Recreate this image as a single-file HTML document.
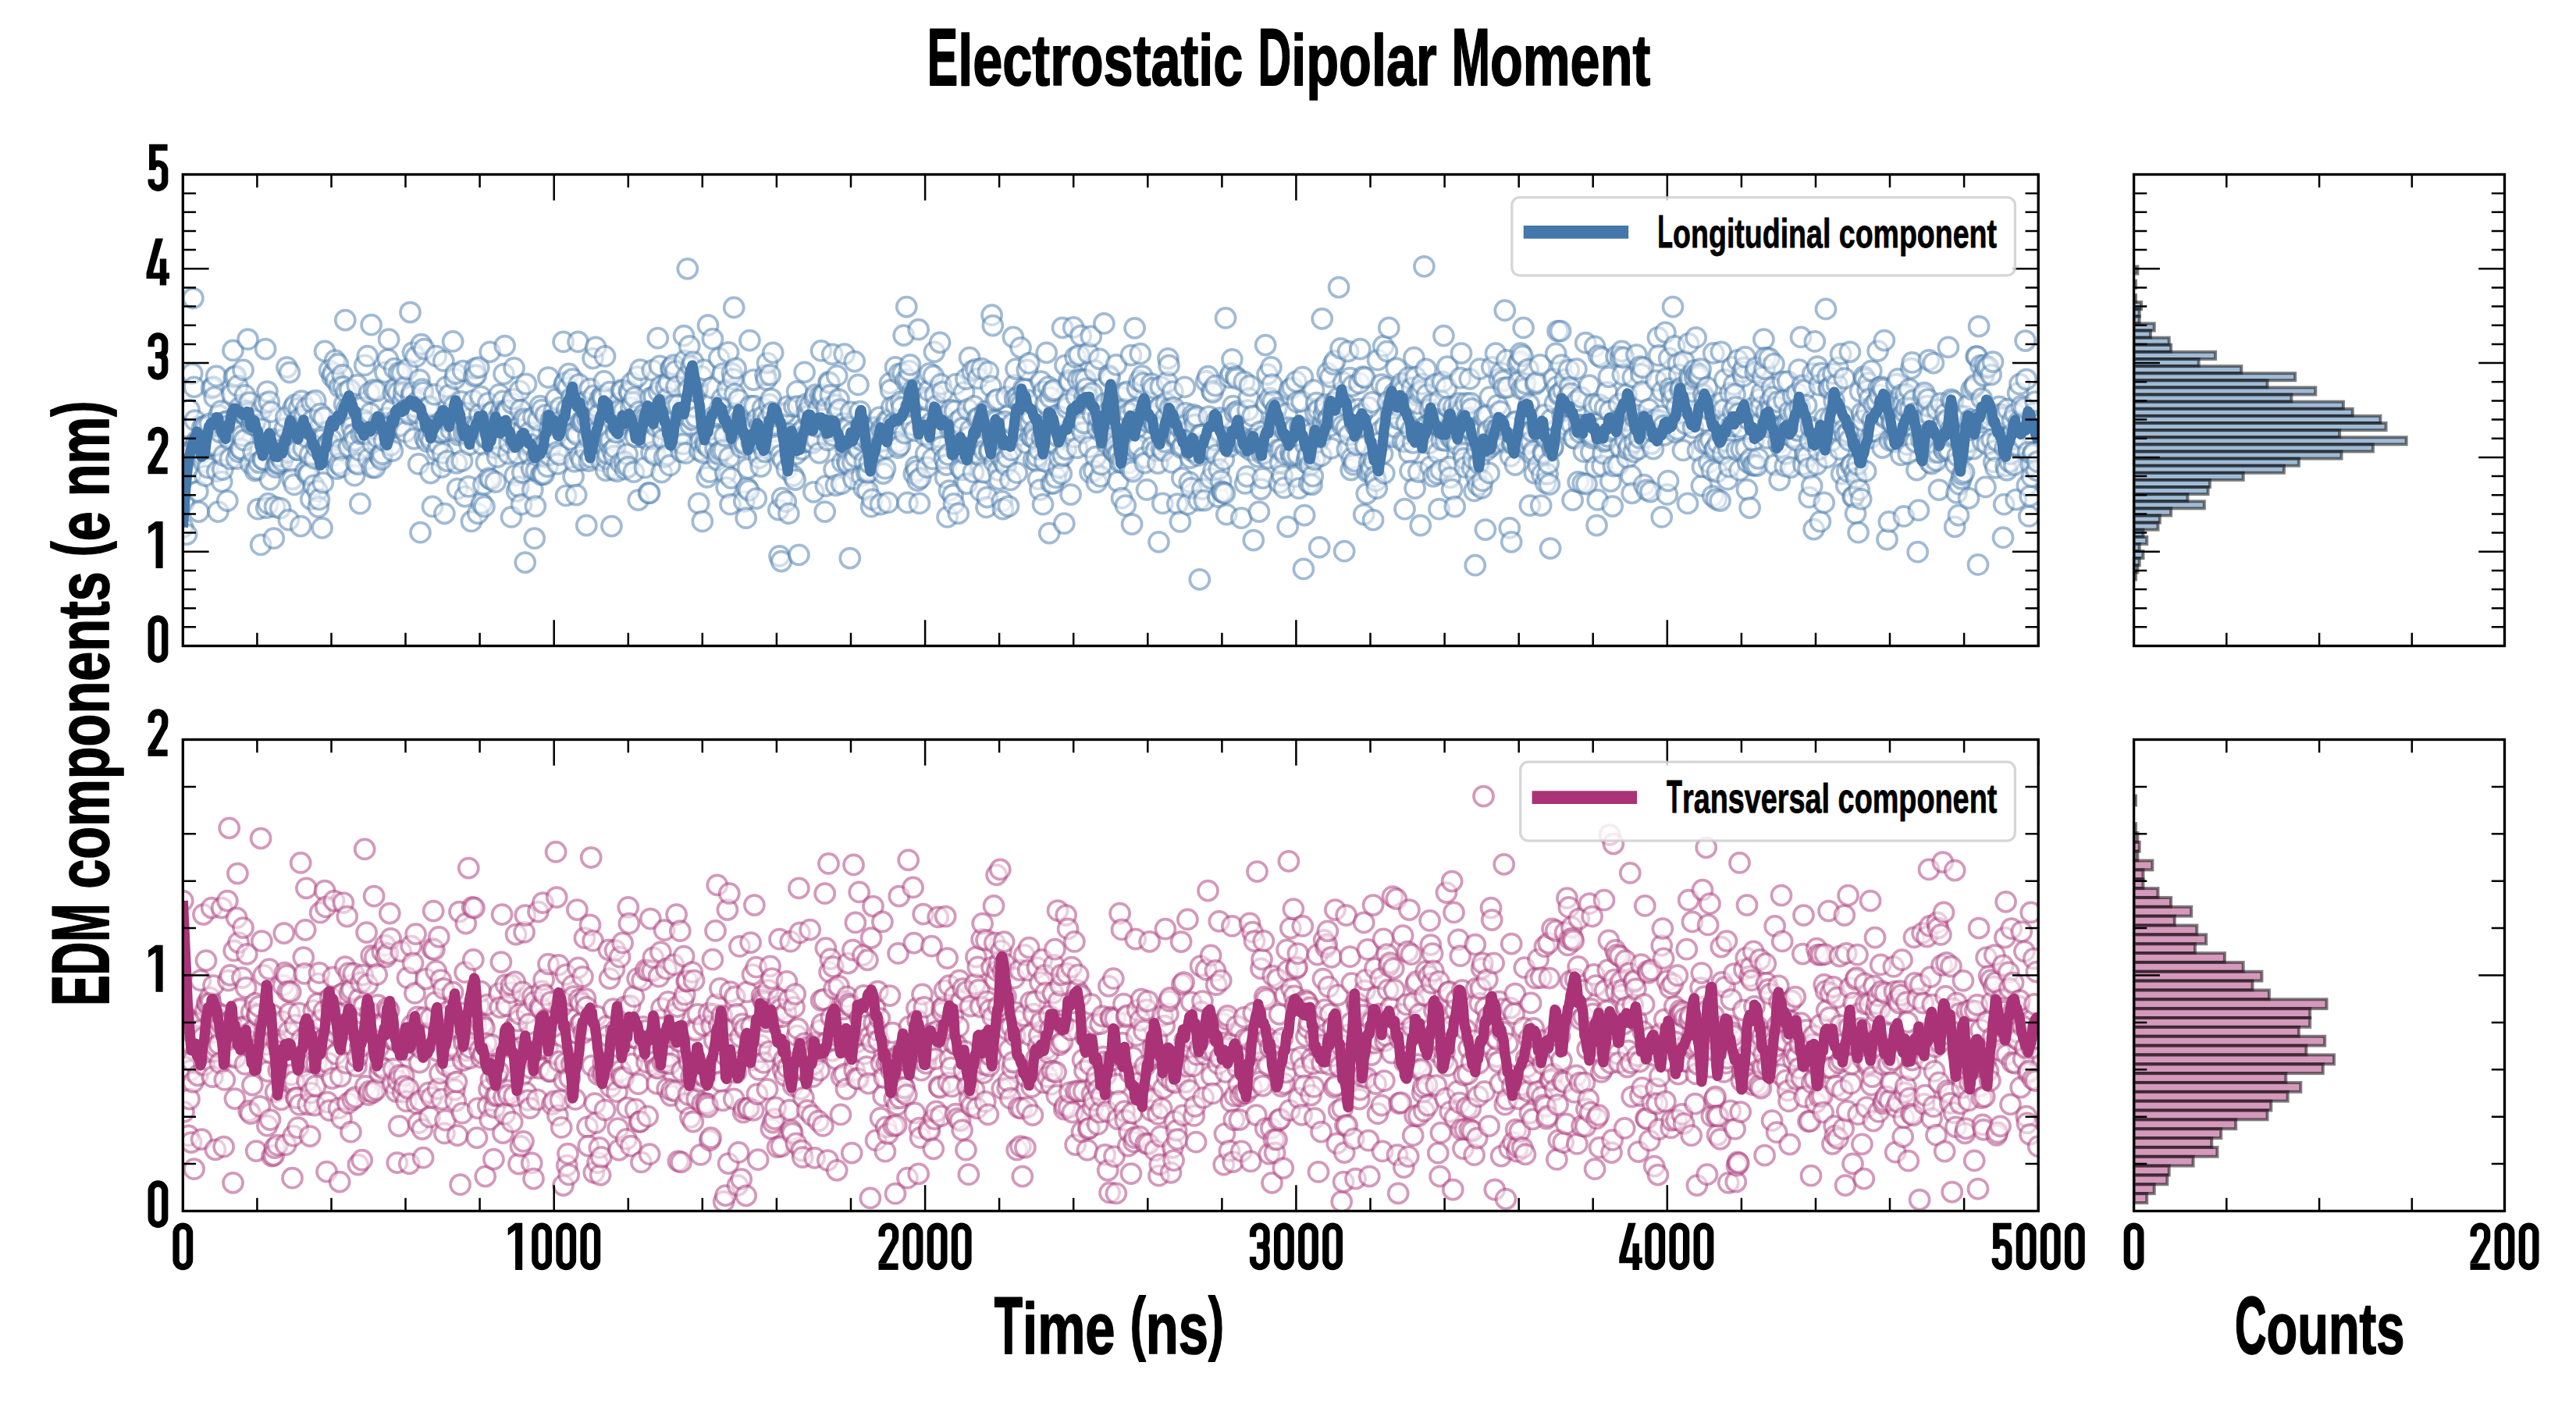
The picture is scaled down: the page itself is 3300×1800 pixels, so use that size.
<!DOCTYPE html><html><head><meta charset="utf-8"><title>Electrostatic Dipolar Moment</title><style>html,body{margin:0;padding:0;background:#fff;overflow:hidden}svg{display:block}text{white-space:pre;font-family:"Liberation Sans",sans-serif;font-weight:bold;fill:#000;stroke:#000;stroke-width:1.5px;vector-effect:non-scaling-stroke;stroke-linejoin:round}</style></head><body><svg width="3300" height="1800" viewBox="0 0 3300 1800"><rect width="3300" height="1800" fill="#fff"/><defs><clipPath id="c1"><rect x="234.3" y="223.5" width="2376.8999999999996" height="604.0"/></clipPath><clipPath id="c2"><rect x="234.3" y="947.5" width="2376.8999999999996" height="604.0"/></clipPath><clipPath id="c3"><rect x="2733.6" y="223.5" width="474.9000000000001" height="604.0"/></clipPath><clipPath id="c4"><rect x="2733.6" y="947.5" width="474.9000000000001" height="604.0"/></clipPath></defs><g clip-path="url(#c3)" fill="#4477AA" fill-opacity="0.5" stroke="#000" stroke-opacity="0.5" stroke-width="4"><rect x="2733.6" y="341.50" width="4.75" height="9.11"/><rect x="2733.6" y="350.61" width="0.00" height="9.11"/><rect x="2733.6" y="359.73" width="2.37" height="9.11"/><rect x="2733.6" y="368.84" width="0.00" height="9.11"/><rect x="2733.6" y="377.95" width="2.37" height="9.11"/><rect x="2733.6" y="387.07" width="9.50" height="9.11"/><rect x="2733.6" y="396.18" width="7.12" height="9.11"/><rect x="2733.6" y="405.30" width="7.12" height="9.11"/><rect x="2733.6" y="414.41" width="26.12" height="9.11"/><rect x="2733.6" y="423.52" width="21.37" height="9.11"/><rect x="2733.6" y="432.64" width="45.12" height="9.11"/><rect x="2733.6" y="441.75" width="47.49" height="9.11"/><rect x="2733.6" y="450.86" width="104.48" height="9.11"/><rect x="2733.6" y="459.98" width="83.11" height="9.11"/><rect x="2733.6" y="469.09" width="137.72" height="9.11"/><rect x="2733.6" y="478.20" width="206.58" height="9.11"/><rect x="2733.6" y="487.32" width="170.96" height="9.11"/><rect x="2733.6" y="496.43" width="232.70" height="9.11"/><rect x="2733.6" y="505.55" width="201.83" height="9.11"/><rect x="2733.6" y="514.66" width="268.32" height="9.11"/><rect x="2733.6" y="523.77" width="280.19" height="9.11"/><rect x="2733.6" y="532.89" width="315.81" height="9.11"/><rect x="2733.6" y="542.00" width="322.93" height="9.11"/><rect x="2733.6" y="551.11" width="263.57" height="9.11"/><rect x="2733.6" y="560.23" width="349.05" height="9.11"/><rect x="2733.6" y="569.34" width="306.31" height="9.11"/><rect x="2733.6" y="578.45" width="265.94" height="9.11"/><rect x="2733.6" y="587.57" width="211.33" height="9.11"/><rect x="2733.6" y="596.68" width="192.33" height="9.11"/><rect x="2733.6" y="605.80" width="140.10" height="9.11"/><rect x="2733.6" y="614.91" width="97.35" height="9.11"/><rect x="2733.6" y="624.02" width="94.98" height="9.11"/><rect x="2733.6" y="633.14" width="68.86" height="9.11"/><rect x="2733.6" y="642.25" width="90.23" height="9.11"/><rect x="2733.6" y="651.36" width="47.49" height="9.11"/><rect x="2733.6" y="660.48" width="33.24" height="9.11"/><rect x="2733.6" y="669.59" width="30.87" height="9.11"/><rect x="2733.6" y="678.70" width="11.87" height="9.11"/><rect x="2733.6" y="687.82" width="16.62" height="9.11"/><rect x="2733.6" y="696.93" width="7.12" height="9.11"/><rect x="2733.6" y="706.05" width="11.87" height="9.11"/><rect x="2733.6" y="715.16" width="7.12" height="9.11"/><rect x="2733.6" y="724.27" width="4.75" height="9.11"/><rect x="2733.6" y="733.39" width="2.37" height="9.11"/></g><g clip-path="url(#c4)" fill="#AA3377" fill-opacity="0.5" stroke="#000" stroke-opacity="0.5" stroke-width="4"><rect x="2733.6" y="1019.60" width="2.37" height="11.85"/><rect x="2733.6" y="1031.45" width="0.00" height="11.85"/><rect x="2733.6" y="1043.30" width="0.00" height="11.85"/><rect x="2733.6" y="1055.15" width="2.37" height="11.85"/><rect x="2733.6" y="1067.00" width="4.75" height="11.85"/><rect x="2733.6" y="1078.85" width="7.12" height="11.85"/><rect x="2733.6" y="1090.70" width="4.75" height="11.85"/><rect x="2733.6" y="1102.55" width="23.74" height="11.85"/><rect x="2733.6" y="1114.40" width="11.87" height="11.85"/><rect x="2733.6" y="1126.25" width="11.87" height="11.85"/><rect x="2733.6" y="1138.10" width="30.87" height="11.85"/><rect x="2733.6" y="1149.95" width="47.49" height="11.85"/><rect x="2733.6" y="1161.80" width="73.61" height="11.85"/><rect x="2733.6" y="1173.65" width="52.24" height="11.85"/><rect x="2733.6" y="1185.50" width="80.73" height="11.85"/><rect x="2733.6" y="1197.35" width="92.61" height="11.85"/><rect x="2733.6" y="1209.20" width="78.36" height="11.85"/><rect x="2733.6" y="1221.05" width="116.35" height="11.85"/><rect x="2733.6" y="1232.90" width="140.10" height="11.85"/><rect x="2733.6" y="1244.75" width="163.84" height="11.85"/><rect x="2733.6" y="1256.60" width="151.97" height="11.85"/><rect x="2733.6" y="1268.45" width="173.34" height="11.85"/><rect x="2733.6" y="1280.30" width="246.95" height="11.85"/><rect x="2733.6" y="1292.15" width="225.58" height="11.85"/><rect x="2733.6" y="1304.00" width="225.58" height="11.85"/><rect x="2733.6" y="1315.85" width="211.33" height="11.85"/><rect x="2733.6" y="1327.70" width="244.57" height="11.85"/><rect x="2733.6" y="1339.55" width="220.83" height="11.85"/><rect x="2733.6" y="1351.40" width="256.45" height="11.85"/><rect x="2733.6" y="1363.25" width="242.20" height="11.85"/><rect x="2733.6" y="1375.10" width="194.71" height="11.85"/><rect x="2733.6" y="1386.95" width="213.70" height="11.85"/><rect x="2733.6" y="1398.80" width="197.08" height="11.85"/><rect x="2733.6" y="1410.65" width="175.71" height="11.85"/><rect x="2733.6" y="1422.50" width="170.96" height="11.85"/><rect x="2733.6" y="1434.35" width="130.60" height="11.85"/><rect x="2733.6" y="1446.20" width="111.60" height="11.85"/><rect x="2733.6" y="1458.05" width="99.73" height="11.85"/><rect x="2733.6" y="1469.90" width="106.85" height="11.85"/><rect x="2733.6" y="1481.75" width="75.98" height="11.85"/><rect x="2733.6" y="1493.60" width="45.12" height="11.85"/><rect x="2733.6" y="1505.45" width="42.74" height="11.85"/><rect x="2733.6" y="1517.30" width="26.12" height="11.85"/><rect x="2733.6" y="1529.15" width="16.62" height="11.85"/></g><g clip-path="url(#c1)"><g fill="#fff" fill-opacity="0.5" stroke="#4477AA" stroke-opacity="0.5" stroke-width="3.75"><circle cx="234.3" cy="675.5" r="12.5"/><circle cx="235.5" cy="643.9" r="12.5"/><circle cx="236.7" cy="572" r="12.5"/><circle cx="237.9" cy="579.8" r="12.5"/><circle cx="239.1" cy="684.6" r="12.5"/><circle cx="240.2" cy="588.1" r="12.5"/><circle cx="241.4" cy="597.8" r="12.5"/><circle cx="242.6" cy="525.1" r="12.5"/><circle cx="243.8" cy="580.6" r="12.5"/><circle cx="245" cy="606.2" r="12.5"/><circle cx="246.2" cy="478.5" r="12.5"/><circle cx="247.4" cy="382" r="12.5"/><circle cx="248.6" cy="495.8" r="12.5"/><circle cx="249.7" cy="538.5" r="12.5"/><circle cx="250.9" cy="568.8" r="12.5"/><circle cx="252.1" cy="565" r="12.5"/><circle cx="253.3" cy="629.5" r="12.5"/><circle cx="254.5" cy="655.5" r="12.5"/><circle cx="255.7" cy="578.7" r="12.5"/><circle cx="256.9" cy="568" r="12.5"/><circle cx="258.1" cy="580.6" r="12.5"/><circle cx="259.3" cy="547.4" r="12.5"/><circle cx="260.4" cy="591.5" r="12.5"/><circle cx="261.6" cy="545.8" r="12.5"/><circle cx="262.8" cy="609.7" r="12.5"/><circle cx="264" cy="547" r="12.5"/><circle cx="265.2" cy="571.7" r="12.5"/><circle cx="266.4" cy="599.1" r="12.5"/><circle cx="267.6" cy="562" r="12.5"/><circle cx="268.8" cy="542.9" r="12.5"/><circle cx="270" cy="567.7" r="12.5"/><circle cx="271.1" cy="497.3" r="12.5"/><circle cx="272.3" cy="570.7" r="12.5"/><circle cx="273.5" cy="495.7" r="12.5"/><circle cx="274.7" cy="508.9" r="12.5"/><circle cx="275.9" cy="570.8" r="12.5"/><circle cx="277.1" cy="481.9" r="12.5"/><circle cx="278.3" cy="603.8" r="12.5"/><circle cx="279.5" cy="655.5" r="12.5"/><circle cx="280.6" cy="532" r="12.5"/><circle cx="281.8" cy="553.6" r="12.5"/><circle cx="283" cy="526.6" r="12.5"/><circle cx="284.2" cy="617.1" r="12.5"/><circle cx="285.4" cy="601.6" r="12.5"/><circle cx="286.6" cy="583.6" r="12.5"/><circle cx="287.8" cy="546.4" r="12.5"/><circle cx="289" cy="540.4" r="12.5"/><circle cx="290.2" cy="540" r="12.5"/><circle cx="291.3" cy="641.6" r="12.5"/><circle cx="292.5" cy="545.7" r="12.5"/><circle cx="293.7" cy="562.5" r="12.5"/><circle cx="294.9" cy="587.9" r="12.5"/><circle cx="296.1" cy="548.6" r="12.5"/><circle cx="297.3" cy="504.9" r="12.5"/><circle cx="298.5" cy="448.9" r="12.5"/><circle cx="299.7" cy="483" r="12.5"/><circle cx="300.9" cy="552.8" r="12.5"/><circle cx="302" cy="481.6" r="12.5"/><circle cx="303.2" cy="587.7" r="12.5"/><circle cx="304.4" cy="494.4" r="12.5"/><circle cx="305.6" cy="578.9" r="12.5"/><circle cx="306.8" cy="522.4" r="12.5"/><circle cx="308" cy="574.5" r="12.5"/><circle cx="309.2" cy="575.6" r="12.5"/><circle cx="310.4" cy="558.2" r="12.5"/><circle cx="311.5" cy="473.9" r="12.5"/><circle cx="312.7" cy="563.9" r="12.5"/><circle cx="313.9" cy="506.4" r="12.5"/><circle cx="315.1" cy="531.7" r="12.5"/><circle cx="316.3" cy="526.4" r="12.5"/><circle cx="317.5" cy="434.7" r="12.5"/><circle cx="318.7" cy="529.4" r="12.5"/><circle cx="319.9" cy="515.5" r="12.5"/><circle cx="321.1" cy="594" r="12.5"/><circle cx="322.2" cy="543.9" r="12.5"/><circle cx="323.4" cy="536.7" r="12.5"/><circle cx="324.6" cy="579.4" r="12.5"/><circle cx="325.8" cy="544" r="12.5"/><circle cx="327" cy="603" r="12.5"/><circle cx="328.2" cy="538.3" r="12.5"/><circle cx="329.4" cy="601" r="12.5"/><circle cx="330.6" cy="652.2" r="12.5"/><circle cx="331.8" cy="592.5" r="12.5"/><circle cx="332.9" cy="544.4" r="12.5"/><circle cx="334.1" cy="697.9" r="12.5"/><circle cx="335.3" cy="524.5" r="12.5"/><circle cx="336.5" cy="588.7" r="12.5"/><circle cx="337.7" cy="588.7" r="12.5"/><circle cx="338.9" cy="516.5" r="12.5"/><circle cx="340.1" cy="447.1" r="12.5"/><circle cx="341.3" cy="650.7" r="12.5"/><circle cx="342.4" cy="501.5" r="12.5"/><circle cx="343.6" cy="645.2" r="12.5"/><circle cx="344.8" cy="514.7" r="12.5"/><circle cx="346" cy="614.3" r="12.5"/><circle cx="347.2" cy="527.7" r="12.5"/><circle cx="348.4" cy="566.6" r="12.5"/><circle cx="349.6" cy="562.7" r="12.5"/><circle cx="350.8" cy="689.7" r="12.5"/><circle cx="352" cy="649.3" r="12.5"/><circle cx="353.1" cy="598.6" r="12.5"/><circle cx="354.3" cy="585.7" r="12.5"/><circle cx="355.5" cy="594.6" r="12.5"/><circle cx="356.7" cy="593.2" r="12.5"/><circle cx="357.9" cy="584.5" r="12.5"/><circle cx="359.1" cy="651.1" r="12.5"/><circle cx="360.3" cy="575.1" r="12.5"/><circle cx="361.5" cy="590.3" r="12.5"/><circle cx="362.7" cy="562.6" r="12.5"/><circle cx="363.8" cy="575.4" r="12.5"/><circle cx="365" cy="549" r="12.5"/><circle cx="366.2" cy="534.7" r="12.5"/><circle cx="367.4" cy="470.6" r="12.5"/><circle cx="368.6" cy="579.3" r="12.5"/><circle cx="369.8" cy="666.1" r="12.5"/><circle cx="371" cy="477.1" r="12.5"/><circle cx="372.2" cy="563.1" r="12.5"/><circle cx="373.3" cy="591.3" r="12.5"/><circle cx="374.5" cy="614" r="12.5"/><circle cx="375.7" cy="522.5" r="12.5"/><circle cx="376.9" cy="620.9" r="12.5"/><circle cx="378.1" cy="518.6" r="12.5"/><circle cx="379.3" cy="540.4" r="12.5"/><circle cx="380.5" cy="575.8" r="12.5"/><circle cx="381.7" cy="576.6" r="12.5"/><circle cx="382.9" cy="523.2" r="12.5"/><circle cx="384" cy="535.8" r="12.5"/><circle cx="385.2" cy="674" r="12.5"/><circle cx="386.4" cy="513.6" r="12.5"/><circle cx="387.6" cy="548" r="12.5"/><circle cx="388.8" cy="574" r="12.5"/><circle cx="390" cy="531.9" r="12.5"/><circle cx="391.2" cy="604.1" r="12.5"/><circle cx="392.4" cy="523.2" r="12.5"/><circle cx="393.6" cy="560.5" r="12.5"/><circle cx="394.7" cy="608.7" r="12.5"/><circle cx="395.9" cy="606.4" r="12.5"/><circle cx="397.1" cy="582.7" r="12.5"/><circle cx="398.3" cy="639.5" r="12.5"/><circle cx="399.5" cy="515.6" r="12.5"/><circle cx="400.7" cy="537.9" r="12.5"/><circle cx="401.9" cy="621.9" r="12.5"/><circle cx="403.1" cy="587.3" r="12.5"/><circle cx="404.2" cy="513.2" r="12.5"/><circle cx="405.4" cy="572.4" r="12.5"/><circle cx="406.6" cy="628.8" r="12.5"/><circle cx="407.8" cy="649.5" r="12.5"/><circle cx="409" cy="639.9" r="12.5"/><circle cx="410.2" cy="530.1" r="12.5"/><circle cx="411.4" cy="563.4" r="12.5"/><circle cx="412.6" cy="676.3" r="12.5"/><circle cx="413.8" cy="618.4" r="12.5"/><circle cx="414.9" cy="535.2" r="12.5"/><circle cx="416.1" cy="449.9" r="12.5"/><circle cx="417.3" cy="571.8" r="12.5"/><circle cx="418.5" cy="580" r="12.5"/><circle cx="419.7" cy="569.8" r="12.5"/><circle cx="420.9" cy="567.3" r="12.5"/><circle cx="422.1" cy="474.4" r="12.5"/><circle cx="423.3" cy="584.5" r="12.5"/><circle cx="424.5" cy="563.1" r="12.5"/><circle cx="425.6" cy="482.5" r="12.5"/><circle cx="426.8" cy="478" r="12.5"/><circle cx="428" cy="583.4" r="12.5"/><circle cx="429.2" cy="461.7" r="12.5"/><circle cx="430.4" cy="487.8" r="12.5"/><circle cx="431.6" cy="600.5" r="12.5"/><circle cx="432.8" cy="466.3" r="12.5"/><circle cx="434" cy="594.4" r="12.5"/><circle cx="435.1" cy="495.7" r="12.5"/><circle cx="436.3" cy="576.1" r="12.5"/><circle cx="437.5" cy="598" r="12.5"/><circle cx="438.7" cy="480.3" r="12.5"/><circle cx="439.9" cy="495.3" r="12.5"/><circle cx="441.1" cy="517.8" r="12.5"/><circle cx="442.3" cy="410.1" r="12.5"/><circle cx="443.5" cy="502.2" r="12.5"/><circle cx="444.7" cy="522.9" r="12.5"/><circle cx="445.8" cy="534.8" r="12.5"/><circle cx="447" cy="572.3" r="12.5"/><circle cx="448.2" cy="499.4" r="12.5"/><circle cx="449.4" cy="533.1" r="12.5"/><circle cx="450.6" cy="547.4" r="12.5"/><circle cx="451.8" cy="565.8" r="12.5"/><circle cx="453" cy="556.4" r="12.5"/><circle cx="454.2" cy="609.2" r="12.5"/><circle cx="455.4" cy="563.8" r="12.5"/><circle cx="456.5" cy="593" r="12.5"/><circle cx="457.7" cy="493.2" r="12.5"/><circle cx="458.9" cy="594.9" r="12.5"/><circle cx="460.1" cy="576.8" r="12.5"/><circle cx="461.3" cy="645.2" r="12.5"/><circle cx="462.5" cy="555.9" r="12.5"/><circle cx="463.7" cy="521.8" r="12.5"/><circle cx="464.9" cy="537.4" r="12.5"/><circle cx="466" cy="554.7" r="12.5"/><circle cx="467.2" cy="467.9" r="12.5"/><circle cx="468.4" cy="555.7" r="12.5"/><circle cx="469.6" cy="541.2" r="12.5"/><circle cx="470.8" cy="456.2" r="12.5"/><circle cx="472" cy="587.8" r="12.5"/><circle cx="473.2" cy="503.4" r="12.5"/><circle cx="474.4" cy="529.6" r="12.5"/><circle cx="475.6" cy="416.2" r="12.5"/><circle cx="476.7" cy="598.8" r="12.5"/><circle cx="477.9" cy="568.4" r="12.5"/><circle cx="479.1" cy="499.3" r="12.5"/><circle cx="480.3" cy="599" r="12.5"/><circle cx="481.5" cy="549.9" r="12.5"/><circle cx="482.7" cy="500.9" r="12.5"/><circle cx="483.9" cy="560.4" r="12.5"/><circle cx="485.1" cy="542.1" r="12.5"/><circle cx="486.3" cy="584.4" r="12.5"/><circle cx="487.4" cy="585.6" r="12.5"/><circle cx="488.6" cy="588.7" r="12.5"/><circle cx="489.8" cy="581.5" r="12.5"/><circle cx="491" cy="544.2" r="12.5"/><circle cx="492.2" cy="564.3" r="12.5"/><circle cx="493.4" cy="476.9" r="12.5"/><circle cx="494.6" cy="535.7" r="12.5"/><circle cx="495.8" cy="542" r="12.5"/><circle cx="496.9" cy="460.3" r="12.5"/><circle cx="498.1" cy="434.7" r="12.5"/><circle cx="499.3" cy="545.4" r="12.5"/><circle cx="500.5" cy="570.6" r="12.5"/><circle cx="501.7" cy="524.7" r="12.5"/><circle cx="502.9" cy="577.6" r="12.5"/><circle cx="504.1" cy="503.7" r="12.5"/><circle cx="505.3" cy="472.2" r="12.5"/><circle cx="506.5" cy="497.7" r="12.5"/><circle cx="507.6" cy="547.1" r="12.5"/><circle cx="508.8" cy="536.6" r="12.5"/><circle cx="510" cy="503.4" r="12.5"/><circle cx="511.2" cy="477.4" r="12.5"/><circle cx="512.4" cy="545.5" r="12.5"/><circle cx="513.6" cy="545.1" r="12.5"/><circle cx="514.8" cy="478" r="12.5"/><circle cx="516" cy="513.3" r="12.5"/><circle cx="517.2" cy="503.3" r="12.5"/><circle cx="518.3" cy="496.2" r="12.5"/><circle cx="519.5" cy="553.2" r="12.5"/><circle cx="520.7" cy="524.9" r="12.5"/><circle cx="521.9" cy="473.2" r="12.5"/><circle cx="523.1" cy="527.4" r="12.5"/><circle cx="524.3" cy="530.8" r="12.5"/><circle cx="525.5" cy="400" r="12.5"/><circle cx="526.7" cy="507.7" r="12.5"/><circle cx="527.8" cy="502.7" r="12.5"/><circle cx="529" cy="451.5" r="12.5"/><circle cx="530.2" cy="562" r="12.5"/><circle cx="531.4" cy="520.9" r="12.5"/><circle cx="532.6" cy="457.2" r="12.5"/><circle cx="533.8" cy="528.8" r="12.5"/><circle cx="535" cy="514.5" r="12.5"/><circle cx="536.2" cy="594.4" r="12.5"/><circle cx="537.4" cy="486.6" r="12.5"/><circle cx="538.5" cy="682.2" r="12.5"/><circle cx="539.7" cy="441.1" r="12.5"/><circle cx="540.9" cy="498.6" r="12.5"/><circle cx="542.1" cy="502.6" r="12.5"/><circle cx="543.3" cy="447.1" r="12.5"/><circle cx="544.5" cy="561" r="12.5"/><circle cx="545.7" cy="541.4" r="12.5"/><circle cx="546.9" cy="565.7" r="12.5"/><circle cx="548.1" cy="522.5" r="12.5"/><circle cx="549.2" cy="558.4" r="12.5"/><circle cx="550.4" cy="520.7" r="12.5"/><circle cx="551.6" cy="606.1" r="12.5"/><circle cx="552.8" cy="564.5" r="12.5"/><circle cx="554" cy="648.9" r="12.5"/><circle cx="555.2" cy="551.5" r="12.5"/><circle cx="556.4" cy="505.4" r="12.5"/><circle cx="557.6" cy="551.2" r="12.5"/><circle cx="558.7" cy="456.2" r="12.5"/><circle cx="559.9" cy="577.5" r="12.5"/><circle cx="561.1" cy="547.1" r="12.5"/><circle cx="562.3" cy="569.6" r="12.5"/><circle cx="563.5" cy="553.8" r="12.5"/><circle cx="564.7" cy="554.2" r="12.5"/><circle cx="565.9" cy="598.5" r="12.5"/><circle cx="567.1" cy="580.5" r="12.5"/><circle cx="568.3" cy="462.4" r="12.5"/><circle cx="569.4" cy="657.8" r="12.5"/><circle cx="570.6" cy="552.6" r="12.5"/><circle cx="571.8" cy="495.6" r="12.5"/><circle cx="573" cy="590.6" r="12.5"/><circle cx="574.2" cy="540.1" r="12.5"/><circle cx="575.4" cy="506.2" r="12.5"/><circle cx="576.6" cy="538.8" r="12.5"/><circle cx="577.8" cy="550.8" r="12.5"/><circle cx="579" cy="535.7" r="12.5"/><circle cx="580.1" cy="437.4" r="12.5"/><circle cx="581.3" cy="520.5" r="12.5"/><circle cx="582.5" cy="485.4" r="12.5"/><circle cx="583.7" cy="478.5" r="12.5"/><circle cx="584.9" cy="593.3" r="12.5"/><circle cx="586.1" cy="626.1" r="12.5"/><circle cx="587.3" cy="557.4" r="12.5"/><circle cx="588.5" cy="553.8" r="12.5"/><circle cx="589.6" cy="529.6" r="12.5"/><circle cx="590.8" cy="514.3" r="12.5"/><circle cx="592" cy="590.4" r="12.5"/><circle cx="593.2" cy="475.1" r="12.5"/><circle cx="594.4" cy="555" r="12.5"/><circle cx="595.6" cy="636.1" r="12.5"/><circle cx="596.8" cy="528.8" r="12.5"/><circle cx="598" cy="554" r="12.5"/><circle cx="599.2" cy="551.2" r="12.5"/><circle cx="600.3" cy="623.4" r="12.5"/><circle cx="601.5" cy="569.6" r="12.5"/><circle cx="602.7" cy="546.8" r="12.5"/><circle cx="603.9" cy="667.9" r="12.5"/><circle cx="605.1" cy="553.8" r="12.5"/><circle cx="606.3" cy="513.2" r="12.5"/><circle cx="607.5" cy="482.2" r="12.5"/><circle cx="608.7" cy="472.2" r="12.5"/><circle cx="609.9" cy="480.7" r="12.5"/><circle cx="611" cy="546" r="12.5"/><circle cx="612.2" cy="657.8" r="12.5"/><circle cx="613.4" cy="470.6" r="12.5"/><circle cx="614.6" cy="530.6" r="12.5"/><circle cx="615.8" cy="507.8" r="12.5"/><circle cx="617" cy="644.9" r="12.5"/><circle cx="618.2" cy="569.7" r="12.5"/><circle cx="619.4" cy="620.8" r="12.5"/><circle cx="620.5" cy="648.9" r="12.5"/><circle cx="621.7" cy="560.8" r="12.5"/><circle cx="622.9" cy="592.2" r="12.5"/><circle cx="624.1" cy="560.8" r="12.5"/><circle cx="625.3" cy="516.4" r="12.5"/><circle cx="626.5" cy="612.6" r="12.5"/><circle cx="627.7" cy="450.8" r="12.5"/><circle cx="628.9" cy="614.3" r="12.5"/><circle cx="630.1" cy="528.8" r="12.5"/><circle cx="631.2" cy="527.5" r="12.5"/><circle cx="632.4" cy="559.2" r="12.5"/><circle cx="633.6" cy="573.9" r="12.5"/><circle cx="634.8" cy="617.6" r="12.5"/><circle cx="636" cy="562.6" r="12.5"/><circle cx="637.2" cy="585.5" r="12.5"/><circle cx="638.4" cy="535.3" r="12.5"/><circle cx="639.6" cy="505.3" r="12.5"/><circle cx="640.7" cy="571.2" r="12.5"/><circle cx="641.9" cy="526.8" r="12.5"/><circle cx="643.1" cy="535.2" r="12.5"/><circle cx="644.3" cy="513.8" r="12.5"/><circle cx="645.5" cy="479" r="12.5"/><circle cx="646.7" cy="443" r="12.5"/><circle cx="647.9" cy="525.7" r="12.5"/><circle cx="649.1" cy="526.9" r="12.5"/><circle cx="650.3" cy="526.3" r="12.5"/><circle cx="651.4" cy="581" r="12.5"/><circle cx="652.6" cy="567.1" r="12.5"/><circle cx="653.8" cy="554.3" r="12.5"/><circle cx="655" cy="662.4" r="12.5"/><circle cx="656.2" cy="516.8" r="12.5"/><circle cx="657.4" cy="511.3" r="12.5"/><circle cx="658.6" cy="471.3" r="12.5"/><circle cx="659.8" cy="608.9" r="12.5"/><circle cx="661" cy="566" r="12.5"/><circle cx="662.1" cy="629.3" r="12.5"/><circle cx="663.3" cy="581.5" r="12.5"/><circle cx="664.5" cy="623.6" r="12.5"/><circle cx="665.7" cy="500.8" r="12.5"/><circle cx="666.9" cy="525.4" r="12.5"/><circle cx="668.1" cy="646.2" r="12.5"/><circle cx="669.3" cy="605.4" r="12.5"/><circle cx="670.5" cy="550.5" r="12.5"/><circle cx="671.6" cy="536.5" r="12.5"/><circle cx="672.8" cy="720.6" r="12.5"/><circle cx="674" cy="491.9" r="12.5"/><circle cx="675.2" cy="538.8" r="12.5"/><circle cx="676.4" cy="570.7" r="12.5"/><circle cx="677.6" cy="581.1" r="12.5"/><circle cx="678.8" cy="553.5" r="12.5"/><circle cx="680" cy="569.3" r="12.5"/><circle cx="681.2" cy="600.7" r="12.5"/><circle cx="682.3" cy="627.4" r="12.5"/><circle cx="683.5" cy="534.6" r="12.5"/><circle cx="684.7" cy="689.7" r="12.5"/><circle cx="685.9" cy="648.5" r="12.5"/><circle cx="687.1" cy="602.7" r="12.5"/><circle cx="688.3" cy="583.6" r="12.5"/><circle cx="689.5" cy="538.4" r="12.5"/><circle cx="690.7" cy="573.9" r="12.5"/><circle cx="691.9" cy="520.1" r="12.5"/><circle cx="693" cy="608.2" r="12.5"/><circle cx="694.2" cy="525.1" r="12.5"/><circle cx="695.4" cy="606.3" r="12.5"/><circle cx="696.6" cy="607.8" r="12.5"/><circle cx="697.8" cy="585.2" r="12.5"/><circle cx="699" cy="531.7" r="12.5"/><circle cx="700.2" cy="567.3" r="12.5"/><circle cx="701.4" cy="597.7" r="12.5"/><circle cx="702.5" cy="483.5" r="12.5"/><circle cx="703.7" cy="582.8" r="12.5"/><circle cx="704.9" cy="548.9" r="12.5"/><circle cx="706.1" cy="537.4" r="12.5"/><circle cx="707.3" cy="569.4" r="12.5"/><circle cx="708.5" cy="536.7" r="12.5"/><circle cx="709.7" cy="527.1" r="12.5"/><circle cx="710.9" cy="561" r="12.5"/><circle cx="712.1" cy="511.2" r="12.5"/><circle cx="713.2" cy="579.4" r="12.5"/><circle cx="714.4" cy="594.3" r="12.5"/><circle cx="715.6" cy="538.1" r="12.5"/><circle cx="716.8" cy="582.5" r="12.5"/><circle cx="718" cy="521.8" r="12.5"/><circle cx="719.2" cy="539.4" r="12.5"/><circle cx="720.4" cy="550.9" r="12.5"/><circle cx="721.6" cy="437.9" r="12.5"/><circle cx="722.8" cy="492.4" r="12.5"/><circle cx="723.9" cy="490.2" r="12.5"/><circle cx="725.1" cy="634.9" r="12.5"/><circle cx="726.3" cy="524.4" r="12.5"/><circle cx="727.5" cy="496.3" r="12.5"/><circle cx="728.7" cy="478.9" r="12.5"/><circle cx="729.9" cy="531.7" r="12.5"/><circle cx="731.1" cy="562.9" r="12.5"/><circle cx="732.3" cy="509.3" r="12.5"/><circle cx="733.4" cy="485.7" r="12.5"/><circle cx="734.6" cy="610.6" r="12.5"/><circle cx="735.8" cy="591.3" r="12.5"/><circle cx="737" cy="553.8" r="12.5"/><circle cx="738.2" cy="634" r="12.5"/><circle cx="739.4" cy="557.1" r="12.5"/><circle cx="740.6" cy="437.9" r="12.5"/><circle cx="741.8" cy="492.3" r="12.5"/><circle cx="743" cy="584.3" r="12.5"/><circle cx="744.1" cy="540.4" r="12.5"/><circle cx="745.3" cy="589.7" r="12.5"/><circle cx="746.5" cy="541.3" r="12.5"/><circle cx="747.7" cy="538.5" r="12.5"/><circle cx="748.9" cy="515.2" r="12.5"/><circle cx="750.1" cy="575.9" r="12.5"/><circle cx="751.3" cy="673" r="12.5"/><circle cx="752.5" cy="536.5" r="12.5"/><circle cx="753.7" cy="559.5" r="12.5"/><circle cx="754.8" cy="590.5" r="12.5"/><circle cx="756" cy="498" r="12.5"/><circle cx="757.2" cy="586.3" r="12.5"/><circle cx="758.4" cy="549.2" r="12.5"/><circle cx="759.6" cy="459.1" r="12.5"/><circle cx="760.8" cy="506.9" r="12.5"/><circle cx="762" cy="578.5" r="12.5"/><circle cx="763.2" cy="444.8" r="12.5"/><circle cx="764.3" cy="520.9" r="12.5"/><circle cx="765.5" cy="552.7" r="12.5"/><circle cx="766.7" cy="531.4" r="12.5"/><circle cx="767.9" cy="583" r="12.5"/><circle cx="769.1" cy="510.2" r="12.5"/><circle cx="770.3" cy="590.1" r="12.5"/><circle cx="771.5" cy="507" r="12.5"/><circle cx="772.7" cy="510.1" r="12.5"/><circle cx="773.9" cy="488.4" r="12.5"/><circle cx="775" cy="456.4" r="12.5"/><circle cx="776.2" cy="602.8" r="12.5"/><circle cx="777.4" cy="587.6" r="12.5"/><circle cx="778.6" cy="581.6" r="12.5"/><circle cx="779.8" cy="567" r="12.5"/><circle cx="781" cy="502.2" r="12.5"/><circle cx="782.2" cy="563.1" r="12.5"/><circle cx="783.4" cy="674" r="12.5"/><circle cx="784.6" cy="577.7" r="12.5"/><circle cx="785.7" cy="601.6" r="12.5"/><circle cx="786.9" cy="584.2" r="12.5"/><circle cx="788.1" cy="573.9" r="12.5"/><circle cx="789.3" cy="553.9" r="12.5"/><circle cx="790.5" cy="603.8" r="12.5"/><circle cx="791.7" cy="545.4" r="12.5"/><circle cx="792.9" cy="516.1" r="12.5"/><circle cx="794.1" cy="525.8" r="12.5"/><circle cx="795.2" cy="593.1" r="12.5"/><circle cx="796.4" cy="499.7" r="12.5"/><circle cx="797.6" cy="500.5" r="12.5"/><circle cx="798.8" cy="527.1" r="12.5"/><circle cx="800" cy="591.5" r="12.5"/><circle cx="801.2" cy="601.2" r="12.5"/><circle cx="802.4" cy="537.9" r="12.5"/><circle cx="803.6" cy="581.9" r="12.5"/><circle cx="804.8" cy="598" r="12.5"/><circle cx="805.9" cy="501" r="12.5"/><circle cx="807.1" cy="503.1" r="12.5"/><circle cx="808.3" cy="522.1" r="12.5"/><circle cx="809.5" cy="490.7" r="12.5"/><circle cx="810.7" cy="515.6" r="12.5"/><circle cx="811.9" cy="604.7" r="12.5"/><circle cx="813.1" cy="509.1" r="12.5"/><circle cx="814.3" cy="559.6" r="12.5"/><circle cx="815.5" cy="540.7" r="12.5"/><circle cx="816.6" cy="482.6" r="12.5"/><circle cx="817.8" cy="640.6" r="12.5"/><circle cx="819" cy="527.5" r="12.5"/><circle cx="820.2" cy="473.6" r="12.5"/><circle cx="821.4" cy="536.5" r="12.5"/><circle cx="822.6" cy="549" r="12.5"/><circle cx="823.8" cy="560.3" r="12.5"/><circle cx="825" cy="531.4" r="12.5"/><circle cx="826.1" cy="599.2" r="12.5"/><circle cx="827.3" cy="536" r="12.5"/><circle cx="828.5" cy="541.1" r="12.5"/><circle cx="829.7" cy="563.2" r="12.5"/><circle cx="830.9" cy="631.6" r="12.5"/><circle cx="832.1" cy="631.7" r="12.5"/><circle cx="833.3" cy="509.8" r="12.5"/><circle cx="834.5" cy="579.7" r="12.5"/><circle cx="835.7" cy="474.3" r="12.5"/><circle cx="836.8" cy="562.4" r="12.5"/><circle cx="838" cy="508" r="12.5"/><circle cx="839.2" cy="583" r="12.5"/><circle cx="840.4" cy="546.2" r="12.5"/><circle cx="841.6" cy="532.6" r="12.5"/><circle cx="842.8" cy="433.2" r="12.5"/><circle cx="844" cy="501.9" r="12.5"/><circle cx="845.2" cy="468.8" r="12.5"/><circle cx="846.4" cy="494.8" r="12.5"/><circle cx="847.5" cy="605.1" r="12.5"/><circle cx="848.7" cy="549.5" r="12.5"/><circle cx="849.9" cy="563.1" r="12.5"/><circle cx="851.1" cy="585.5" r="12.5"/><circle cx="852.3" cy="539.2" r="12.5"/><circle cx="853.5" cy="496.1" r="12.5"/><circle cx="854.7" cy="582.8" r="12.5"/><circle cx="855.9" cy="509.5" r="12.5"/><circle cx="857" cy="489.9" r="12.5"/><circle cx="858.2" cy="596.2" r="12.5"/><circle cx="859.4" cy="472" r="12.5"/><circle cx="860.6" cy="471.6" r="12.5"/><circle cx="861.8" cy="526" r="12.5"/><circle cx="863" cy="467.5" r="12.5"/><circle cx="864.2" cy="518.3" r="12.5"/><circle cx="865.4" cy="475.5" r="12.5"/><circle cx="866.6" cy="495.3" r="12.5"/><circle cx="867.7" cy="567.3" r="12.5"/><circle cx="868.9" cy="518.9" r="12.5"/><circle cx="870.1" cy="540.6" r="12.5"/><circle cx="871.3" cy="556.2" r="12.5"/><circle cx="872.5" cy="578.5" r="12.5"/><circle cx="873.7" cy="556" r="12.5"/><circle cx="874.9" cy="568.9" r="12.5"/><circle cx="876.1" cy="430.1" r="12.5"/><circle cx="877.3" cy="462" r="12.5"/><circle cx="878.4" cy="580.7" r="12.5"/><circle cx="879.6" cy="482.3" r="12.5"/><circle cx="880.8" cy="344.3" r="12.5"/><circle cx="882" cy="499.2" r="12.5"/><circle cx="883.2" cy="443.4" r="12.5"/><circle cx="884.4" cy="543.9" r="12.5"/><circle cx="885.6" cy="469.7" r="12.5"/><circle cx="886.8" cy="537.5" r="12.5"/><circle cx="887.9" cy="463.5" r="12.5"/><circle cx="889.1" cy="521.5" r="12.5"/><circle cx="890.3" cy="500.4" r="12.5"/><circle cx="891.5" cy="534.3" r="12.5"/><circle cx="892.7" cy="502.1" r="12.5"/><circle cx="893.9" cy="497.1" r="12.5"/><circle cx="895.1" cy="644.9" r="12.5"/><circle cx="896.3" cy="577.3" r="12.5"/><circle cx="897.5" cy="566.6" r="12.5"/><circle cx="898.6" cy="482.1" r="12.5"/><circle cx="899.8" cy="667.9" r="12.5"/><circle cx="901" cy="580.1" r="12.5"/><circle cx="902.2" cy="473.8" r="12.5"/><circle cx="903.4" cy="566.6" r="12.5"/><circle cx="904.6" cy="570" r="12.5"/><circle cx="905.8" cy="611.3" r="12.5"/><circle cx="907" cy="416.7" r="12.5"/><circle cx="908.2" cy="573.9" r="12.5"/><circle cx="909.3" cy="604.7" r="12.5"/><circle cx="910.5" cy="557.6" r="12.5"/><circle cx="911.7" cy="496.9" r="12.5"/><circle cx="912.9" cy="434.2" r="12.5"/><circle cx="914.1" cy="534.2" r="12.5"/><circle cx="915.3" cy="555.9" r="12.5"/><circle cx="916.5" cy="574.1" r="12.5"/><circle cx="917.7" cy="559.1" r="12.5"/><circle cx="918.8" cy="588.9" r="12.5"/><circle cx="920" cy="581.1" r="12.5"/><circle cx="921.2" cy="458.9" r="12.5"/><circle cx="922.4" cy="523.4" r="12.5"/><circle cx="923.6" cy="577.5" r="12.5"/><circle cx="924.8" cy="511.1" r="12.5"/><circle cx="926" cy="478.5" r="12.5"/><circle cx="927.2" cy="576.9" r="12.5"/><circle cx="928.4" cy="558.4" r="12.5"/><circle cx="929.5" cy="606.5" r="12.5"/><circle cx="930.7" cy="624.6" r="12.5"/><circle cx="931.9" cy="498.9" r="12.5"/><circle cx="933.1" cy="451.3" r="12.5"/><circle cx="934.3" cy="585.9" r="12.5"/><circle cx="935.5" cy="646.2" r="12.5"/><circle cx="936.7" cy="612.6" r="12.5"/><circle cx="937.9" cy="478.6" r="12.5"/><circle cx="939.1" cy="485.7" r="12.5"/><circle cx="940.2" cy="393.9" r="12.5"/><circle cx="941.4" cy="504.8" r="12.5"/><circle cx="942.6" cy="471.9" r="12.5"/><circle cx="943.8" cy="553.5" r="12.5"/><circle cx="945" cy="532.1" r="12.5"/><circle cx="946.2" cy="512.1" r="12.5"/><circle cx="947.4" cy="566.6" r="12.5"/><circle cx="948.6" cy="537.6" r="12.5"/><circle cx="949.7" cy="573.1" r="12.5"/><circle cx="950.9" cy="547.2" r="12.5"/><circle cx="952.1" cy="565.4" r="12.5"/><circle cx="953.3" cy="642.3" r="12.5"/><circle cx="954.5" cy="569.2" r="12.5"/><circle cx="955.7" cy="663.7" r="12.5"/><circle cx="956.9" cy="625.2" r="12.5"/><circle cx="958.1" cy="600.1" r="12.5"/><circle cx="959.3" cy="628.4" r="12.5"/><circle cx="960.4" cy="436.1" r="12.5"/><circle cx="961.6" cy="520.1" r="12.5"/><circle cx="962.8" cy="567.5" r="12.5"/><circle cx="964" cy="566.9" r="12.5"/><circle cx="965.2" cy="486.5" r="12.5"/><circle cx="966.4" cy="520" r="12.5"/><circle cx="967.6" cy="565.6" r="12.5"/><circle cx="968.8" cy="638.6" r="12.5"/><circle cx="970" cy="536.5" r="12.5"/><circle cx="971.1" cy="579.5" r="12.5"/><circle cx="972.3" cy="586.8" r="12.5"/><circle cx="973.5" cy="545.3" r="12.5"/><circle cx="974.7" cy="597.6" r="12.5"/><circle cx="975.9" cy="570.2" r="12.5"/><circle cx="977.1" cy="523" r="12.5"/><circle cx="978.3" cy="532.9" r="12.5"/><circle cx="979.5" cy="578.8" r="12.5"/><circle cx="980.6" cy="480.5" r="12.5"/><circle cx="981.8" cy="486.3" r="12.5"/><circle cx="983" cy="465" r="12.5"/><circle cx="984.2" cy="536.4" r="12.5"/><circle cx="985.4" cy="517.9" r="12.5"/><circle cx="986.6" cy="480.3" r="12.5"/><circle cx="987.8" cy="511" r="12.5"/><circle cx="989" cy="528.3" r="12.5"/><circle cx="990.2" cy="451.8" r="12.5"/><circle cx="991.3" cy="542.3" r="12.5"/><circle cx="992.5" cy="552.5" r="12.5"/><circle cx="993.7" cy="569" r="12.5"/><circle cx="994.9" cy="571" r="12.5"/><circle cx="996.1" cy="533.3" r="12.5"/><circle cx="997.3" cy="653.1" r="12.5"/><circle cx="998.5" cy="712.3" r="12.5"/><circle cx="999.7" cy="583.4" r="12.5"/><circle cx="1000.9" cy="719.1" r="12.5"/><circle cx="1002" cy="638.1" r="12.5"/><circle cx="1003.2" cy="589.2" r="12.5"/><circle cx="1004.4" cy="529.2" r="12.5"/><circle cx="1005.6" cy="530.4" r="12.5"/><circle cx="1006.8" cy="642.6" r="12.5"/><circle cx="1008" cy="601.1" r="12.5"/><circle cx="1009.2" cy="520.5" r="12.5"/><circle cx="1010.4" cy="657.8" r="12.5"/><circle cx="1011.5" cy="555.9" r="12.5"/><circle cx="1012.7" cy="559.8" r="12.5"/><circle cx="1013.9" cy="569.7" r="12.5"/><circle cx="1015.1" cy="564.9" r="12.5"/><circle cx="1016.3" cy="609.6" r="12.5"/><circle cx="1017.5" cy="520.9" r="12.5"/><circle cx="1018.7" cy="614.6" r="12.5"/><circle cx="1019.9" cy="581.7" r="12.5"/><circle cx="1021.1" cy="501.4" r="12.5"/><circle cx="1022.2" cy="520.6" r="12.5"/><circle cx="1023.4" cy="710.8" r="12.5"/><circle cx="1024.6" cy="559.2" r="12.5"/><circle cx="1025.8" cy="553.8" r="12.5"/><circle cx="1027" cy="575.5" r="12.5"/><circle cx="1028.2" cy="566.5" r="12.5"/><circle cx="1029.4" cy="549.4" r="12.5"/><circle cx="1030.6" cy="476.8" r="12.5"/><circle cx="1031.7" cy="558.4" r="12.5"/><circle cx="1032.9" cy="517.5" r="12.5"/><circle cx="1034.1" cy="528" r="12.5"/><circle cx="1035.3" cy="532.9" r="12.5"/><circle cx="1036.5" cy="566.2" r="12.5"/><circle cx="1037.7" cy="519.2" r="12.5"/><circle cx="1038.9" cy="543.2" r="12.5"/><circle cx="1040.1" cy="544.4" r="12.5"/><circle cx="1041.3" cy="567.6" r="12.5"/><circle cx="1042.4" cy="630.3" r="12.5"/><circle cx="1043.6" cy="509.9" r="12.5"/><circle cx="1044.8" cy="505.7" r="12.5"/><circle cx="1046" cy="562.9" r="12.5"/><circle cx="1047.2" cy="546.7" r="12.5"/><circle cx="1048.4" cy="524.6" r="12.5"/><circle cx="1049.6" cy="580.3" r="12.5"/><circle cx="1050.8" cy="507.4" r="12.5"/><circle cx="1052" cy="449.4" r="12.5"/><circle cx="1053.1" cy="512.2" r="12.5"/><circle cx="1054.3" cy="506.8" r="12.5"/><circle cx="1055.5" cy="505.3" r="12.5"/><circle cx="1056.7" cy="655.5" r="12.5"/><circle cx="1057.9" cy="622.5" r="12.5"/><circle cx="1059.1" cy="522.3" r="12.5"/><circle cx="1060.3" cy="563.8" r="12.5"/><circle cx="1061.5" cy="489.3" r="12.5"/><circle cx="1062.6" cy="490.5" r="12.5"/><circle cx="1063.8" cy="506.3" r="12.5"/><circle cx="1065" cy="552.1" r="12.5"/><circle cx="1066.2" cy="453.8" r="12.5"/><circle cx="1067.4" cy="558" r="12.5"/><circle cx="1068.6" cy="601.5" r="12.5"/><circle cx="1069.8" cy="518.7" r="12.5"/><circle cx="1071" cy="621.8" r="12.5"/><circle cx="1072.2" cy="481.4" r="12.5"/><circle cx="1073.3" cy="528.4" r="12.5"/><circle cx="1074.5" cy="511.6" r="12.5"/><circle cx="1075.7" cy="524.7" r="12.5"/><circle cx="1076.9" cy="552" r="12.5"/><circle cx="1078.1" cy="619.7" r="12.5"/><circle cx="1079.3" cy="592.1" r="12.5"/><circle cx="1080.5" cy="542.6" r="12.5"/><circle cx="1081.7" cy="453.6" r="12.5"/><circle cx="1082.9" cy="573.9" r="12.5"/><circle cx="1084" cy="547.4" r="12.5"/><circle cx="1085.2" cy="591" r="12.5"/><circle cx="1086.4" cy="594.2" r="12.5"/><circle cx="1087.6" cy="547.5" r="12.5"/><circle cx="1088.8" cy="715" r="12.5"/><circle cx="1090" cy="527.8" r="12.5"/><circle cx="1091.2" cy="554.6" r="12.5"/><circle cx="1092.4" cy="591.9" r="12.5"/><circle cx="1093.5" cy="613.7" r="12.5"/><circle cx="1094.7" cy="463" r="12.5"/><circle cx="1095.9" cy="585.3" r="12.5"/><circle cx="1097.1" cy="571.3" r="12.5"/><circle cx="1098.3" cy="562" r="12.5"/><circle cx="1099.5" cy="492.9" r="12.5"/><circle cx="1100.7" cy="576.1" r="12.5"/><circle cx="1101.9" cy="527.1" r="12.5"/><circle cx="1103.1" cy="545.4" r="12.5"/><circle cx="1104.2" cy="609.6" r="12.5"/><circle cx="1105.4" cy="565.1" r="12.5"/><circle cx="1106.6" cy="625.5" r="12.5"/><circle cx="1107.8" cy="591.2" r="12.5"/><circle cx="1109" cy="561.5" r="12.5"/><circle cx="1110.2" cy="606" r="12.5"/><circle cx="1111.4" cy="628.4" r="12.5"/><circle cx="1112.6" cy="605.2" r="12.5"/><circle cx="1113.8" cy="593" r="12.5"/><circle cx="1114.9" cy="568.1" r="12.5"/><circle cx="1116.1" cy="649.2" r="12.5"/><circle cx="1117.3" cy="639.8" r="12.5"/><circle cx="1118.5" cy="547.7" r="12.5"/><circle cx="1119.7" cy="570.9" r="12.5"/><circle cx="1120.9" cy="562.2" r="12.5"/><circle cx="1122.1" cy="547.5" r="12.5"/><circle cx="1123.3" cy="566.2" r="12.5"/><circle cx="1124.4" cy="579.3" r="12.5"/><circle cx="1125.6" cy="556.1" r="12.5"/><circle cx="1126.8" cy="534.6" r="12.5"/><circle cx="1128" cy="646.2" r="12.5"/><circle cx="1129.2" cy="548.8" r="12.5"/><circle cx="1130.4" cy="565" r="12.5"/><circle cx="1131.6" cy="606.6" r="12.5"/><circle cx="1132.8" cy="548.3" r="12.5"/><circle cx="1134" cy="600.2" r="12.5"/><circle cx="1135.1" cy="574.2" r="12.5"/><circle cx="1136.3" cy="538.7" r="12.5"/><circle cx="1137.5" cy="643.9" r="12.5"/><circle cx="1138.7" cy="539.1" r="12.5"/><circle cx="1139.9" cy="491.1" r="12.5"/><circle cx="1141.1" cy="499.5" r="12.5"/><circle cx="1142.3" cy="521.4" r="12.5"/><circle cx="1143.5" cy="555.4" r="12.5"/><circle cx="1144.7" cy="542.6" r="12.5"/><circle cx="1145.8" cy="551.9" r="12.5"/><circle cx="1147" cy="470.4" r="12.5"/><circle cx="1148.2" cy="519.5" r="12.5"/><circle cx="1149.4" cy="566.5" r="12.5"/><circle cx="1150.6" cy="573.6" r="12.5"/><circle cx="1151.8" cy="478.9" r="12.5"/><circle cx="1153" cy="570.4" r="12.5"/><circle cx="1154.2" cy="514.8" r="12.5"/><circle cx="1155.3" cy="522.1" r="12.5"/><circle cx="1156.5" cy="478.4" r="12.5"/><circle cx="1157.7" cy="429.6" r="12.5"/><circle cx="1158.9" cy="555.1" r="12.5"/><circle cx="1160.1" cy="487.3" r="12.5"/><circle cx="1161.3" cy="393.1" r="12.5"/><circle cx="1162.5" cy="643.9" r="12.5"/><circle cx="1163.7" cy="486.2" r="12.5"/><circle cx="1164.9" cy="475" r="12.5"/><circle cx="1166" cy="467.4" r="12.5"/><circle cx="1167.2" cy="521.7" r="12.5"/><circle cx="1168.4" cy="544.3" r="12.5"/><circle cx="1169.6" cy="500.3" r="12.5"/><circle cx="1170.8" cy="607.1" r="12.5"/><circle cx="1172" cy="551.9" r="12.5"/><circle cx="1173.2" cy="597.8" r="12.5"/><circle cx="1174.4" cy="602.8" r="12.5"/><circle cx="1175.6" cy="615.7" r="12.5"/><circle cx="1176.7" cy="422.2" r="12.5"/><circle cx="1177.9" cy="644.9" r="12.5"/><circle cx="1179.1" cy="612.3" r="12.5"/><circle cx="1180.3" cy="511.2" r="12.5"/><circle cx="1181.5" cy="511.7" r="12.5"/><circle cx="1182.7" cy="548.2" r="12.5"/><circle cx="1183.9" cy="509.4" r="12.5"/><circle cx="1185.1" cy="557.9" r="12.5"/><circle cx="1186.2" cy="581.3" r="12.5"/><circle cx="1187.4" cy="598.6" r="12.5"/><circle cx="1188.6" cy="513.1" r="12.5"/><circle cx="1189.8" cy="500.7" r="12.5"/><circle cx="1191" cy="478.3" r="12.5"/><circle cx="1192.2" cy="562.1" r="12.5"/><circle cx="1193.4" cy="541.5" r="12.5"/><circle cx="1194.6" cy="587.9" r="12.5"/><circle cx="1195.8" cy="481.4" r="12.5"/><circle cx="1196.9" cy="450.8" r="12.5"/><circle cx="1198.1" cy="505.9" r="12.5"/><circle cx="1199.3" cy="520.1" r="12.5"/><circle cx="1200.5" cy="543.5" r="12.5"/><circle cx="1201.7" cy="548.5" r="12.5"/><circle cx="1202.9" cy="559.9" r="12.5"/><circle cx="1204.1" cy="438.8" r="12.5"/><circle cx="1205.3" cy="492.3" r="12.5"/><circle cx="1206.5" cy="572.1" r="12.5"/><circle cx="1207.6" cy="502.1" r="12.5"/><circle cx="1208.8" cy="533.6" r="12.5"/><circle cx="1210" cy="587.3" r="12.5"/><circle cx="1211.2" cy="611.9" r="12.5"/><circle cx="1212.4" cy="595.6" r="12.5"/><circle cx="1213.6" cy="662.4" r="12.5"/><circle cx="1214.8" cy="582.4" r="12.5"/><circle cx="1216" cy="628.5" r="12.5"/><circle cx="1217.1" cy="549.5" r="12.5"/><circle cx="1218.3" cy="525.4" r="12.5"/><circle cx="1219.5" cy="547.5" r="12.5"/><circle cx="1220.7" cy="634.2" r="12.5"/><circle cx="1221.9" cy="645.4" r="12.5"/><circle cx="1223.1" cy="526.7" r="12.5"/><circle cx="1224.3" cy="492.2" r="12.5"/><circle cx="1225.5" cy="575.9" r="12.5"/><circle cx="1226.7" cy="540.3" r="12.5"/><circle cx="1227.8" cy="657.8" r="12.5"/><circle cx="1229" cy="580.7" r="12.5"/><circle cx="1230.2" cy="599.4" r="12.5"/><circle cx="1231.4" cy="536.3" r="12.5"/><circle cx="1232.6" cy="602.2" r="12.5"/><circle cx="1233.8" cy="548" r="12.5"/><circle cx="1235" cy="502.5" r="12.5"/><circle cx="1236.2" cy="581.1" r="12.5"/><circle cx="1237.4" cy="485.6" r="12.5"/><circle cx="1238.5" cy="619.6" r="12.5"/><circle cx="1239.7" cy="524.3" r="12.5"/><circle cx="1240.9" cy="560.1" r="12.5"/><circle cx="1242.1" cy="458.2" r="12.5"/><circle cx="1243.3" cy="550.6" r="12.5"/><circle cx="1244.5" cy="581.8" r="12.5"/><circle cx="1245.7" cy="475.4" r="12.5"/><circle cx="1246.9" cy="604.9" r="12.5"/><circle cx="1248" cy="520.4" r="12.5"/><circle cx="1249.2" cy="569" r="12.5"/><circle cx="1250.4" cy="473.2" r="12.5"/><circle cx="1251.6" cy="536" r="12.5"/><circle cx="1252.8" cy="484.8" r="12.5"/><circle cx="1254" cy="535.3" r="12.5"/><circle cx="1255.2" cy="583.7" r="12.5"/><circle cx="1256.4" cy="628.9" r="12.5"/><circle cx="1257.6" cy="472.1" r="12.5"/><circle cx="1258.7" cy="543.7" r="12.5"/><circle cx="1259.9" cy="605.2" r="12.5"/><circle cx="1261.1" cy="577.7" r="12.5"/><circle cx="1262.3" cy="527.2" r="12.5"/><circle cx="1263.5" cy="649.9" r="12.5"/><circle cx="1264.7" cy="637" r="12.5"/><circle cx="1265.9" cy="476.3" r="12.5"/><circle cx="1267.1" cy="577.9" r="12.5"/><circle cx="1268.3" cy="577.2" r="12.5"/><circle cx="1269.4" cy="494.8" r="12.5"/><circle cx="1270.6" cy="403.7" r="12.5"/><circle cx="1271.8" cy="417.1" r="12.5"/><circle cx="1273" cy="537.8" r="12.5"/><circle cx="1274.2" cy="592.4" r="12.5"/><circle cx="1275.4" cy="513.2" r="12.5"/><circle cx="1276.6" cy="539.2" r="12.5"/><circle cx="1277.8" cy="511.5" r="12.5"/><circle cx="1278.9" cy="602.7" r="12.5"/><circle cx="1280.1" cy="614.1" r="12.5"/><circle cx="1281.3" cy="542.9" r="12.5"/><circle cx="1282.5" cy="586.1" r="12.5"/><circle cx="1283.7" cy="642" r="12.5"/><circle cx="1284.9" cy="652.2" r="12.5"/><circle cx="1286.1" cy="592.1" r="12.5"/><circle cx="1287.3" cy="540" r="12.5"/><circle cx="1288.5" cy="596.2" r="12.5"/><circle cx="1289.6" cy="508.3" r="12.5"/><circle cx="1290.8" cy="585.7" r="12.5"/><circle cx="1292" cy="648.5" r="12.5"/><circle cx="1293.2" cy="562.6" r="12.5"/><circle cx="1294.4" cy="614.9" r="12.5"/><circle cx="1295.6" cy="576.7" r="12.5"/><circle cx="1296.8" cy="542.9" r="12.5"/><circle cx="1298" cy="431.9" r="12.5"/><circle cx="1299.2" cy="493.7" r="12.5"/><circle cx="1300.3" cy="510.9" r="12.5"/><circle cx="1301.5" cy="472.5" r="12.5"/><circle cx="1302.7" cy="605.7" r="12.5"/><circle cx="1303.9" cy="508.7" r="12.5"/><circle cx="1305.1" cy="514.9" r="12.5"/><circle cx="1306.3" cy="557.4" r="12.5"/><circle cx="1307.5" cy="445.3" r="12.5"/><circle cx="1308.7" cy="517.8" r="12.5"/><circle cx="1309.8" cy="551.4" r="12.5"/><circle cx="1311" cy="497.9" r="12.5"/><circle cx="1312.2" cy="539" r="12.5"/><circle cx="1313.4" cy="498.7" r="12.5"/><circle cx="1314.6" cy="567.7" r="12.5"/><circle cx="1315.8" cy="473.9" r="12.5"/><circle cx="1317" cy="512.7" r="12.5"/><circle cx="1318.2" cy="465.4" r="12.5"/><circle cx="1319.4" cy="540.7" r="12.5"/><circle cx="1320.5" cy="558.7" r="12.5"/><circle cx="1321.7" cy="532.4" r="12.5"/><circle cx="1322.9" cy="560.8" r="12.5"/><circle cx="1324.1" cy="588.8" r="12.5"/><circle cx="1325.3" cy="551.7" r="12.5"/><circle cx="1326.5" cy="561.8" r="12.5"/><circle cx="1327.7" cy="590.9" r="12.5"/><circle cx="1328.9" cy="584.8" r="12.5"/><circle cx="1330.1" cy="613.8" r="12.5"/><circle cx="1331.2" cy="575.9" r="12.5"/><circle cx="1332.4" cy="627.5" r="12.5"/><circle cx="1333.6" cy="488.7" r="12.5"/><circle cx="1334.8" cy="560.4" r="12.5"/><circle cx="1336" cy="646.2" r="12.5"/><circle cx="1337.2" cy="501.5" r="12.5"/><circle cx="1338.4" cy="590.8" r="12.5"/><circle cx="1339.6" cy="517.1" r="12.5"/><circle cx="1340.7" cy="451.8" r="12.5"/><circle cx="1341.9" cy="545.5" r="12.5"/><circle cx="1343.1" cy="495.6" r="12.5"/><circle cx="1344.3" cy="683.1" r="12.5"/><circle cx="1345.5" cy="509.3" r="12.5"/><circle cx="1346.7" cy="619.1" r="12.5"/><circle cx="1347.9" cy="501.6" r="12.5"/><circle cx="1349.1" cy="619.4" r="12.5"/><circle cx="1350.3" cy="499.5" r="12.5"/><circle cx="1351.4" cy="568.3" r="12.5"/><circle cx="1352.6" cy="611.7" r="12.5"/><circle cx="1353.8" cy="531.9" r="12.5"/><circle cx="1355" cy="559.1" r="12.5"/><circle cx="1356.2" cy="599" r="12.5"/><circle cx="1357.4" cy="586.6" r="12.5"/><circle cx="1358.6" cy="534.2" r="12.5"/><circle cx="1359.8" cy="606.8" r="12.5"/><circle cx="1361" cy="419.8" r="12.5"/><circle cx="1362.1" cy="583.6" r="12.5"/><circle cx="1363.3" cy="670.7" r="12.5"/><circle cx="1364.5" cy="468" r="12.5"/><circle cx="1365.7" cy="575.3" r="12.5"/><circle cx="1366.9" cy="522.7" r="12.5"/><circle cx="1368.1" cy="517.4" r="12.5"/><circle cx="1369.3" cy="487.2" r="12.5"/><circle cx="1370.5" cy="489.4" r="12.5"/><circle cx="1371.6" cy="633.5" r="12.5"/><circle cx="1372.8" cy="551.1" r="12.5"/><circle cx="1374" cy="476.3" r="12.5"/><circle cx="1375.2" cy="419.4" r="12.5"/><circle cx="1376.4" cy="559.9" r="12.5"/><circle cx="1377.6" cy="457.5" r="12.5"/><circle cx="1378.8" cy="507.9" r="12.5"/><circle cx="1380" cy="573.8" r="12.5"/><circle cx="1381.2" cy="486.7" r="12.5"/><circle cx="1382.3" cy="455" r="12.5"/><circle cx="1383.5" cy="546.8" r="12.5"/><circle cx="1384.7" cy="430.1" r="12.5"/><circle cx="1385.9" cy="486.1" r="12.5"/><circle cx="1387.1" cy="554.4" r="12.5"/><circle cx="1388.3" cy="541.8" r="12.5"/><circle cx="1389.5" cy="508.1" r="12.5"/><circle cx="1390.7" cy="486.4" r="12.5"/><circle cx="1391.9" cy="497.8" r="12.5"/><circle cx="1393" cy="508.5" r="12.5"/><circle cx="1394.2" cy="452.3" r="12.5"/><circle cx="1395.4" cy="572.9" r="12.5"/><circle cx="1396.6" cy="605.4" r="12.5"/><circle cx="1397.8" cy="430.9" r="12.5"/><circle cx="1399" cy="503.7" r="12.5"/><circle cx="1400.2" cy="531.4" r="12.5"/><circle cx="1401.4" cy="603.3" r="12.5"/><circle cx="1402.5" cy="474.6" r="12.5"/><circle cx="1403.7" cy="585.2" r="12.5"/><circle cx="1404.9" cy="617.9" r="12.5"/><circle cx="1406.1" cy="548.5" r="12.5"/><circle cx="1407.3" cy="534.6" r="12.5"/><circle cx="1408.5" cy="459.8" r="12.5"/><circle cx="1409.7" cy="610.4" r="12.5"/><circle cx="1410.9" cy="595.2" r="12.5"/><circle cx="1412.1" cy="546.8" r="12.5"/><circle cx="1413.2" cy="546.9" r="12.5"/><circle cx="1414.4" cy="414.4" r="12.5"/><circle cx="1415.6" cy="516.9" r="12.5"/><circle cx="1416.8" cy="539.5" r="12.5"/><circle cx="1418" cy="568.6" r="12.5"/><circle cx="1419.2" cy="528.8" r="12.5"/><circle cx="1420.4" cy="480.8" r="12.5"/><circle cx="1421.6" cy="483.4" r="12.5"/><circle cx="1422.7" cy="560.5" r="12.5"/><circle cx="1423.9" cy="514.1" r="12.5"/><circle cx="1425.1" cy="528.4" r="12.5"/><circle cx="1426.3" cy="576.9" r="12.5"/><circle cx="1427.5" cy="579.3" r="12.5"/><circle cx="1428.7" cy="571.1" r="12.5"/><circle cx="1429.9" cy="467.3" r="12.5"/><circle cx="1431.1" cy="581.9" r="12.5"/><circle cx="1432.3" cy="616.8" r="12.5"/><circle cx="1433.4" cy="581.6" r="12.5"/><circle cx="1434.6" cy="592.1" r="12.5"/><circle cx="1435.8" cy="508.5" r="12.5"/><circle cx="1437" cy="638.2" r="12.5"/><circle cx="1438.2" cy="592.6" r="12.5"/><circle cx="1439.4" cy="503.6" r="12.5"/><circle cx="1440.6" cy="524.1" r="12.5"/><circle cx="1441.8" cy="647.6" r="12.5"/><circle cx="1443" cy="539" r="12.5"/><circle cx="1444.1" cy="501.8" r="12.5"/><circle cx="1445.3" cy="593.4" r="12.5"/><circle cx="1446.5" cy="529.4" r="12.5"/><circle cx="1447.7" cy="600.7" r="12.5"/><circle cx="1448.9" cy="455" r="12.5"/><circle cx="1450.1" cy="671.5" r="12.5"/><circle cx="1451.3" cy="604.1" r="12.5"/><circle cx="1452.5" cy="525" r="12.5"/><circle cx="1453.6" cy="420.3" r="12.5"/><circle cx="1454.8" cy="573.9" r="12.5"/><circle cx="1456" cy="548.6" r="12.5"/><circle cx="1457.2" cy="497.4" r="12.5"/><circle cx="1458.4" cy="571.2" r="12.5"/><circle cx="1459.6" cy="487.8" r="12.5"/><circle cx="1460.8" cy="453.2" r="12.5"/><circle cx="1462" cy="535.4" r="12.5"/><circle cx="1463.2" cy="481.5" r="12.5"/><circle cx="1464.3" cy="490.8" r="12.5"/><circle cx="1465.5" cy="586" r="12.5"/><circle cx="1466.7" cy="593" r="12.5"/><circle cx="1467.9" cy="537.6" r="12.5"/><circle cx="1469.1" cy="627.4" r="12.5"/><circle cx="1470.3" cy="540.5" r="12.5"/><circle cx="1471.5" cy="535.3" r="12.5"/><circle cx="1472.7" cy="528.6" r="12.5"/><circle cx="1473.9" cy="532.4" r="12.5"/><circle cx="1475" cy="491.7" r="12.5"/><circle cx="1476.2" cy="572.8" r="12.5"/><circle cx="1477.4" cy="497" r="12.5"/><circle cx="1478.6" cy="541.1" r="12.5"/><circle cx="1479.8" cy="544.4" r="12.5"/><circle cx="1481" cy="577.3" r="12.5"/><circle cx="1482.2" cy="524.1" r="12.5"/><circle cx="1483.4" cy="593.6" r="12.5"/><circle cx="1484.5" cy="694.3" r="12.5"/><circle cx="1485.7" cy="521.6" r="12.5"/><circle cx="1486.9" cy="495.5" r="12.5"/><circle cx="1488.1" cy="574.8" r="12.5"/><circle cx="1489.3" cy="644.9" r="12.5"/><circle cx="1490.5" cy="577.7" r="12.5"/><circle cx="1491.7" cy="566" r="12.5"/><circle cx="1492.9" cy="535.6" r="12.5"/><circle cx="1494.1" cy="516.4" r="12.5"/><circle cx="1495.2" cy="489.7" r="12.5"/><circle cx="1496.4" cy="459.3" r="12.5"/><circle cx="1497.6" cy="468.2" r="12.5"/><circle cx="1498.8" cy="522.7" r="12.5"/><circle cx="1500" cy="554.2" r="12.5"/><circle cx="1501.2" cy="592.4" r="12.5"/><circle cx="1502.4" cy="501.7" r="12.5"/><circle cx="1503.6" cy="522.2" r="12.5"/><circle cx="1504.8" cy="560.8" r="12.5"/><circle cx="1505.9" cy="558.3" r="12.5"/><circle cx="1507.1" cy="558.5" r="12.5"/><circle cx="1508.3" cy="645.5" r="12.5"/><circle cx="1509.5" cy="561.9" r="12.5"/><circle cx="1510.7" cy="546.9" r="12.5"/><circle cx="1511.9" cy="668.4" r="12.5"/><circle cx="1513.1" cy="573.7" r="12.5"/><circle cx="1514.3" cy="612.4" r="12.5"/><circle cx="1515.4" cy="571.5" r="12.5"/><circle cx="1516.6" cy="555.3" r="12.5"/><circle cx="1517.8" cy="495.8" r="12.5"/><circle cx="1519" cy="529" r="12.5"/><circle cx="1520.2" cy="544" r="12.5"/><circle cx="1521.4" cy="646.2" r="12.5"/><circle cx="1522.6" cy="563.9" r="12.5"/><circle cx="1523.8" cy="617.8" r="12.5"/><circle cx="1525" cy="586.6" r="12.5"/><circle cx="1526.1" cy="625.4" r="12.5"/><circle cx="1527.3" cy="577.9" r="12.5"/><circle cx="1528.5" cy="531.3" r="12.5"/><circle cx="1529.7" cy="535.7" r="12.5"/><circle cx="1530.9" cy="543.9" r="12.5"/><circle cx="1532.1" cy="579.2" r="12.5"/><circle cx="1533.3" cy="533.6" r="12.5"/><circle cx="1534.5" cy="583.5" r="12.5"/><circle cx="1535.7" cy="641.1" r="12.5"/><circle cx="1536.8" cy="742.3" r="12.5"/><circle cx="1538" cy="556.8" r="12.5"/><circle cx="1539.2" cy="557.6" r="12.5"/><circle cx="1540.4" cy="626.5" r="12.5"/><circle cx="1541.6" cy="575.6" r="12.5"/><circle cx="1542.8" cy="641.1" r="12.5"/><circle cx="1544" cy="569.6" r="12.5"/><circle cx="1545.2" cy="488.4" r="12.5"/><circle cx="1546.3" cy="574.9" r="12.5"/><circle cx="1547.5" cy="482.2" r="12.5"/><circle cx="1548.7" cy="533.5" r="12.5"/><circle cx="1549.9" cy="574.3" r="12.5"/><circle cx="1551.1" cy="613" r="12.5"/><circle cx="1552.3" cy="500.6" r="12.5"/><circle cx="1553.5" cy="502.7" r="12.5"/><circle cx="1554.7" cy="602.4" r="12.5"/><circle cx="1555.9" cy="563.5" r="12.5"/><circle cx="1557" cy="494.1" r="12.5"/><circle cx="1558.2" cy="582.8" r="12.5"/><circle cx="1559.4" cy="538.5" r="12.5"/><circle cx="1560.6" cy="636.6" r="12.5"/><circle cx="1561.8" cy="601.2" r="12.5"/><circle cx="1563" cy="535.4" r="12.5"/><circle cx="1564.2" cy="616.2" r="12.5"/><circle cx="1565.4" cy="629.6" r="12.5"/><circle cx="1566.6" cy="631.1" r="12.5"/><circle cx="1567.7" cy="588.7" r="12.5"/><circle cx="1568.9" cy="632" r="12.5"/><circle cx="1570.1" cy="407.4" r="12.5"/><circle cx="1571.3" cy="659.1" r="12.5"/><circle cx="1572.5" cy="567.7" r="12.5"/><circle cx="1573.7" cy="536.2" r="12.5"/><circle cx="1574.9" cy="483.5" r="12.5"/><circle cx="1576.1" cy="571.8" r="12.5"/><circle cx="1577.2" cy="478.3" r="12.5"/><circle cx="1578.4" cy="460.3" r="12.5"/><circle cx="1579.6" cy="520.1" r="12.5"/><circle cx="1580.8" cy="558.5" r="12.5"/><circle cx="1582" cy="528.8" r="12.5"/><circle cx="1583.2" cy="482.4" r="12.5"/><circle cx="1584.4" cy="485.1" r="12.5"/><circle cx="1585.6" cy="526.6" r="12.5"/><circle cx="1586.8" cy="566.7" r="12.5"/><circle cx="1587.9" cy="529.8" r="12.5"/><circle cx="1589.1" cy="559.6" r="12.5"/><circle cx="1590.3" cy="663.7" r="12.5"/><circle cx="1591.5" cy="566.8" r="12.5"/><circle cx="1592.7" cy="566.2" r="12.5"/><circle cx="1593.9" cy="489" r="12.5"/><circle cx="1595.1" cy="619.4" r="12.5"/><circle cx="1596.3" cy="572.6" r="12.5"/><circle cx="1597.5" cy="610.3" r="12.5"/><circle cx="1598.6" cy="525.6" r="12.5"/><circle cx="1599.8" cy="510.1" r="12.5"/><circle cx="1601" cy="494" r="12.5"/><circle cx="1602.2" cy="576.8" r="12.5"/><circle cx="1603.4" cy="562.4" r="12.5"/><circle cx="1604.6" cy="532.9" r="12.5"/><circle cx="1605.8" cy="692" r="12.5"/><circle cx="1607" cy="564.1" r="12.5"/><circle cx="1608.1" cy="562.3" r="12.5"/><circle cx="1609.3" cy="567.9" r="12.5"/><circle cx="1610.5" cy="567.5" r="12.5"/><circle cx="1611.7" cy="585.2" r="12.5"/><circle cx="1612.9" cy="655.5" r="12.5"/><circle cx="1614.1" cy="553.1" r="12.5"/><circle cx="1615.3" cy="626.5" r="12.5"/><circle cx="1616.5" cy="581" r="12.5"/><circle cx="1617.7" cy="612.5" r="12.5"/><circle cx="1618.8" cy="558.7" r="12.5"/><circle cx="1620" cy="580.7" r="12.5"/><circle cx="1621.2" cy="442" r="12.5"/><circle cx="1622.4" cy="516.9" r="12.5"/><circle cx="1623.6" cy="479.5" r="12.5"/><circle cx="1624.8" cy="587" r="12.5"/><circle cx="1626" cy="565.2" r="12.5"/><circle cx="1627.2" cy="510" r="12.5"/><circle cx="1628.4" cy="470.4" r="12.5"/><circle cx="1629.5" cy="492.6" r="12.5"/><circle cx="1630.7" cy="514.3" r="12.5"/><circle cx="1631.9" cy="540" r="12.5"/><circle cx="1633.1" cy="560" r="12.5"/><circle cx="1634.3" cy="525.4" r="12.5"/><circle cx="1635.5" cy="522.6" r="12.5"/><circle cx="1636.7" cy="540.9" r="12.5"/><circle cx="1637.9" cy="576.2" r="12.5"/><circle cx="1639" cy="618.3" r="12.5"/><circle cx="1640.2" cy="592.5" r="12.5"/><circle cx="1641.4" cy="575.6" r="12.5"/><circle cx="1642.6" cy="609" r="12.5"/><circle cx="1643.8" cy="549.9" r="12.5"/><circle cx="1645" cy="624.9" r="12.5"/><circle cx="1646.2" cy="581.9" r="12.5"/><circle cx="1647.4" cy="552.1" r="12.5"/><circle cx="1648.6" cy="529.9" r="12.5"/><circle cx="1649.7" cy="674.8" r="12.5"/><circle cx="1650.9" cy="547.8" r="12.5"/><circle cx="1652.1" cy="498.8" r="12.5"/><circle cx="1653.3" cy="579.8" r="12.5"/><circle cx="1654.5" cy="584.4" r="12.5"/><circle cx="1655.7" cy="496.5" r="12.5"/><circle cx="1656.9" cy="582.8" r="12.5"/><circle cx="1658.1" cy="548.9" r="12.5"/><circle cx="1659.3" cy="610.6" r="12.5"/><circle cx="1660.4" cy="488.8" r="12.5"/><circle cx="1661.6" cy="515.1" r="12.5"/><circle cx="1662.8" cy="582.6" r="12.5"/><circle cx="1664" cy="625.7" r="12.5"/><circle cx="1665.2" cy="547.3" r="12.5"/><circle cx="1666.4" cy="550.1" r="12.5"/><circle cx="1667.6" cy="514" r="12.5"/><circle cx="1668.8" cy="483.1" r="12.5"/><circle cx="1669.9" cy="728.9" r="12.5"/><circle cx="1671.1" cy="660.1" r="12.5"/><circle cx="1672.3" cy="570.1" r="12.5"/><circle cx="1673.5" cy="592.8" r="12.5"/><circle cx="1674.7" cy="587" r="12.5"/><circle cx="1675.9" cy="582.8" r="12.5"/><circle cx="1677.1" cy="619.6" r="12.5"/><circle cx="1678.3" cy="595.7" r="12.5"/><circle cx="1679.5" cy="555.5" r="12.5"/><circle cx="1680.6" cy="620.8" r="12.5"/><circle cx="1681.8" cy="610.1" r="12.5"/><circle cx="1683" cy="499.8" r="12.5"/><circle cx="1684.2" cy="588.7" r="12.5"/><circle cx="1685.4" cy="528.3" r="12.5"/><circle cx="1686.6" cy="516.2" r="12.5"/><circle cx="1687.8" cy="566.7" r="12.5"/><circle cx="1689" cy="525.6" r="12.5"/><circle cx="1690.2" cy="701.1" r="12.5"/><circle cx="1691.3" cy="560.5" r="12.5"/><circle cx="1692.5" cy="583.9" r="12.5"/><circle cx="1693.7" cy="408.3" r="12.5"/><circle cx="1694.9" cy="542.1" r="12.5"/><circle cx="1696.1" cy="529.9" r="12.5"/><circle cx="1697.3" cy="521.7" r="12.5"/><circle cx="1698.5" cy="518.1" r="12.5"/><circle cx="1699.7" cy="540.8" r="12.5"/><circle cx="1700.8" cy="477.9" r="12.5"/><circle cx="1702" cy="536.1" r="12.5"/><circle cx="1703.2" cy="546.2" r="12.5"/><circle cx="1704.4" cy="483.1" r="12.5"/><circle cx="1705.6" cy="574.3" r="12.5"/><circle cx="1706.8" cy="527.1" r="12.5"/><circle cx="1708" cy="466.5" r="12.5"/><circle cx="1709.2" cy="515.8" r="12.5"/><circle cx="1710.4" cy="462.2" r="12.5"/><circle cx="1711.5" cy="522.9" r="12.5"/><circle cx="1712.7" cy="531.5" r="12.5"/><circle cx="1713.9" cy="509.8" r="12.5"/><circle cx="1715.1" cy="368.1" r="12.5"/><circle cx="1716.3" cy="538.6" r="12.5"/><circle cx="1717.5" cy="446.3" r="12.5"/><circle cx="1718.7" cy="538.3" r="12.5"/><circle cx="1719.9" cy="545.6" r="12.5"/><circle cx="1721.1" cy="490" r="12.5"/><circle cx="1722.2" cy="706.2" r="12.5"/><circle cx="1723.4" cy="519" r="12.5"/><circle cx="1724.6" cy="548.4" r="12.5"/><circle cx="1725.8" cy="575.7" r="12.5"/><circle cx="1727" cy="450.1" r="12.5"/><circle cx="1728.2" cy="557.3" r="12.5"/><circle cx="1729.4" cy="484.2" r="12.5"/><circle cx="1730.6" cy="602.1" r="12.5"/><circle cx="1731.7" cy="587.2" r="12.5"/><circle cx="1732.9" cy="494.3" r="12.5"/><circle cx="1734.1" cy="595.4" r="12.5"/><circle cx="1735.3" cy="591.1" r="12.5"/><circle cx="1736.5" cy="544.7" r="12.5"/><circle cx="1737.7" cy="569.7" r="12.5"/><circle cx="1738.9" cy="547.3" r="12.5"/><circle cx="1740.1" cy="524.1" r="12.5"/><circle cx="1741.3" cy="490.9" r="12.5"/><circle cx="1742.4" cy="447.1" r="12.5"/><circle cx="1743.6" cy="532.1" r="12.5"/><circle cx="1744.8" cy="530.4" r="12.5"/><circle cx="1746" cy="482.7" r="12.5"/><circle cx="1747.2" cy="659.1" r="12.5"/><circle cx="1748.4" cy="483.8" r="12.5"/><circle cx="1749.6" cy="571" r="12.5"/><circle cx="1750.8" cy="632.5" r="12.5"/><circle cx="1752" cy="604.6" r="12.5"/><circle cx="1753.1" cy="521.7" r="12.5"/><circle cx="1754.3" cy="592.5" r="12.5"/><circle cx="1755.5" cy="604.4" r="12.5"/><circle cx="1756.7" cy="598.8" r="12.5"/><circle cx="1757.9" cy="515.3" r="12.5"/><circle cx="1759.1" cy="666.1" r="12.5"/><circle cx="1760.3" cy="590.4" r="12.5"/><circle cx="1761.5" cy="610.4" r="12.5"/><circle cx="1762.6" cy="616.1" r="12.5"/><circle cx="1763.8" cy="625.5" r="12.5"/><circle cx="1765" cy="461.2" r="12.5"/><circle cx="1766.2" cy="568.9" r="12.5"/><circle cx="1767.4" cy="553.1" r="12.5"/><circle cx="1768.6" cy="566.3" r="12.5"/><circle cx="1769.8" cy="492.5" r="12.5"/><circle cx="1771" cy="581.4" r="12.5"/><circle cx="1772.2" cy="443.4" r="12.5"/><circle cx="1773.3" cy="606.3" r="12.5"/><circle cx="1774.5" cy="546.6" r="12.5"/><circle cx="1775.7" cy="496.1" r="12.5"/><circle cx="1776.9" cy="450.1" r="12.5"/><circle cx="1778.1" cy="514.4" r="12.5"/><circle cx="1779.3" cy="419.9" r="12.5"/><circle cx="1780.5" cy="554.1" r="12.5"/><circle cx="1781.7" cy="530.3" r="12.5"/><circle cx="1782.9" cy="556.1" r="12.5"/><circle cx="1784" cy="559.7" r="12.5"/><circle cx="1785.2" cy="518.2" r="12.5"/><circle cx="1786.4" cy="503.8" r="12.5"/><circle cx="1787.6" cy="547.6" r="12.5"/><circle cx="1788.8" cy="471.8" r="12.5"/><circle cx="1790" cy="518.9" r="12.5"/><circle cx="1791.2" cy="506.6" r="12.5"/><circle cx="1792.4" cy="537.1" r="12.5"/><circle cx="1793.5" cy="496.6" r="12.5"/><circle cx="1794.7" cy="498.6" r="12.5"/><circle cx="1795.9" cy="491.2" r="12.5"/><circle cx="1797.1" cy="565.3" r="12.5"/><circle cx="1798.3" cy="500.7" r="12.5"/><circle cx="1799.5" cy="652.2" r="12.5"/><circle cx="1800.7" cy="566.2" r="12.5"/><circle cx="1801.9" cy="541.9" r="12.5"/><circle cx="1803.1" cy="517.8" r="12.5"/><circle cx="1804.2" cy="483.9" r="12.5"/><circle cx="1805.4" cy="579.9" r="12.5"/><circle cx="1806.6" cy="603.3" r="12.5"/><circle cx="1807.8" cy="551.1" r="12.5"/><circle cx="1809" cy="496.9" r="12.5"/><circle cx="1810.2" cy="567.4" r="12.5"/><circle cx="1811.4" cy="458.1" r="12.5"/><circle cx="1812.6" cy="625.6" r="12.5"/><circle cx="1813.8" cy="483.3" r="12.5"/><circle cx="1814.9" cy="506" r="12.5"/><circle cx="1816.1" cy="517" r="12.5"/><circle cx="1817.3" cy="604.6" r="12.5"/><circle cx="1818.5" cy="503" r="12.5"/><circle cx="1819.7" cy="673" r="12.5"/><circle cx="1820.9" cy="500.3" r="12.5"/><circle cx="1822.1" cy="491.9" r="12.5"/><circle cx="1823.3" cy="555.4" r="12.5"/><circle cx="1824.4" cy="341.3" r="12.5"/><circle cx="1825.6" cy="546.2" r="12.5"/><circle cx="1826.8" cy="472.9" r="12.5"/><circle cx="1828" cy="505.8" r="12.5"/><circle cx="1829.2" cy="544.4" r="12.5"/><circle cx="1830.4" cy="568.2" r="12.5"/><circle cx="1831.6" cy="524.5" r="12.5"/><circle cx="1832.8" cy="597.8" r="12.5"/><circle cx="1834" cy="517.9" r="12.5"/><circle cx="1835.1" cy="539.2" r="12.5"/><circle cx="1836.3" cy="610.3" r="12.5"/><circle cx="1837.5" cy="529.8" r="12.5"/><circle cx="1838.7" cy="492.4" r="12.5"/><circle cx="1839.9" cy="541.1" r="12.5"/><circle cx="1841.1" cy="606.8" r="12.5"/><circle cx="1842.3" cy="580.4" r="12.5"/><circle cx="1843.5" cy="652.2" r="12.5"/><circle cx="1844.6" cy="512.7" r="12.5"/><circle cx="1845.8" cy="602.4" r="12.5"/><circle cx="1847" cy="563.9" r="12.5"/><circle cx="1848.2" cy="489.1" r="12.5"/><circle cx="1849.4" cy="430.1" r="12.5"/><circle cx="1850.6" cy="553" r="12.5"/><circle cx="1851.8" cy="564.6" r="12.5"/><circle cx="1853" cy="496.9" r="12.5"/><circle cx="1854.2" cy="469.7" r="12.5"/><circle cx="1855.3" cy="521" r="12.5"/><circle cx="1856.5" cy="598.3" r="12.5"/><circle cx="1857.7" cy="611.8" r="12.5"/><circle cx="1858.9" cy="561.6" r="12.5"/><circle cx="1860.1" cy="627" r="12.5"/><circle cx="1861.3" cy="562" r="12.5"/><circle cx="1862.5" cy="521.1" r="12.5"/><circle cx="1863.7" cy="649" r="12.5"/><circle cx="1864.9" cy="562.5" r="12.5"/><circle cx="1866" cy="536.8" r="12.5"/><circle cx="1867.2" cy="569.7" r="12.5"/><circle cx="1868.4" cy="525.6" r="12.5"/><circle cx="1869.6" cy="516.7" r="12.5"/><circle cx="1870.8" cy="484.2" r="12.5"/><circle cx="1872" cy="452.6" r="12.5"/><circle cx="1873.2" cy="525.9" r="12.5"/><circle cx="1874.4" cy="580.5" r="12.5"/><circle cx="1875.5" cy="587.4" r="12.5"/><circle cx="1876.7" cy="598.7" r="12.5"/><circle cx="1877.9" cy="516.7" r="12.5"/><circle cx="1879.1" cy="536.8" r="12.5"/><circle cx="1880.3" cy="535.3" r="12.5"/><circle cx="1881.5" cy="548.2" r="12.5"/><circle cx="1882.7" cy="485.4" r="12.5"/><circle cx="1883.9" cy="516.3" r="12.5"/><circle cx="1885.1" cy="523.5" r="12.5"/><circle cx="1886.2" cy="599.5" r="12.5"/><circle cx="1887.4" cy="587.7" r="12.5"/><circle cx="1888.6" cy="628.9" r="12.5"/><circle cx="1889.8" cy="724.2" r="12.5"/><circle cx="1891" cy="610.2" r="12.5"/><circle cx="1892.2" cy="575.8" r="12.5"/><circle cx="1893.4" cy="621.6" r="12.5"/><circle cx="1894.6" cy="593.5" r="12.5"/><circle cx="1895.8" cy="472.6" r="12.5"/><circle cx="1896.9" cy="570.6" r="12.5"/><circle cx="1898.1" cy="625.3" r="12.5"/><circle cx="1899.3" cy="615.9" r="12.5"/><circle cx="1900.5" cy="572.2" r="12.5"/><circle cx="1901.7" cy="533.5" r="12.5"/><circle cx="1902.9" cy="678.6" r="12.5"/><circle cx="1904.1" cy="577.2" r="12.5"/><circle cx="1905.3" cy="531.8" r="12.5"/><circle cx="1906.4" cy="551.8" r="12.5"/><circle cx="1907.6" cy="605.9" r="12.5"/><circle cx="1908.8" cy="508.5" r="12.5"/><circle cx="1910" cy="572.3" r="12.5"/><circle cx="1911.2" cy="470.3" r="12.5"/><circle cx="1912.4" cy="568.5" r="12.5"/><circle cx="1913.6" cy="545.8" r="12.5"/><circle cx="1914.8" cy="559.4" r="12.5"/><circle cx="1916" cy="452.7" r="12.5"/><circle cx="1917.1" cy="549.7" r="12.5"/><circle cx="1918.3" cy="519.3" r="12.5"/><circle cx="1919.5" cy="549.5" r="12.5"/><circle cx="1920.7" cy="485.4" r="12.5"/><circle cx="1921.9" cy="527" r="12.5"/><circle cx="1923.1" cy="477.8" r="12.5"/><circle cx="1924.3" cy="546.4" r="12.5"/><circle cx="1925.5" cy="488" r="12.5"/><circle cx="1926.7" cy="496.8" r="12.5"/><circle cx="1927.8" cy="397.7" r="12.5"/><circle cx="1929" cy="566.9" r="12.5"/><circle cx="1930.2" cy="461.3" r="12.5"/><circle cx="1931.4" cy="496.3" r="12.5"/><circle cx="1932.6" cy="546.8" r="12.5"/><circle cx="1933.8" cy="676.3" r="12.5"/><circle cx="1935" cy="584.4" r="12.5"/><circle cx="1936.2" cy="694.3" r="12.5"/><circle cx="1937.3" cy="568.3" r="12.5"/><circle cx="1938.5" cy="567.1" r="12.5"/><circle cx="1939.7" cy="541.4" r="12.5"/><circle cx="1940.9" cy="595.5" r="12.5"/><circle cx="1942.1" cy="539.9" r="12.5"/><circle cx="1943.3" cy="563.4" r="12.5"/><circle cx="1944.5" cy="465.6" r="12.5"/><circle cx="1945.7" cy="489.7" r="12.5"/><circle cx="1946.9" cy="462.8" r="12.5"/><circle cx="1948" cy="452.7" r="12.5"/><circle cx="1949.2" cy="498.6" r="12.5"/><circle cx="1950.4" cy="455.8" r="12.5"/><circle cx="1951.6" cy="419.9" r="12.5"/><circle cx="1952.8" cy="498.5" r="12.5"/><circle cx="1954" cy="491.3" r="12.5"/><circle cx="1955.2" cy="569.1" r="12.5"/><circle cx="1956.4" cy="529.8" r="12.5"/><circle cx="1957.6" cy="473" r="12.5"/><circle cx="1958.7" cy="518.2" r="12.5"/><circle cx="1959.9" cy="647.6" r="12.5"/><circle cx="1961.1" cy="566.1" r="12.5"/><circle cx="1962.3" cy="552.6" r="12.5"/><circle cx="1963.5" cy="581.9" r="12.5"/><circle cx="1964.7" cy="578.2" r="12.5"/><circle cx="1965.9" cy="606.3" r="12.5"/><circle cx="1967.1" cy="492" r="12.5"/><circle cx="1968.2" cy="489.8" r="12.5"/><circle cx="1969.4" cy="546.4" r="12.5"/><circle cx="1970.6" cy="596.3" r="12.5"/><circle cx="1971.8" cy="553.2" r="12.5"/><circle cx="1973" cy="467.3" r="12.5"/><circle cx="1974.2" cy="647.6" r="12.5"/><circle cx="1975.4" cy="607.7" r="12.5"/><circle cx="1976.6" cy="579.6" r="12.5"/><circle cx="1977.8" cy="581" r="12.5"/><circle cx="1978.9" cy="531.3" r="12.5"/><circle cx="1980.1" cy="618.7" r="12.5"/><circle cx="1981.3" cy="561.9" r="12.5"/><circle cx="1982.5" cy="607.4" r="12.5"/><circle cx="1983.7" cy="593.7" r="12.5"/><circle cx="1984.9" cy="620.6" r="12.5"/><circle cx="1986.1" cy="702.6" r="12.5"/><circle cx="1987.3" cy="537.4" r="12.5"/><circle cx="1988.5" cy="574.4" r="12.5"/><circle cx="1989.6" cy="572.1" r="12.5"/><circle cx="1990.8" cy="485.3" r="12.5"/><circle cx="1992" cy="516.4" r="12.5"/><circle cx="1993.2" cy="452.9" r="12.5"/><circle cx="1994.4" cy="495.7" r="12.5"/><circle cx="1995.6" cy="424" r="12.5"/><circle cx="1996.8" cy="505.9" r="12.5"/><circle cx="1998" cy="504.2" r="12.5"/><circle cx="1999.1" cy="424.2" r="12.5"/><circle cx="2000.3" cy="467.5" r="12.5"/><circle cx="2001.5" cy="531.3" r="12.5"/><circle cx="2002.7" cy="499.8" r="12.5"/><circle cx="2003.9" cy="543.1" r="12.5"/><circle cx="2005.1" cy="486.2" r="12.5"/><circle cx="2006.3" cy="544.8" r="12.5"/><circle cx="2007.5" cy="551.1" r="12.5"/><circle cx="2008.7" cy="508.4" r="12.5"/><circle cx="2009.8" cy="474.2" r="12.5"/><circle cx="2011" cy="495.8" r="12.5"/><circle cx="2012.2" cy="504.1" r="12.5"/><circle cx="2013.4" cy="543.3" r="12.5"/><circle cx="2014.6" cy="640.7" r="12.5"/><circle cx="2015.8" cy="560.9" r="12.5"/><circle cx="2017" cy="561.6" r="12.5"/><circle cx="2018.2" cy="527.2" r="12.5"/><circle cx="2019.4" cy="472.7" r="12.5"/><circle cx="2020.5" cy="513.4" r="12.5"/><circle cx="2021.7" cy="617.4" r="12.5"/><circle cx="2022.9" cy="544.5" r="12.5"/><circle cx="2024.1" cy="554" r="12.5"/><circle cx="2025.3" cy="508.9" r="12.5"/><circle cx="2026.5" cy="544.7" r="12.5"/><circle cx="2027.7" cy="619.1" r="12.5"/><circle cx="2028.9" cy="578.7" r="12.5"/><circle cx="2030" cy="552.2" r="12.5"/><circle cx="2031.2" cy="439.2" r="12.5"/><circle cx="2032.4" cy="620" r="12.5"/><circle cx="2033.6" cy="544.4" r="12.5"/><circle cx="2034.8" cy="554.1" r="12.5"/><circle cx="2036" cy="493.7" r="12.5"/><circle cx="2037.2" cy="553.3" r="12.5"/><circle cx="2038.4" cy="579.2" r="12.5"/><circle cx="2039.6" cy="561.3" r="12.5"/><circle cx="2040.7" cy="558.1" r="12.5"/><circle cx="2041.9" cy="518.1" r="12.5"/><circle cx="2043.1" cy="443.8" r="12.5"/><circle cx="2044.3" cy="598.4" r="12.5"/><circle cx="2045.5" cy="673" r="12.5"/><circle cx="2046.7" cy="640.4" r="12.5"/><circle cx="2047.9" cy="455.5" r="12.5"/><circle cx="2049.1" cy="518.3" r="12.5"/><circle cx="2050.3" cy="548.5" r="12.5"/><circle cx="2051.4" cy="458" r="12.5"/><circle cx="2052.6" cy="597.1" r="12.5"/><circle cx="2053.8" cy="581" r="12.5"/><circle cx="2055" cy="565.7" r="12.5"/><circle cx="2056.2" cy="522.5" r="12.5"/><circle cx="2057.4" cy="563.8" r="12.5"/><circle cx="2058.6" cy="502.3" r="12.5"/><circle cx="2059.8" cy="559.4" r="12.5"/><circle cx="2060.9" cy="482.8" r="12.5"/><circle cx="2062.1" cy="526.9" r="12.5"/><circle cx="2063.3" cy="616.6" r="12.5"/><circle cx="2064.5" cy="552.4" r="12.5"/><circle cx="2065.7" cy="648.5" r="12.5"/><circle cx="2066.9" cy="597" r="12.5"/><circle cx="2068.1" cy="550.2" r="12.5"/><circle cx="2069.3" cy="540.3" r="12.5"/><circle cx="2070.5" cy="456.6" r="12.5"/><circle cx="2071.6" cy="542.4" r="12.5"/><circle cx="2072.8" cy="596.3" r="12.5"/><circle cx="2074" cy="517.7" r="12.5"/><circle cx="2075.2" cy="572.6" r="12.5"/><circle cx="2076.4" cy="457.1" r="12.5"/><circle cx="2077.6" cy="449.9" r="12.5"/><circle cx="2078.8" cy="480.1" r="12.5"/><circle cx="2080" cy="458" r="12.5"/><circle cx="2081.2" cy="529.9" r="12.5"/><circle cx="2082.3" cy="563.5" r="12.5"/><circle cx="2083.5" cy="505.6" r="12.5"/><circle cx="2084.7" cy="586.4" r="12.5"/><circle cx="2085.9" cy="575.6" r="12.5"/><circle cx="2087.1" cy="571.3" r="12.5"/><circle cx="2088.3" cy="548.8" r="12.5"/><circle cx="2089.5" cy="609.4" r="12.5"/><circle cx="2090.7" cy="631.8" r="12.5"/><circle cx="2091.8" cy="483.3" r="12.5"/><circle cx="2093" cy="578.9" r="12.5"/><circle cx="2094.2" cy="566.5" r="12.5"/><circle cx="2095.4" cy="535.9" r="12.5"/><circle cx="2096.6" cy="454.5" r="12.5"/><circle cx="2097.8" cy="531.9" r="12.5"/><circle cx="2099" cy="575.2" r="12.5"/><circle cx="2100.2" cy="561.2" r="12.5"/><circle cx="2101.4" cy="469.7" r="12.5"/><circle cx="2102.5" cy="479.4" r="12.5"/><circle cx="2103.7" cy="501.7" r="12.5"/><circle cx="2104.9" cy="470.9" r="12.5"/><circle cx="2106.1" cy="621.1" r="12.5"/><circle cx="2107.3" cy="539.6" r="12.5"/><circle cx="2108.5" cy="560.2" r="12.5"/><circle cx="2109.7" cy="627.8" r="12.5"/><circle cx="2110.9" cy="537.1" r="12.5"/><circle cx="2112.1" cy="524.4" r="12.5"/><circle cx="2113.2" cy="543.8" r="12.5"/><circle cx="2114.4" cy="630" r="12.5"/><circle cx="2115.6" cy="568.5" r="12.5"/><circle cx="2116.8" cy="552.5" r="12.5"/><circle cx="2118" cy="575.1" r="12.5"/><circle cx="2119.2" cy="548.2" r="12.5"/><circle cx="2120.4" cy="537.8" r="12.5"/><circle cx="2121.6" cy="487.6" r="12.5"/><circle cx="2122.7" cy="544" r="12.5"/><circle cx="2123.9" cy="432.4" r="12.5"/><circle cx="2125.1" cy="455.4" r="12.5"/><circle cx="2126.3" cy="538.6" r="12.5"/><circle cx="2127.5" cy="532.9" r="12.5"/><circle cx="2128.7" cy="662.4" r="12.5"/><circle cx="2129.9" cy="501.2" r="12.5"/><circle cx="2131.1" cy="545.3" r="12.5"/><circle cx="2132.3" cy="557.3" r="12.5"/><circle cx="2133.4" cy="425.8" r="12.5"/><circle cx="2134.6" cy="484.9" r="12.5"/><circle cx="2135.8" cy="633.4" r="12.5"/><circle cx="2137" cy="616.1" r="12.5"/><circle cx="2138.2" cy="458.9" r="12.5"/><circle cx="2139.4" cy="497.6" r="12.5"/><circle cx="2140.6" cy="502.3" r="12.5"/><circle cx="2141.8" cy="511.9" r="12.5"/><circle cx="2143" cy="393.1" r="12.5"/><circle cx="2144.1" cy="502.6" r="12.5"/><circle cx="2145.3" cy="443.4" r="12.5"/><circle cx="2146.5" cy="553.8" r="12.5"/><circle cx="2147.7" cy="521.4" r="12.5"/><circle cx="2148.9" cy="550" r="12.5"/><circle cx="2150.1" cy="465.7" r="12.5"/><circle cx="2151.3" cy="480.1" r="12.5"/><circle cx="2152.5" cy="499.6" r="12.5"/><circle cx="2153.6" cy="497" r="12.5"/><circle cx="2154.8" cy="529.1" r="12.5"/><circle cx="2156" cy="576.9" r="12.5"/><circle cx="2157.2" cy="462.7" r="12.5"/><circle cx="2158.4" cy="499.3" r="12.5"/><circle cx="2159.6" cy="543" r="12.5"/><circle cx="2160.8" cy="508" r="12.5"/><circle cx="2162" cy="644.9" r="12.5"/><circle cx="2163.2" cy="440.2" r="12.5"/><circle cx="2164.3" cy="482.2" r="12.5"/><circle cx="2165.5" cy="485.7" r="12.5"/><circle cx="2166.7" cy="516.4" r="12.5"/><circle cx="2167.9" cy="501.5" r="12.5"/><circle cx="2169.1" cy="547.9" r="12.5"/><circle cx="2170.3" cy="474.7" r="12.5"/><circle cx="2171.5" cy="483.5" r="12.5"/><circle cx="2172.7" cy="432.4" r="12.5"/><circle cx="2173.9" cy="478.8" r="12.5"/><circle cx="2175" cy="577.3" r="12.5"/><circle cx="2176.2" cy="482.7" r="12.5"/><circle cx="2177.4" cy="479.8" r="12.5"/><circle cx="2178.6" cy="472.7" r="12.5"/><circle cx="2179.8" cy="622.3" r="12.5"/><circle cx="2181" cy="598.2" r="12.5"/><circle cx="2182.2" cy="505.8" r="12.5"/><circle cx="2183.4" cy="568" r="12.5"/><circle cx="2184.5" cy="511.3" r="12.5"/><circle cx="2185.7" cy="539.5" r="12.5"/><circle cx="2186.9" cy="496.4" r="12.5"/><circle cx="2188.1" cy="568.1" r="12.5"/><circle cx="2189.3" cy="592.3" r="12.5"/><circle cx="2190.5" cy="525" r="12.5"/><circle cx="2191.7" cy="563.6" r="12.5"/><circle cx="2192.9" cy="602.3" r="12.5"/><circle cx="2194.1" cy="635.5" r="12.5"/><circle cx="2195.2" cy="452.4" r="12.5"/><circle cx="2196.4" cy="576.4" r="12.5"/><circle cx="2197.6" cy="574.1" r="12.5"/><circle cx="2198.8" cy="639.5" r="12.5"/><circle cx="2200" cy="604.5" r="12.5"/><circle cx="2201.2" cy="567.7" r="12.5"/><circle cx="2202.4" cy="543.6" r="12.5"/><circle cx="2203.6" cy="641.6" r="12.5"/><circle cx="2204.8" cy="450.8" r="12.5"/><circle cx="2205.9" cy="515.5" r="12.5"/><circle cx="2207.1" cy="581.1" r="12.5"/><circle cx="2208.3" cy="524.9" r="12.5"/><circle cx="2209.5" cy="486.4" r="12.5"/><circle cx="2210.7" cy="565" r="12.5"/><circle cx="2211.9" cy="542.9" r="12.5"/><circle cx="2213.1" cy="614.2" r="12.5"/><circle cx="2214.3" cy="575.5" r="12.5"/><circle cx="2215.4" cy="598" r="12.5"/><circle cx="2216.6" cy="503.5" r="12.5"/><circle cx="2217.8" cy="546" r="12.5"/><circle cx="2219" cy="470.4" r="12.5"/><circle cx="2220.2" cy="527.1" r="12.5"/><circle cx="2221.4" cy="492.7" r="12.5"/><circle cx="2222.6" cy="505.2" r="12.5"/><circle cx="2223.8" cy="521.3" r="12.5"/><circle cx="2225" cy="576.6" r="12.5"/><circle cx="2226.1" cy="461.4" r="12.5"/><circle cx="2227.3" cy="530.1" r="12.5"/><circle cx="2228.5" cy="602.4" r="12.5"/><circle cx="2229.7" cy="547.4" r="12.5"/><circle cx="2230.9" cy="575.3" r="12.5"/><circle cx="2232.1" cy="476.4" r="12.5"/><circle cx="2233.3" cy="481.9" r="12.5"/><circle cx="2234.5" cy="471" r="12.5"/><circle cx="2235.6" cy="457.3" r="12.5"/><circle cx="2236.8" cy="573.9" r="12.5"/><circle cx="2238" cy="627.3" r="12.5"/><circle cx="2239.2" cy="592.6" r="12.5"/><circle cx="2240.4" cy="537.7" r="12.5"/><circle cx="2241.6" cy="650.5" r="12.5"/><circle cx="2242.8" cy="587.9" r="12.5"/><circle cx="2244" cy="523.1" r="12.5"/><circle cx="2245.2" cy="596.2" r="12.5"/><circle cx="2246.3" cy="564.5" r="12.5"/><circle cx="2247.5" cy="596" r="12.5"/><circle cx="2248.7" cy="476.7" r="12.5"/><circle cx="2249.9" cy="470.8" r="12.5"/><circle cx="2251.1" cy="596.5" r="12.5"/><circle cx="2252.3" cy="587.3" r="12.5"/><circle cx="2253.5" cy="542.3" r="12.5"/><circle cx="2254.7" cy="511.1" r="12.5"/><circle cx="2255.9" cy="521.4" r="12.5"/><circle cx="2257" cy="503" r="12.5"/><circle cx="2258.2" cy="483.2" r="12.5"/><circle cx="2259.4" cy="434.7" r="12.5"/><circle cx="2260.6" cy="472.6" r="12.5"/><circle cx="2261.8" cy="458.2" r="12.5"/><circle cx="2263" cy="527.1" r="12.5"/><circle cx="2264.2" cy="561.4" r="12.5"/><circle cx="2265.4" cy="547" r="12.5"/><circle cx="2266.5" cy="459.2" r="12.5"/><circle cx="2267.7" cy="514.3" r="12.5"/><circle cx="2268.9" cy="525" r="12.5"/><circle cx="2270.1" cy="496.9" r="12.5"/><circle cx="2271.3" cy="508.5" r="12.5"/><circle cx="2272.5" cy="466.2" r="12.5"/><circle cx="2273.7" cy="595.5" r="12.5"/><circle cx="2274.9" cy="548.1" r="12.5"/><circle cx="2276.1" cy="521.5" r="12.5"/><circle cx="2277.2" cy="514.8" r="12.5"/><circle cx="2278.4" cy="567.5" r="12.5"/><circle cx="2279.6" cy="615" r="12.5"/><circle cx="2280.8" cy="557.2" r="12.5"/><circle cx="2282" cy="573.8" r="12.5"/><circle cx="2283.2" cy="547.4" r="12.5"/><circle cx="2284.4" cy="489.1" r="12.5"/><circle cx="2285.6" cy="512.8" r="12.5"/><circle cx="2286.8" cy="597.2" r="12.5"/><circle cx="2287.9" cy="581.4" r="12.5"/><circle cx="2289.1" cy="541.6" r="12.5"/><circle cx="2290.3" cy="488.5" r="12.5"/><circle cx="2291.5" cy="544.3" r="12.5"/><circle cx="2292.7" cy="527.2" r="12.5"/><circle cx="2293.9" cy="598.8" r="12.5"/><circle cx="2295.1" cy="549.8" r="12.5"/><circle cx="2296.3" cy="560.2" r="12.5"/><circle cx="2297.4" cy="507.5" r="12.5"/><circle cx="2298.6" cy="527.5" r="12.5"/><circle cx="2299.8" cy="550.4" r="12.5"/><circle cx="2301" cy="564.2" r="12.5"/><circle cx="2302.2" cy="503.9" r="12.5"/><circle cx="2303.4" cy="551.8" r="12.5"/><circle cx="2304.6" cy="473.6" r="12.5"/><circle cx="2305.8" cy="522" r="12.5"/><circle cx="2307" cy="431.9" r="12.5"/><circle cx="2308.1" cy="547.4" r="12.5"/><circle cx="2309.3" cy="493.7" r="12.5"/><circle cx="2310.5" cy="595.3" r="12.5"/><circle cx="2311.7" cy="499.9" r="12.5"/><circle cx="2312.9" cy="581" r="12.5"/><circle cx="2314.1" cy="519.2" r="12.5"/><circle cx="2315.3" cy="585.1" r="12.5"/><circle cx="2316.5" cy="600.2" r="12.5"/><circle cx="2317.7" cy="637.2" r="12.5"/><circle cx="2318.8" cy="564.5" r="12.5"/><circle cx="2320" cy="547.1" r="12.5"/><circle cx="2321.2" cy="622.4" r="12.5"/><circle cx="2322.4" cy="478.7" r="12.5"/><circle cx="2323.6" cy="678.1" r="12.5"/><circle cx="2324.8" cy="437.4" r="12.5"/><circle cx="2326" cy="550.3" r="12.5"/><circle cx="2327.2" cy="595.1" r="12.5"/><circle cx="2328.3" cy="469.5" r="12.5"/><circle cx="2329.5" cy="576.3" r="12.5"/><circle cx="2330.7" cy="493.4" r="12.5"/><circle cx="2331.9" cy="668.2" r="12.5"/><circle cx="2333.1" cy="478" r="12.5"/><circle cx="2334.3" cy="562.1" r="12.5"/><circle cx="2335.5" cy="563.5" r="12.5"/><circle cx="2336.7" cy="643.9" r="12.5"/><circle cx="2337.9" cy="536.1" r="12.5"/><circle cx="2339" cy="395.9" r="12.5"/><circle cx="2340.2" cy="586.1" r="12.5"/><circle cx="2341.4" cy="482.7" r="12.5"/><circle cx="2342.6" cy="497.8" r="12.5"/><circle cx="2343.8" cy="496.5" r="12.5"/><circle cx="2345" cy="535.9" r="12.5"/><circle cx="2346.2" cy="564.8" r="12.5"/><circle cx="2347.4" cy="493.9" r="12.5"/><circle cx="2348.6" cy="478.6" r="12.5"/><circle cx="2349.7" cy="513.7" r="12.5"/><circle cx="2350.9" cy="534.1" r="12.5"/><circle cx="2352.1" cy="550.4" r="12.5"/><circle cx="2353.3" cy="492.6" r="12.5"/><circle cx="2354.5" cy="470.9" r="12.5"/><circle cx="2355.7" cy="542" r="12.5"/><circle cx="2356.9" cy="575.7" r="12.5"/><circle cx="2358.1" cy="453.4" r="12.5"/><circle cx="2359.2" cy="607" r="12.5"/><circle cx="2360.4" cy="532.9" r="12.5"/><circle cx="2361.6" cy="551.4" r="12.5"/><circle cx="2362.8" cy="484.5" r="12.5"/><circle cx="2364" cy="557.6" r="12.5"/><circle cx="2365.2" cy="622" r="12.5"/><circle cx="2366.4" cy="603.7" r="12.5"/><circle cx="2367.6" cy="554.1" r="12.5"/><circle cx="2368.8" cy="564.3" r="12.5"/><circle cx="2369.9" cy="450.8" r="12.5"/><circle cx="2371.1" cy="596.9" r="12.5"/><circle cx="2372.3" cy="595.2" r="12.5"/><circle cx="2373.5" cy="636.6" r="12.5"/><circle cx="2374.7" cy="636.5" r="12.5"/><circle cx="2375.9" cy="605.5" r="12.5"/><circle cx="2377.1" cy="657.8" r="12.5"/><circle cx="2378.3" cy="612.8" r="12.5"/><circle cx="2379.5" cy="595" r="12.5"/><circle cx="2380.6" cy="682.2" r="12.5"/><circle cx="2381.8" cy="627.6" r="12.5"/><circle cx="2383" cy="501.6" r="12.5"/><circle cx="2384.2" cy="639.4" r="12.5"/><circle cx="2385.4" cy="529" r="12.5"/><circle cx="2386.6" cy="538.7" r="12.5"/><circle cx="2387.8" cy="482.4" r="12.5"/><circle cx="2389" cy="485.3" r="12.5"/><circle cx="2390.1" cy="603.7" r="12.5"/><circle cx="2391.3" cy="528.7" r="12.5"/><circle cx="2392.5" cy="500" r="12.5"/><circle cx="2393.7" cy="490.5" r="12.5"/><circle cx="2394.9" cy="511.2" r="12.5"/><circle cx="2396.1" cy="561.2" r="12.5"/><circle cx="2397.3" cy="475.1" r="12.5"/><circle cx="2398.5" cy="537.8" r="12.5"/><circle cx="2399.7" cy="552.5" r="12.5"/><circle cx="2400.8" cy="518.4" r="12.5"/><circle cx="2402" cy="546" r="12.5"/><circle cx="2403.2" cy="552.7" r="12.5"/><circle cx="2404.4" cy="514.5" r="12.5"/><circle cx="2405.6" cy="449.6" r="12.5"/><circle cx="2406.8" cy="496.8" r="12.5"/><circle cx="2408" cy="506.1" r="12.5"/><circle cx="2409.2" cy="531.7" r="12.5"/><circle cx="2410.4" cy="495.5" r="12.5"/><circle cx="2411.5" cy="573.5" r="12.5"/><circle cx="2412.7" cy="498.1" r="12.5"/><circle cx="2413.9" cy="436.1" r="12.5"/><circle cx="2415.1" cy="521.7" r="12.5"/><circle cx="2416.3" cy="536.1" r="12.5"/><circle cx="2417.5" cy="691" r="12.5"/><circle cx="2418.7" cy="525.9" r="12.5"/><circle cx="2419.9" cy="668.4" r="12.5"/><circle cx="2421" cy="564.4" r="12.5"/><circle cx="2422.2" cy="530" r="12.5"/><circle cx="2423.4" cy="539.4" r="12.5"/><circle cx="2424.6" cy="542.1" r="12.5"/><circle cx="2425.8" cy="563.9" r="12.5"/><circle cx="2427" cy="521.2" r="12.5"/><circle cx="2428.2" cy="566.1" r="12.5"/><circle cx="2429.4" cy="492.1" r="12.5"/><circle cx="2430.6" cy="556.1" r="12.5"/><circle cx="2431.7" cy="485.3" r="12.5"/><circle cx="2432.9" cy="534.7" r="12.5"/><circle cx="2434.1" cy="543.7" r="12.5"/><circle cx="2435.3" cy="582.9" r="12.5"/><circle cx="2436.5" cy="505.5" r="12.5"/><circle cx="2437.7" cy="518.1" r="12.5"/><circle cx="2438.9" cy="661.4" r="12.5"/><circle cx="2440.1" cy="528.1" r="12.5"/><circle cx="2441.3" cy="505.2" r="12.5"/><circle cx="2442.4" cy="522.2" r="12.5"/><circle cx="2443.6" cy="569.7" r="12.5"/><circle cx="2444.8" cy="581.4" r="12.5"/><circle cx="2446" cy="498.5" r="12.5"/><circle cx="2447.2" cy="523.7" r="12.5"/><circle cx="2448.4" cy="472.1" r="12.5"/><circle cx="2449.6" cy="464.4" r="12.5"/><circle cx="2450.8" cy="512.9" r="12.5"/><circle cx="2451.9" cy="529.9" r="12.5"/><circle cx="2453.1" cy="539.2" r="12.5"/><circle cx="2454.3" cy="566.2" r="12.5"/><circle cx="2455.5" cy="602" r="12.5"/><circle cx="2456.7" cy="707.2" r="12.5"/><circle cx="2457.9" cy="653.7" r="12.5"/><circle cx="2459.1" cy="539.6" r="12.5"/><circle cx="2460.3" cy="542.6" r="12.5"/><circle cx="2461.5" cy="562.9" r="12.5"/><circle cx="2462.6" cy="552.6" r="12.5"/><circle cx="2463.8" cy="506.8" r="12.5"/><circle cx="2465" cy="503" r="12.5"/><circle cx="2466.2" cy="536.2" r="12.5"/><circle cx="2467.4" cy="556.5" r="12.5"/><circle cx="2468.6" cy="520" r="12.5"/><circle cx="2469.8" cy="511.5" r="12.5"/><circle cx="2471" cy="461.3" r="12.5"/><circle cx="2472.2" cy="592.2" r="12.5"/><circle cx="2473.3" cy="532.7" r="12.5"/><circle cx="2474.5" cy="594" r="12.5"/><circle cx="2475.7" cy="577.7" r="12.5"/><circle cx="2476.9" cy="465" r="12.5"/><circle cx="2478.1" cy="579.8" r="12.5"/><circle cx="2479.3" cy="568.4" r="12.5"/><circle cx="2480.5" cy="590" r="12.5"/><circle cx="2481.7" cy="524.7" r="12.5"/><circle cx="2482.8" cy="579.6" r="12.5"/><circle cx="2484" cy="627.5" r="12.5"/><circle cx="2485.2" cy="549.8" r="12.5"/><circle cx="2486.4" cy="516.6" r="12.5"/><circle cx="2487.6" cy="552.8" r="12.5"/><circle cx="2488.8" cy="543" r="12.5"/><circle cx="2490" cy="574.8" r="12.5"/><circle cx="2491.2" cy="577.7" r="12.5"/><circle cx="2492.4" cy="530.3" r="12.5"/><circle cx="2493.5" cy="574.3" r="12.5"/><circle cx="2494.7" cy="537.6" r="12.5"/><circle cx="2495.9" cy="444.8" r="12.5"/><circle cx="2497.1" cy="576.9" r="12.5"/><circle cx="2498.3" cy="552" r="12.5"/><circle cx="2499.5" cy="511.9" r="12.5"/><circle cx="2500.7" cy="559.7" r="12.5"/><circle cx="2501.9" cy="514" r="12.5"/><circle cx="2503.1" cy="557.7" r="12.5"/><circle cx="2504.2" cy="674.8" r="12.5"/><circle cx="2505.4" cy="594.1" r="12.5"/><circle cx="2506.6" cy="631.3" r="12.5"/><circle cx="2507.8" cy="584.1" r="12.5"/><circle cx="2509" cy="660.1" r="12.5"/><circle cx="2510.2" cy="620.4" r="12.5"/><circle cx="2511.4" cy="532.7" r="12.5"/><circle cx="2512.6" cy="613.3" r="12.5"/><circle cx="2513.7" cy="607.8" r="12.5"/><circle cx="2514.9" cy="579.8" r="12.5"/><circle cx="2516.1" cy="605.2" r="12.5"/><circle cx="2517.3" cy="533.3" r="12.5"/><circle cx="2518.5" cy="575.7" r="12.5"/><circle cx="2519.7" cy="565.7" r="12.5"/><circle cx="2520.9" cy="519.7" r="12.5"/><circle cx="2522.1" cy="638.3" r="12.5"/><circle cx="2523.3" cy="566.1" r="12.5"/><circle cx="2524.4" cy="537.4" r="12.5"/><circle cx="2525.6" cy="498.9" r="12.5"/><circle cx="2526.8" cy="541.4" r="12.5"/><circle cx="2528" cy="575" r="12.5"/><circle cx="2529.2" cy="495.9" r="12.5"/><circle cx="2530.4" cy="493" r="12.5"/><circle cx="2531.6" cy="456.6" r="12.5"/><circle cx="2532.8" cy="456.8" r="12.5"/><circle cx="2534" cy="723.4" r="12.5"/><circle cx="2535.1" cy="418" r="12.5"/><circle cx="2536.3" cy="537.2" r="12.5"/><circle cx="2537.5" cy="468.1" r="12.5"/><circle cx="2538.7" cy="510.7" r="12.5"/><circle cx="2539.9" cy="565.5" r="12.5"/><circle cx="2541.1" cy="481.3" r="12.5"/><circle cx="2542.3" cy="467.8" r="12.5"/><circle cx="2543.5" cy="623.9" r="12.5"/><circle cx="2544.6" cy="471.4" r="12.5"/><circle cx="2545.8" cy="569.1" r="12.5"/><circle cx="2547" cy="469.9" r="12.5"/><circle cx="2548.2" cy="530.4" r="12.5"/><circle cx="2549.4" cy="538.4" r="12.5"/><circle cx="2550.6" cy="480" r="12.5"/><circle cx="2551.8" cy="562.9" r="12.5"/><circle cx="2553" cy="463.5" r="12.5"/><circle cx="2554.2" cy="591.9" r="12.5"/><circle cx="2555.3" cy="577.7" r="12.5"/><circle cx="2556.5" cy="599.3" r="12.5"/><circle cx="2557.7" cy="533.6" r="12.5"/><circle cx="2558.9" cy="564.8" r="12.5"/><circle cx="2560.1" cy="530.4" r="12.5"/><circle cx="2561.3" cy="520.9" r="12.5"/><circle cx="2562.5" cy="539" r="12.5"/><circle cx="2563.7" cy="530.9" r="12.5"/><circle cx="2564.9" cy="534.8" r="12.5"/><circle cx="2566" cy="688.7" r="12.5"/><circle cx="2567.2" cy="646.2" r="12.5"/><circle cx="2568.4" cy="574.1" r="12.5"/><circle cx="2569.6" cy="597.1" r="12.5"/><circle cx="2570.8" cy="602.3" r="12.5"/><circle cx="2572" cy="524.1" r="12.5"/><circle cx="2573.2" cy="577.2" r="12.5"/><circle cx="2574.4" cy="591.5" r="12.5"/><circle cx="2575.5" cy="581.5" r="12.5"/><circle cx="2576.7" cy="557.1" r="12.5"/><circle cx="2577.9" cy="538.8" r="12.5"/><circle cx="2579.1" cy="562.5" r="12.5"/><circle cx="2580.3" cy="595.6" r="12.5"/><circle cx="2581.5" cy="530" r="12.5"/><circle cx="2582.7" cy="640" r="12.5"/><circle cx="2583.9" cy="570.9" r="12.5"/><circle cx="2585.1" cy="503.6" r="12.5"/><circle cx="2586.2" cy="540.7" r="12.5"/><circle cx="2587.4" cy="492.2" r="12.5"/><circle cx="2588.6" cy="543.6" r="12.5"/><circle cx="2589.8" cy="520" r="12.5"/><circle cx="2591" cy="542.9" r="12.5"/><circle cx="2592.2" cy="562.1" r="12.5"/><circle cx="2593.4" cy="522.6" r="12.5"/><circle cx="2594.6" cy="436.5" r="12.5"/><circle cx="2595.8" cy="486" r="12.5"/><circle cx="2596.9" cy="621.8" r="12.5"/><circle cx="2598.1" cy="579.3" r="12.5"/><circle cx="2599.3" cy="661.4" r="12.5"/><circle cx="2600.5" cy="635.6" r="12.5"/><circle cx="2601.7" cy="594.7" r="12.5"/><circle cx="2602.9" cy="610.6" r="12.5"/><circle cx="2604.1" cy="582.4" r="12.5"/><circle cx="2605.3" cy="579.6" r="12.5"/><circle cx="2606.4" cy="528.3" r="12.5"/><circle cx="2607.6" cy="514.6" r="12.5"/><circle cx="2608.8" cy="602.7" r="12.5"/><circle cx="2610" cy="591.4" r="12.5"/><circle cx="2611.2" cy="543.2" r="12.5"/></g></g><g clip-path="url(#c1)"><polyline fill="none" stroke="#4477AA" stroke-width="13.3" stroke-linejoin="round" stroke-linecap="butt" points="234.3,675.6 235.5,658.8 236.7,641.9 237.9,625.1 239.1,612.6 240.2,600.1 241.4,587.6 242.6,583.5 243.8,579.4 245,575.2 246.2,571.1 247.4,567 248.6,561.2 249.7,564.3 250.9,559.6 252.1,553 253.3,554.1 254.5,558.4 255.7,568.5 256.9,578.2 258.1,585.3 259.3,578.5 260.4,577.4 261.6,583 262.8,578 264,567.5 265.2,560.2 266.4,554.5 267.6,546.1 268.8,546.7 270,542.3 271.1,541.2 272.3,544.6 273.5,542.1 274.7,543.3 275.9,540.1 277.1,534.6 278.3,536.8 279.5,535 280.6,542.8 281.8,544.6 283,549.9 284.2,554.7 285.4,552 286.6,553.2 287.8,559.6 289,562.4 290.2,551.3 291.3,545.1 292.5,550.6 293.7,549 294.9,541 296.1,531 297.3,527.5 298.5,526.8 299.7,523.3 300.9,525.3 302,523.3 303.2,525.6 304.4,527.5 305.6,527.5 306.8,528.3 308,527.6 309.2,528.5 310.4,530.5 311.5,530.9 312.7,531.7 313.9,531.4 315.1,528.6 316.3,527.4 317.5,531.2 318.7,527.8 319.9,537.4 321.1,546.5 322.2,547.6 323.4,546.1 324.6,539 325.8,538.7 327,542.8 328.2,549.8 329.4,550.8 330.6,552.6 331.8,563 332.9,571.9 334.1,575.1 335.3,578.4 336.5,584 337.7,579.7 338.9,573.7 340.1,572.4 341.3,565.4 342.4,561.8 343.6,564.1 344.8,554.9 346,557.2 347.2,562 348.4,567.6 349.6,571.8 350.8,576.4 352,585.1 353.1,584 354.3,583.5 355.5,585.5 356.7,580.2 357.9,579 359.1,573 360.3,576.3 361.5,580.9 362.7,576.7 363.8,566.4 365,562.8 366.2,565.8 367.4,557.5 368.6,551.6 369.8,550.7 371,541.3 372.2,538.5 373.3,544.5 374.5,544.1 375.7,546.3 376.9,549.6 378.1,554.5 379.3,558.4 380.5,561.6 381.7,563 382.9,556.7 384,547.3 385.2,545.7 386.4,545.7 387.6,544.3 388.8,537.9 390,545.1 391.2,545.9 392.4,547 393.6,551.9 394.7,557 395.9,556.7 397.1,557.1 398.3,558.1 399.5,565.7 400.7,571.2 401.9,568.4 403.1,570.7 404.2,576.4 405.4,578.2 406.6,585 407.8,584.3 409,589.7 410.2,596.2 411.4,594.4 412.6,594.6 413.8,589 414.9,578.7 416.1,575 417.3,574.2 418.5,568.7 419.7,558.9 420.9,555.1 422.1,548.9 423.3,542.7 424.5,544.2 425.6,538.6 426.8,541.7 428,546 429.2,542 430.4,538.4 431.6,534.8 432.8,532.3 434,535.1 435.1,537.6 436.3,534.8 437.5,533 438.7,530.2 439.9,523.5 441.1,520.2 442.3,520.4 443.5,515.4 444.7,512.5 445.8,510.3 447,506.7 448.2,513.9 449.4,512.8 450.6,517.3 451.8,519.5 453,529.1 454.2,527.5 455.4,526.1 456.5,536.1 457.7,545.3 458.9,546 460.1,544.2 461.3,548.9 462.5,551.3 463.7,548.9 464.9,554.9 466,558.1 467.2,553.2 468.4,549.6 469.6,553.4 470.8,547.5 472,546.3 473.2,552.6 474.4,552.8 475.6,550.6 476.7,548.8 477.9,545.3 479.1,545.6 480.3,544.7 481.5,540.1 482.7,536.3 483.9,533.6 485.1,533.9 486.3,535.5 487.4,540.2 488.6,546 489.8,552.2 491,552.4 492.2,561.1 493.4,567 494.6,557.1 495.8,570.3 496.9,566.7 498.1,561.6 499.3,559.7 500.5,545.6 501.7,537.7 502.9,539.6 504.1,542.3 505.3,538.8 506.5,527.2 507.6,525.2 508.8,526.7 510,524.5 511.2,523.1 512.4,521.9 513.6,522.3 514.8,527.7 516,523.7 517.2,524 518.3,525.5 519.5,518.2 520.7,520.6 521.9,518.9 523.1,517.9 524.3,515.1 525.5,512.9 526.7,517.4 527.8,515.3 529,515 530.2,514.6 531.4,514.5 532.6,521.1 533.8,520.6 535,517.3 536.2,522 537.4,523.9 538.5,521.9 539.7,525.9 540.9,534.2 542.1,533.1 543.3,536.2 544.5,545.4 545.7,548.7 546.9,540.6 548.1,542.1 549.2,546.9 550.4,553 551.6,561.7 552.8,559.8 554,550.6 555.2,551.6 556.4,549.4 557.6,545.8 558.7,545.1 559.9,540.4 561.1,542.2 562.3,536.5 563.5,532 564.7,533.6 565.9,529.9 567.1,525.7 568.3,525.6 569.4,529.3 570.6,529.2 571.8,531 573,538.5 574.2,543.1 575.4,546.8 576.6,537.3 577.8,536.5 579,535.6 580.1,529.2 581.3,521.6 582.5,515.6 583.7,512.9 584.9,517.5 586.1,516.7 587.3,525.2 588.5,529.9 589.6,531.2 590.8,540.8 592,548 593.2,553 594.4,558.8 595.6,558 596.8,549.7 598,553 599.2,560.4 600.3,564.1 601.5,569.6 602.7,560.7 603.9,557.2 605.1,558.6 606.3,554.3 607.5,550.3 608.7,546.5 609.9,543 611,542.7 612.2,541.1 613.4,533.1 614.6,533.7 615.8,540 617,534.2 618.2,532.1 619.4,536.9 620.5,547.7 621.7,557.1 622.9,561.4 624.1,572.4 625.3,572.9 626.5,563.2 627.7,563.8 628.9,565.5 630.1,558.5 631.2,551.3 632.4,548.7 633.6,537.7 634.8,533.9 636,539.2 637.2,546.4 638.4,543.2 639.6,539.8 640.7,555.3 641.9,553.8 643.1,546 644.3,547.2 645.5,549.3 646.7,539.4 647.9,538.2 649.1,545 650.3,550.3 651.4,554.6 652.6,552.5 653.8,556.2 655,565.1 656.2,568 657.4,563.1 658.6,564.3 659.8,573.4 661,572.1 662.1,567.3 663.3,565.3 664.5,569.3 665.7,566.8 666.9,560.3 668.1,556.8 669.3,557.8 670.5,554.6 671.6,555.3 672.8,565.3 674,562.8 675.2,562.1 676.4,567.2 677.6,568.7 678.8,569.2 680,568.3 681.2,570.7 682.3,574.3 683.5,584.2 684.7,586.6 685.9,586.8 687.1,583.4 688.3,581.1 689.5,576.6 690.7,580.2 691.9,582 693,579.8 694.2,577.9 695.4,573.8 696.6,569 697.8,557.6 699,556 700.2,555.1 701.4,542 702.5,531.8 703.7,531.6 704.9,540 706.1,545.3 707.3,540.3 708.5,540.1 709.7,538.3 710.9,538.9 712.1,546 713.2,551.6 714.4,557.7 715.6,558.9 716.8,557.5 718,554.6 719.2,547.5 720.4,541.8 721.6,535.7 722.8,535.7 723.9,533.4 725.1,524.7 726.3,516.5 727.5,513.4 728.7,512.5 729.9,509.8 731.1,505.1 732.3,497.4 733.4,495.4 734.6,503.4 735.8,507 737,509.4 738.2,517.7 739.4,521.5 740.6,521 741.8,519.5 743,515.8 744.1,523.3 745.3,530.3 746.5,527.4 747.7,527.5 748.9,540 750.1,550.2 751.3,559.4 752.5,563.3 753.7,568.6 754.8,580.4 756,586.8 757.2,577.6 758.4,578.4 759.6,571.2 760.8,563.9 762,559.2 763.2,555 764.3,550.9 765.5,548.6 766.7,543.4 767.9,537.8 769.1,533.2 770.3,530.7 771.5,526.1 772.7,513.3 773.9,512.9 775,514.1 776.2,520.8 777.4,522.3 778.6,517.4 779.8,527.5 781,536.6 782.2,537.4 783.4,536.5 784.6,538.6 785.7,548.2 786.9,550 788.1,546.9 789.3,554.2 790.5,553.9 791.7,556.2 792.9,549.8 794.1,542.7 795.2,542 796.4,537.3 797.6,532.2 798.8,536.5 800,542.9 801.2,542.7 802.4,536.3 803.6,535.1 804.8,531.7 805.9,530 807.1,534 808.3,534.6 809.5,539.4 810.7,544 811.9,546.5 813.1,555.7 814.3,561.9 815.5,556.6 816.6,556 817.8,561.5 819,564.2 820.2,563.9 821.4,552.8 822.6,546.1 823.8,544.8 825,536 826.1,529.9 827.3,530.1 828.5,522 829.7,519.7 830.9,526.6 832.1,529 833.3,536.7 834.5,539.6 835.7,541.1 836.8,543.5 838,538 839.2,533.2 840.4,525.7 841.6,517.1 842.8,514.4 844,512.4 845.2,511.6 846.4,521.1 847.5,523.6 848.7,525.7 849.9,530.1 851.1,540.3 852.3,540.5 853.5,544.1 854.7,556.5 855.9,555.5 857,564.5 858.2,569.9 859.4,570.9 860.6,568.6 861.8,563.6 863,554.6 864.2,543.8 865.4,540.2 866.6,532.8 867.7,523.4 868.9,522.1 870.1,521.3 871.3,524.4 872.5,527 873.7,524.5 874.9,524.6 876.1,530.8 877.3,525.2 878.4,515.7 879.6,509.1 880.8,502.6 882,494.5 883.2,484.6 884.4,474.3 885.6,474.8 886.8,468.1 887.9,472.2 889.1,479.7 890.3,486.1 891.5,490.6 892.7,497.9 893.9,505.7 895.1,513.7 896.3,520.2 897.5,533.6 898.6,546.1 899.8,553.4 901,554.9 902.2,563.9 903.4,559.7 904.6,556.4 905.8,555.2 907,554.1 908.2,546.7 909.3,542 910.5,536.3 911.7,531.1 912.9,531.5 914.1,528.8 915.3,528.7 916.5,527.3 917.7,522.2 918.8,515.2 920,521.7 921.2,526.7 922.4,520.8 923.6,523.3 924.8,523.1 926,529.1 927.2,538 928.4,539.1 929.5,536.8 930.7,542.9 931.9,546.6 933.1,549.8 934.3,547.8 935.5,552.1 936.7,562.3 937.9,557.4 939.1,553.9 940.2,548.6 941.4,545.1 942.6,542 943.8,539 945,530.5 946.2,524 947.4,526.7 948.6,535.7 949.7,541.3 950.9,551.6 952.1,555.1 953.3,553.5 954.5,560.6 955.7,562.5 956.9,569.6 958.1,576.5 959.3,572.1 960.4,570 961.6,566.6 962.8,564 964,555.7 965.2,555 966.4,557.3 967.6,553.2 968.8,547.4 970,542.1 971.1,542.8 972.3,560.6 973.5,565.4 974.7,568.9 975.9,573.3 977.1,573.6 978.3,577.5 979.5,575.8 980.6,572.9 981.8,565.2 983,556.7 984.2,548.9 985.4,538.6 986.6,538.5 987.8,537 989,529 990.2,522.4 991.3,527.4 992.5,531.7 993.7,524.2 994.9,526.3 996.1,532.9 997.3,534.8 998.5,540.7 999.7,539.9 1000.9,544.2 1002,554.4 1003.2,561.1 1004.4,567.4 1005.6,582.5 1006.8,591.3 1008,595.8 1009.2,603.9 1010.4,592.2 1011.5,582.2 1012.7,564.8 1013.9,551.8 1015.1,555.9 1016.3,559.4 1017.5,561.3 1018.7,563.3 1019.9,572.8 1021.1,577.9 1022.2,574.9 1023.4,573.3 1024.6,576.3 1025.8,571.2 1027,564.4 1028.2,556.5 1029.4,555.2 1030.6,551.7 1031.7,549.5 1032.9,539 1034.1,532.8 1035.3,531.4 1036.5,532.1 1037.7,531.3 1038.9,542.7 1040.1,552 1041.3,552 1042.4,544.8 1043.6,536.3 1044.8,539.6 1046,543.5 1047.2,539.2 1048.4,535.2 1049.6,536.7 1050.8,535.7 1052,534.9 1053.1,536.2 1054.3,546.8 1055.5,541.1 1056.7,537.4 1057.9,546.4 1059.1,555.7 1060.3,548.5 1061.5,554.8 1062.6,551.9 1063.8,538.5 1065,546.9 1066.2,546.3 1067.4,539 1068.6,539.4 1069.8,541.8 1071,550 1072.2,554.2 1073.3,554.7 1074.5,558.2 1075.7,564.4 1076.9,572.6 1078.1,573.7 1079.3,570.2 1080.5,565.5 1081.7,564.7 1082.9,569 1084,569.7 1085.2,566.6 1086.4,564.5 1087.6,567.4 1088.8,561.6 1090,553.9 1091.2,558.5 1092.4,565.2 1093.5,560 1094.7,559.7 1095.9,549.1 1097.1,542.4 1098.3,542.7 1099.5,541.1 1100.7,539 1101.9,527.7 1103.1,525.4 1104.2,533.8 1105.4,536 1106.6,540.2 1107.8,555.3 1109,566.6 1110.2,574.4 1111.4,576.8 1112.6,585.9 1113.8,597.2 1114.9,604 1116.1,596.9 1117.3,590.4 1118.5,586.7 1119.7,580 1120.9,579.2 1122.1,574 1123.3,565.1 1124.4,565.4 1125.6,561.3 1126.8,553.1 1128,547.7 1129.2,556.8 1130.4,560.9 1131.6,562.6 1132.8,561.7 1134,562.1 1135.1,561.8 1136.3,566.5 1137.5,557.1 1138.7,546.4 1139.9,542.2 1141.1,542.9 1142.3,542.2 1143.5,540.8 1144.7,537.8 1145.8,539.4 1147,536.9 1148.2,538.9 1149.4,537.6 1150.6,539.1 1151.8,536.8 1153,534.6 1154.2,533.6 1155.3,534.3 1156.5,530.2 1157.7,526.8 1158.9,526.9 1160.1,524.2 1161.3,518 1162.5,517 1163.7,510.1 1164.9,502 1166,499 1167.2,497 1168.4,493 1169.6,499.6 1170.8,504.9 1172,518.8 1173.2,532.5 1174.4,539.4 1175.6,546.6 1176.7,556.6 1177.9,550.9 1179.1,551.9 1180.3,546.3 1181.5,547.9 1182.7,550.6 1183.9,544.1 1185.1,546.7 1186.2,547.6 1187.4,551.8 1188.6,550.4 1189.8,553.8 1191,560.7 1192.2,549.4 1193.4,539 1194.6,534.4 1195.8,527.9 1196.9,521 1198.1,522 1199.3,525.4 1200.5,530.8 1201.7,535.4 1202.9,540.3 1204.1,541.3 1205.3,545 1206.5,539.5 1207.6,538.1 1208.8,541.1 1210,542.8 1211.2,544.6 1212.4,543.2 1213.6,545.4 1214.8,543.3 1216,555.2 1217.1,566 1218.3,564.3 1219.5,582.9 1220.7,582.9 1221.9,582 1223.1,579.2 1224.3,576.8 1225.5,572.1 1226.7,565.8 1227.8,569.7 1229,569.1 1230.2,559.9 1231.4,566.9 1232.6,564.5 1233.8,569.1 1235,579 1236.2,584.5 1237.4,585.2 1238.5,589.5 1239.7,587.9 1240.9,575.3 1242.1,578.9 1243.3,572 1244.5,565 1245.7,564.1 1246.9,553.8 1248,552 1249.2,556.9 1250.4,552 1251.6,546.3 1252.8,540.1 1254,535.1 1255.2,532.6 1256.4,529 1257.6,523.4 1258.7,531.6 1259.9,536.1 1261.1,539.7 1262.3,549.4 1263.5,550.3 1264.7,556.9 1265.9,565.9 1267.1,570.4 1268.3,577.3 1269.4,581.8 1270.6,571.2 1271.8,561.6 1273,559.2 1274.2,548 1275.4,537.4 1276.6,539.8 1277.8,549.7 1278.9,545.3 1280.1,541.4 1281.3,552.4 1282.5,559.2 1283.7,559.9 1284.9,569.4 1286.1,570.4 1287.3,570.2 1288.5,566.1 1289.6,565.4 1290.8,570.5 1292,567.9 1293.2,568.7 1294.4,572.3 1295.6,563.5 1296.8,563.6 1298,554.3 1299.2,546 1300.3,535.1 1301.5,526.8 1302.7,522.6 1303.9,522.5 1305.1,522.5 1306.3,525.8 1307.5,509.7 1308.7,498 1309.8,502.1 1311,506.3 1312.2,507.3 1313.4,506.9 1314.6,511.9 1315.8,519.7 1317,521.8 1318.2,521.5 1319.4,522.8 1320.5,525 1321.7,525.4 1322.9,529 1324.1,533.2 1325.3,534.1 1326.5,538.6 1327.7,535.8 1328.9,539.9 1330.1,552.9 1331.2,558.6 1332.4,565.4 1333.6,570.6 1334.8,572.2 1336,582 1337.2,575.2 1338.4,570.7 1339.6,554.7 1340.7,547.1 1341.9,540.9 1343.1,528.2 1344.3,528.3 1345.5,532.3 1346.7,530.1 1347.9,534.8 1349.1,535.9 1350.3,540.8 1351.4,549 1352.6,552.3 1353.8,557.2 1355,561.3 1356.2,566.8 1357.4,563.9 1358.6,557.4 1359.8,558.4 1361,553.7 1362.1,552.6 1363.3,550.8 1364.5,548.6 1365.7,548.2 1366.9,550.6 1368.1,540.4 1369.3,539.5 1370.5,543.5 1371.6,532.5 1372.8,524 1374,523.3 1375.2,524.4 1376.4,526.6 1377.6,521.7 1378.8,519.1 1380,519.6 1381.2,523.4 1382.3,523.3 1383.5,521.6 1384.7,513.4 1385.9,511.2 1387.1,513 1388.3,510.7 1389.5,509.8 1390.7,508.7 1391.9,510.2 1393,515.5 1394.2,508.5 1395.4,508.3 1396.6,514.9 1397.8,517.9 1399,521 1400.2,521.5 1401.4,520.7 1402.5,526.5 1403.7,529.2 1404.9,536 1406.1,540 1407.3,548 1408.5,557.6 1409.7,558.7 1410.9,568.1 1412.1,563.5 1413.2,551.9 1414.4,547 1415.6,540.6 1416.8,528.2 1418,519.5 1419.2,516 1420.4,509.8 1421.6,500 1422.7,492.2 1423.9,495.9 1425.1,505.7 1426.3,512 1427.5,526.6 1428.7,543.2 1429.9,546 1431.1,557.3 1432.3,567.4 1433.4,579.8 1434.6,581.5 1435.8,594 1437,590.8 1438.2,579.3 1439.4,567.1 1440.6,562.2 1441.8,555 1443,542.8 1444.1,539.4 1445.3,539.1 1446.5,534.4 1447.7,532.5 1448.9,534.3 1450.1,533.4 1451.3,541 1452.5,549.6 1453.6,559.1 1454.8,552.4 1456,546.2 1457.2,543.8 1458.4,541.8 1459.6,533.8 1460.8,528.1 1462,521 1463.2,516.2 1464.3,514.7 1465.5,510.3 1466.7,513 1467.9,523.8 1469.1,532.6 1470.3,530.4 1471.5,530.1 1472.7,533.7 1473.9,536 1475,536.5 1476.2,536.3 1477.4,546.4 1478.6,552.5 1479.8,553.8 1481,561.6 1482.2,562.6 1483.4,562.9 1484.5,567 1485.7,569.4 1486.9,556.2 1488.1,555.2 1489.3,555.2 1490.5,556.6 1491.7,547.4 1492.9,540.2 1494.1,538.7 1495.2,534.2 1496.4,528.7 1497.6,522.3 1498.8,524.1 1500,532.1 1501.2,531.3 1502.4,530.4 1503.6,533 1504.8,543.3 1505.9,544.3 1507.1,542.9 1508.3,546.2 1509.5,551.1 1510.7,554.3 1511.9,555.5 1513.1,554.9 1514.3,562.8 1515.4,567.3 1516.6,565.3 1517.8,567.5 1519,575.6 1520.2,579.6 1521.4,579.3 1522.6,581.1 1523.8,578.8 1525,573.9 1526.1,565.5 1527.3,561 1528.5,562.2 1529.7,568.7 1530.9,576.4 1532.1,578 1533.3,577.4 1534.5,582.2 1535.7,587.5 1536.8,588.1 1538,579.3 1539.2,570.4 1540.4,568.9 1541.6,569 1542.8,564.2 1544,559.8 1545.2,557.9 1546.3,551.9 1547.5,550 1548.7,546.9 1549.9,545.7 1551.1,547 1552.3,546.9 1553.5,544.4 1554.7,538.4 1555.9,530.9 1557,531.1 1558.2,532.8 1559.4,534.8 1560.6,544 1561.8,550.8 1563,553.4 1564.2,555.2 1565.4,559.6 1566.6,561.1 1567.7,566.1 1568.9,574.5 1570.1,578.1 1571.3,578.9 1572.5,575.9 1573.7,570.6 1574.9,568 1576.1,567.4 1577.2,558.9 1578.4,552 1579.6,553.7 1580.8,555.9 1582,553.6 1583.2,546.8 1584.4,542.5 1585.6,537.9 1586.8,544 1587.9,553.3 1589.1,556.8 1590.3,560.3 1591.5,563.5 1592.7,569.9 1593.9,569.3 1595.1,569.3 1596.3,571.8 1597.5,578.2 1598.6,576.5 1599.8,570.4 1601,573.2 1602.2,575.6 1603.4,565.5 1604.6,558.7 1605.8,559.2 1607,567.9 1608.1,568.7 1609.3,570.9 1610.5,566.9 1611.7,570 1612.9,571.6 1614.1,573.7 1615.3,584 1616.5,583.7 1617.7,572.4 1618.8,567.8 1620,560 1621.2,555.7 1622.4,552.5 1623.6,554.9 1624.8,555.3 1626,543.7 1627.2,537.5 1628.4,532.6 1629.5,530.3 1630.7,525.2 1631.9,520.8 1633.1,518.7 1634.3,524.8 1635.5,527.9 1636.7,530.6 1637.9,534.3 1639,541.1 1640.2,543.6 1641.4,545.5 1642.6,553.2 1643.8,555.9 1645,554.8 1646.2,558 1647.4,562.6 1648.6,564.9 1649.7,564.9 1650.9,571.2 1652.1,569.1 1653.3,562.2 1654.5,558.1 1655.7,559.8 1656.9,561.7 1658.1,556.2 1659.3,551.5 1660.4,543.5 1661.6,539.6 1662.8,545.2 1664,537.8 1665.2,541.3 1666.4,553.4 1667.6,556.7 1668.8,557.2 1669.9,562.3 1671.1,568.2 1672.3,573.3 1673.5,573.5 1674.7,575.5 1675.9,582.2 1677.1,588 1678.3,588.2 1679.5,581.9 1680.6,572.7 1681.8,569.2 1683,559.8 1684.2,550.8 1685.4,554.2 1686.6,557.2 1687.8,559.9 1689,560.2 1690.2,563.3 1691.3,564 1692.5,567.1 1693.7,560.8 1694.9,555.9 1696.1,554.2 1697.3,549.2 1698.5,546.1 1699.7,546.4 1700.8,535.7 1702,524.7 1703.2,516.6 1704.4,513.5 1705.6,516.2 1706.8,520.4 1708,523.8 1709.2,521.4 1710.4,526 1711.5,520.9 1712.7,518 1713.9,517.4 1715.1,516.1 1716.3,513.4 1717.5,505.9 1718.7,498.9 1719.9,506.5 1721.1,509.5 1722.2,514 1723.4,517 1724.6,515.1 1725.8,521.4 1727,532.6 1728.2,541.4 1729.4,537.2 1730.6,535 1731.7,546.6 1732.9,547.9 1734.1,552.3 1735.3,559.3 1736.5,557.1 1737.7,554.3 1738.9,552.7 1740.1,541.3 1741.3,535.3 1742.4,536.7 1743.6,531.5 1744.8,529.6 1746,537.6 1747.2,535.9 1748.4,535.1 1749.6,539.8 1750.8,544.5 1752,547.7 1753.1,550.7 1754.3,560.8 1755.5,565.6 1756.7,565.4 1757.9,573.4 1759.1,584.2 1760.3,590.3 1761.5,585.8 1762.6,581.5 1763.8,589.8 1765,602.6 1766.2,603.8 1767.4,593.1 1768.6,587.4 1769.8,580 1771,570.8 1772.2,560.1 1773.3,548.3 1774.5,541.8 1775.7,529.8 1776.9,526.2 1778.1,521.8 1779.3,514.6 1780.5,511.1 1781.7,503.7 1782.9,500.8 1784,505.6 1785.2,511.3 1786.4,515.2 1787.6,514.8 1788.8,521.3 1790,522 1791.2,522.1 1792.4,513.7 1793.5,506.3 1794.7,509 1795.9,510 1797.1,509.5 1798.3,520.4 1799.5,527.7 1800.7,528.7 1801.9,528.7 1803.1,534.6 1804.2,536.4 1805.4,538.9 1806.6,543.5 1807.8,555.3 1809,561.9 1810.2,562.3 1811.4,563.4 1812.6,567 1813.8,556.2 1814.9,546.4 1816.1,550.4 1817.3,548 1818.5,548 1819.7,557.7 1820.9,566.7 1822.1,574.4 1823.3,563.1 1824.4,559.1 1825.6,557.8 1826.8,550.5 1828,551.7 1829.2,547.1 1830.4,534.7 1831.6,529.1 1832.8,522.2 1834,525.9 1835.1,529.4 1836.3,534.4 1837.5,539.4 1838.7,543.2 1839.9,545.4 1841.1,545.7 1842.3,550.6 1843.5,554.5 1844.6,550.4 1845.8,556.1 1847,556.8 1848.2,551 1849.4,547.9 1850.6,551.7 1851.8,557.1 1853,551.6 1854.2,540.9 1855.3,537.9 1856.5,530.4 1857.7,529.8 1858.9,533 1860.1,538.8 1861.3,543.4 1862.5,545.8 1863.7,547.7 1864.9,550.3 1866,558.6 1867.2,563 1868.4,555.7 1869.6,553 1870.8,550.7 1872,539.6 1873.2,535.9 1874.4,535.6 1875.5,532.9 1876.7,531.8 1877.9,537.9 1879.1,541.8 1880.3,541.1 1881.5,541 1882.7,542.4 1883.9,550 1885.1,556.5 1886.2,560.7 1887.4,563 1888.6,567.6 1889.8,569.7 1891,570.8 1892.2,579.9 1893.4,592.8 1894.6,599 1895.8,590.1 1896.9,579.1 1898.1,575.6 1899.3,569.5 1900.5,561.8 1901.7,567.9 1902.9,576.5 1904.1,577.8 1905.3,574.2 1906.4,569.8 1907.6,570.8 1908.8,575.8 1910,575.1 1911.2,567.8 1912.4,560.3 1913.6,557.8 1914.8,552.4 1916,548.9 1917.1,545.9 1918.3,541.5 1919.5,534.4 1920.7,537.9 1921.9,536.9 1923.1,536.8 1924.3,543.2 1925.5,544.7 1926.7,542 1927.8,547.6 1929,551.5 1930.2,552 1931.4,560.9 1932.6,559.9 1933.8,560.2 1935,564.4 1936.2,565.3 1937.3,572.3 1938.5,578.9 1939.7,581 1940.9,572.3 1942.1,564.5 1943.3,560.3 1944.5,552.2 1945.7,546.4 1946.9,536.3 1948,532.2 1949.2,528.5 1950.4,519.9 1951.6,524.8 1952.8,524.6 1954,519.1 1955.2,517.5 1956.4,519.9 1957.6,518.1 1958.7,524.1 1959.9,530.3 1961.1,528.5 1962.3,532.6 1963.5,547.2 1964.7,555.3 1965.9,557 1967.1,554.8 1968.2,551.7 1969.4,556.5 1970.6,549.4 1971.8,542.4 1973,542.3 1974.2,543 1975.4,539.2 1976.6,540.1 1977.8,553.4 1978.9,560.2 1980.1,561.2 1981.3,562.6 1982.5,562.3 1983.7,567.9 1984.9,575.7 1986.1,571.8 1987.3,574 1988.5,584.6 1989.6,578.1 1990.8,572.6 1992,563.7 1993.2,550.1 1994.4,545.7 1995.6,538 1996.8,529.7 1998,524.1 1999.1,517.9 2000.3,510.1 2001.5,516.7 2002.7,515.3 2003.9,513.3 2005.1,516 2006.3,519.6 2007.5,523.5 2008.7,523.5 2009.8,520.4 2011,520.8 2012.2,526.5 2013.4,530.7 2014.6,528.3 2015.8,533 2017,536.4 2018.2,539.7 2019.4,545.8 2020.5,554.2 2021.7,551.6 2022.9,551.9 2024.1,553.1 2025.3,549.4 2026.5,554 2027.7,555.4 2028.9,545.5 2030,542.4 2031.2,537.2 2032.4,536.6 2033.6,546.6 2034.8,545 2036,537.3 2037.2,535.7 2038.4,541.1 2039.6,545.3 2040.7,550.2 2041.9,548.3 2043.1,547.9 2044.3,556.6 2045.5,562.5 2046.7,562.7 2047.9,557.8 2049.1,558.3 2050.3,561 2051.4,561.2 2052.6,559.3 2053.8,561.7 2055,554.6 2056.2,548.7 2057.4,550.6 2058.6,550.7 2059.8,545.9 2060.9,536 2062.1,534.9 2063.3,539.5 2064.5,543.5 2065.7,547.6 2066.9,545.7 2068.1,544.2 2069.3,546.8 2070.5,553.5 2071.6,550.9 2072.8,544.7 2074,535.9 2075.2,528.1 2076.4,526.3 2077.6,522.9 2078.8,518.8 2080,516.4 2081.2,519 2082.3,520.6 2083.5,512.6 2084.7,504 2085.9,505.6 2087.1,510.4 2088.3,513.5 2089.5,522.2 2090.7,529.3 2091.8,534.8 2093,542.5 2094.2,549.5 2095.4,551.3 2096.6,552 2097.8,554.4 2099,558.5 2100.2,562.6 2101.4,557.9 2102.5,545 2103.7,539 2104.9,537 2106.1,532.9 2107.3,539 2108.5,543.2 2109.7,537.6 2110.9,537.7 2112.1,545.4 2113.2,546.5 2114.4,546.8 2115.6,550.5 2116.8,555.3 2118,561.2 2119.2,558.9 2120.4,559.1 2121.6,561 2122.7,565.3 2123.9,563.7 2125.1,559.8 2126.3,554.4 2127.5,557.2 2128.7,557.8 2129.9,551.7 2131.1,547.8 2132.3,541.9 2133.4,543.3 2134.6,540.3 2135.8,544.5 2137,549.3 2138.2,547.3 2139.4,547.4 2140.6,547.1 2141.8,545.4 2143,540.6 2144.1,535.8 2145.3,535.7 2146.5,534.6 2147.7,526.6 2148.9,517.3 2150.1,509.2 2151.3,498.8 2152.5,497 2153.6,501.3 2154.8,506.5 2156,506.5 2157.2,510.5 2158.4,519.2 2159.6,523.8 2160.8,525 2162,532.5 2163.2,534.2 2164.3,534.7 2165.5,539.6 2166.7,544.5 2167.9,541.3 2169.1,540.1 2170.3,539.9 2171.5,547.5 2172.7,542.2 2173.9,537.2 2175,531 2176.2,520.8 2177.4,522.2 2178.6,520.4 2179.8,515.5 2181,515.8 2182.2,509.3 2183.4,504.4 2184.5,506.8 2185.7,509.8 2186.9,513 2188.1,517.9 2189.3,526.7 2190.5,534 2191.7,537.4 2192.9,543.3 2194.1,547.1 2195.2,544.3 2196.4,544.9 2197.6,547.4 2198.8,553.4 2200,561.2 2201.2,562.9 2202.4,566.4 2203.6,567.2 2204.8,565.3 2205.9,563 2207.1,555.2 2208.3,549.6 2209.5,553.9 2210.7,554.5 2211.9,547.9 2213.1,542.3 2214.3,543.4 2215.4,539.7 2216.6,538.3 2217.8,542.6 2219,533.6 2220.2,538.9 2221.4,543.7 2222.6,533.5 2223.8,534.6 2225,535.8 2226.1,535.9 2227.3,537.6 2228.5,536.9 2229.7,529.2 2230.9,525.3 2232.1,523.7 2233.3,520.7 2234.5,518.2 2235.6,526.2 2236.8,531.9 2238,532.5 2239.2,536.7 2240.4,542.3 2241.6,551.5 2242.8,551.6 2244,547.6 2245.2,547.1 2246.3,551.5 2247.5,562.4 2248.7,556.3 2249.9,560.1 2251.1,558.8 2252.3,559.2 2253.5,558.3 2254.7,553.8 2255.9,555.6 2257,550.7 2258.2,541 2259.4,539.4 2260.6,536.7 2261.8,529.9 2263,528.8 2264.2,533.3 2265.4,527.3 2266.5,531.8 2267.7,534 2268.9,545.2 2270.1,547.7 2271.3,548.5 2272.5,553.1 2273.7,556 2274.9,566.9 2276.1,574.4 2277.2,572.7 2278.4,572.1 2279.6,567.8 2280.8,561.1 2282,553.5 2283.2,554.1 2284.4,552.8 2285.6,547.1 2286.8,546.2 2287.9,545 2289.1,546.8 2290.3,547.5 2291.5,548.9 2292.7,556.6 2293.9,554.8 2295.1,551.4 2296.3,551.6 2297.4,543.1 2298.6,534.8 2299.8,530 2301,530.2 2302.2,528 2303.4,516.2 2304.6,508.4 2305.8,514 2307,518.6 2308.1,519.1 2309.3,520.9 2310.5,527.3 2311.7,529.9 2312.9,532.5 2314.1,536.4 2315.3,541.8 2316.5,547 2317.7,553.8 2318.8,553.8 2320,553.7 2321.2,561.7 2322.4,569.3 2323.6,567.4 2324.8,570.6 2326,568.4 2327.2,567.7 2328.3,559.3 2329.5,555.3 2330.7,551.5 2331.9,544.3 2333.1,549.2 2334.3,565.6 2335.5,569.2 2336.7,565.6 2337.9,577 2339,564.9 2340.2,565.8 2341.4,556.7 2342.6,543.7 2343.8,537.5 2345,531.3 2346.2,527 2347.4,519.7 2348.6,507.2 2349.7,502.2 2350.9,506.5 2352.1,514 2353.3,515.5 2354.5,515.4 2355.7,519.5 2356.9,520.2 2358.1,525.6 2359.2,527.3 2360.4,531.2 2361.6,533.6 2362.8,534.8 2364,535.8 2365.2,539.9 2366.4,546.7 2367.6,547.4 2368.8,545.2 2369.9,552.8 2371.1,557.8 2372.3,559.3 2373.5,569.7 2374.7,572.2 2375.9,567.1 2377.1,572.4 2378.3,580.3 2379.5,578.9 2380.6,583.4 2381.8,592.1 2383,593.4 2384.2,593.3 2385.4,585 2386.6,583 2387.8,580.5 2389,573.8 2390.1,568.9 2391.3,566.5 2392.5,563.3 2393.7,554 2394.9,546.6 2396.1,535.7 2397.3,535.5 2398.5,536.6 2399.7,536.8 2400.8,532.3 2402,529.6 2403.2,527.8 2404.4,528 2405.6,525 2406.8,521.8 2408,512.8 2409.2,513.1 2410.4,517.4 2411.5,511.6 2412.7,504.5 2413.9,505.8 2415.1,506.8 2416.3,514.3 2417.5,523.4 2418.7,526.7 2419.9,529.4 2421,531.8 2422.2,541.2 2423.4,548.4 2424.6,554.9 2425.8,556.1 2427,568.2 2428.2,569.7 2429.4,569.3 2430.6,567.4 2431.7,566.9 2432.9,565.3 2434.1,558.9 2435.3,556.8 2436.5,553 2437.7,545.3 2438.9,542.6 2440.1,539.3 2441.3,536.2 2442.4,537.4 2443.6,537.2 2444.8,530.9 2446,525 2447.2,523.8 2448.4,528.9 2449.6,530 2450.8,534.7 2451.9,533.3 2453.1,542.2 2454.3,546.8 2455.5,553.7 2456.7,561.3 2457.9,570.7 2459.1,578.6 2460.3,581.8 2461.5,589.1 2462.6,590.8 2463.8,581.2 2465,568.5 2466.2,560.3 2467.4,554.6 2468.6,547.3 2469.8,547.3 2471,544.6 2472.2,549.6 2473.3,548.2 2474.5,545.1 2475.7,548.7 2476.9,550.8 2478.1,553.2 2479.3,557.8 2480.5,559 2481.7,558.4 2482.8,563.3 2484,571.5 2485.2,569.3 2486.4,562.9 2487.6,559.7 2488.8,560.9 2490,556.7 2491.2,553.4 2492.4,558.2 2493.5,552.8 2494.7,551.8 2495.9,542.2 2497.1,530.4 2498.3,521.2 2499.5,512 2500.7,518.6 2501.9,533.3 2503.1,541.7 2504.2,558.3 2505.4,568.4 2506.6,571.7 2507.8,577.9 2509,587.2 2510.2,600.4 2511.4,604.2 2512.6,593.3 2513.7,588.4 2514.9,581.3 2516.1,570.8 2517.3,557.6 2518.5,544 2519.7,540.8 2520.9,532.3 2522.1,532.6 2523.3,538.5 2524.4,539.8 2525.6,547.2 2526.8,551.2 2528,555 2529.2,556.7 2530.4,552.7 2531.6,544 2532.8,534.5 2534,534.2 2535.1,534.5 2536.3,535.2 2537.5,531.5 2538.7,521 2539.9,520.5 2541.1,521.8 2542.3,522.4 2543.5,519.5 2544.6,512.1 2545.8,512.5 2547,519.3 2548.2,516.7 2549.4,519 2550.6,523.1 2551.8,528.8 2553,536.7 2554.2,542.2 2555.3,539.4 2556.5,543.7 2557.7,548.4 2558.9,554.8 2560.1,551 2561.3,551.9 2562.5,560.3 2563.7,561.5 2564.9,566.5 2566,577.1 2567.2,580.9 2568.4,582.1 2569.6,585 2570.8,578.2 2572,571.7 2573.2,568.7 2574.4,565.7 2575.5,561 2576.7,559 2577.9,553 2579.1,545.7 2580.3,541.7 2581.5,538.1 2582.7,546.6 2583.9,548.2 2585.1,548.6 2586.2,547.6 2587.4,553.2 2588.6,556.3 2589.8,555.6 2591,551 2592.2,547.2 2593.4,549.3 2594.6,551.6 2595.8,544.3 2596.9,533 2598.1,527.1 2599.3,529.7 2600.5,530.2 2601.7,535.3 2602.9,544.5 2604.1,543 2605.3,541.5 2606.4,549.8 2607.6,556.7 2608.8,557.5 2610,559.7 2611.2,567.4"/></g><g clip-path="url(#c2)"><g fill="#fff" fill-opacity="0.5" stroke="#AA3377" stroke-opacity="0.5" stroke-width="3.75"><circle cx="234.3" cy="1154.1" r="12.5"/><circle cx="235.5" cy="1424.4" r="12.5"/><circle cx="236.7" cy="1332.1" r="12.5"/><circle cx="237.9" cy="1367.1" r="12.5"/><circle cx="239.1" cy="1335" r="12.5"/><circle cx="240.2" cy="1304.4" r="12.5"/><circle cx="241.4" cy="1454.9" r="12.5"/><circle cx="242.6" cy="1408" r="12.5"/><circle cx="243.8" cy="1371.3" r="12.5"/><circle cx="245" cy="1463.5" r="12.5"/><circle cx="246.2" cy="1359.8" r="12.5"/><circle cx="247.4" cy="1386.3" r="12.5"/><circle cx="248.6" cy="1497.7" r="12.5"/><circle cx="249.7" cy="1327.2" r="12.5"/><circle cx="250.9" cy="1309.3" r="12.5"/><circle cx="252.1" cy="1311.6" r="12.5"/><circle cx="253.3" cy="1377.8" r="12.5"/><circle cx="254.5" cy="1327.5" r="12.5"/><circle cx="255.7" cy="1320.4" r="12.5"/><circle cx="256.9" cy="1255.9" r="12.5"/><circle cx="258.1" cy="1459.6" r="12.5"/><circle cx="259.3" cy="1329.8" r="12.5"/><circle cx="260.4" cy="1171.6" r="12.5"/><circle cx="261.6" cy="1364.5" r="12.5"/><circle cx="262.8" cy="1295.5" r="12.5"/><circle cx="264" cy="1230.6" r="12.5"/><circle cx="265.2" cy="1285" r="12.5"/><circle cx="266.4" cy="1286.2" r="12.5"/><circle cx="267.6" cy="1347.7" r="12.5"/><circle cx="268.8" cy="1278" r="12.5"/><circle cx="270" cy="1285.1" r="12.5"/><circle cx="271.1" cy="1163.1" r="12.5"/><circle cx="272.3" cy="1379.7" r="12.5"/><circle cx="273.5" cy="1262.6" r="12.5"/><circle cx="274.7" cy="1347.2" r="12.5"/><circle cx="275.9" cy="1472.8" r="12.5"/><circle cx="277.1" cy="1340.9" r="12.5"/><circle cx="278.3" cy="1297.3" r="12.5"/><circle cx="279.5" cy="1305.6" r="12.5"/><circle cx="280.6" cy="1337.6" r="12.5"/><circle cx="281.8" cy="1361.9" r="12.5"/><circle cx="283" cy="1311.9" r="12.5"/><circle cx="284.2" cy="1163.1" r="12.5"/><circle cx="285.4" cy="1300.7" r="12.5"/><circle cx="286.6" cy="1469.2" r="12.5"/><circle cx="287.8" cy="1383.4" r="12.5"/><circle cx="289" cy="1310.5" r="12.5"/><circle cx="290.2" cy="1313" r="12.5"/><circle cx="291.3" cy="1154.1" r="12.5"/><circle cx="292.5" cy="1256.2" r="12.5"/><circle cx="293.7" cy="1060.8" r="12.5"/><circle cx="294.9" cy="1249.3" r="12.5"/><circle cx="296.1" cy="1307.7" r="12.5"/><circle cx="297.3" cy="1352.8" r="12.5"/><circle cx="298.5" cy="1515.3" r="12.5"/><circle cx="299.7" cy="1217.9" r="12.5"/><circle cx="300.9" cy="1407.6" r="12.5"/><circle cx="302" cy="1354.8" r="12.5"/><circle cx="303.2" cy="1175.8" r="12.5"/><circle cx="304.4" cy="1119" r="12.5"/><circle cx="305.6" cy="1207.6" r="12.5"/><circle cx="306.8" cy="1294.1" r="12.5"/><circle cx="308" cy="1292" r="12.5"/><circle cx="309.2" cy="1331.5" r="12.5"/><circle cx="310.4" cy="1252.5" r="12.5"/><circle cx="311.5" cy="1188.5" r="12.5"/><circle cx="312.7" cy="1315.3" r="12.5"/><circle cx="313.9" cy="1363.4" r="12.5"/><circle cx="315.1" cy="1265.4" r="12.5"/><circle cx="316.3" cy="1222.3" r="12.5"/><circle cx="317.5" cy="1324.9" r="12.5"/><circle cx="318.7" cy="1423.2" r="12.5"/><circle cx="319.9" cy="1334.3" r="12.5"/><circle cx="321.1" cy="1426.5" r="12.5"/><circle cx="322.2" cy="1296.4" r="12.5"/><circle cx="323.4" cy="1390.1" r="12.5"/><circle cx="324.6" cy="1319.9" r="12.5"/><circle cx="325.8" cy="1346.2" r="12.5"/><circle cx="327" cy="1285.4" r="12.5"/><circle cx="328.2" cy="1474.6" r="12.5"/><circle cx="329.4" cy="1299.4" r="12.5"/><circle cx="330.6" cy="1300.7" r="12.5"/><circle cx="331.8" cy="1289.4" r="12.5"/><circle cx="332.9" cy="1417.3" r="12.5"/><circle cx="334.1" cy="1074" r="12.5"/><circle cx="335.3" cy="1205.7" r="12.5"/><circle cx="336.5" cy="1332" r="12.5"/><circle cx="337.7" cy="1249.4" r="12.5"/><circle cx="338.9" cy="1323.8" r="12.5"/><circle cx="340.1" cy="1311" r="12.5"/><circle cx="341.3" cy="1338.1" r="12.5"/><circle cx="342.4" cy="1442.2" r="12.5"/><circle cx="343.6" cy="1372.6" r="12.5"/><circle cx="344.8" cy="1241.7" r="12.5"/><circle cx="346" cy="1434.5" r="12.5"/><circle cx="347.2" cy="1349.2" r="12.5"/><circle cx="348.4" cy="1481.1" r="12.5"/><circle cx="349.6" cy="1300.4" r="12.5"/><circle cx="350.8" cy="1480.1" r="12.5"/><circle cx="352" cy="1470.5" r="12.5"/><circle cx="353.1" cy="1398.7" r="12.5"/><circle cx="354.3" cy="1334" r="12.5"/><circle cx="355.5" cy="1467.1" r="12.5"/><circle cx="356.7" cy="1370.9" r="12.5"/><circle cx="357.9" cy="1312.9" r="12.5"/><circle cx="359.1" cy="1346.9" r="12.5"/><circle cx="360.3" cy="1408.8" r="12.5"/><circle cx="361.5" cy="1308.6" r="12.5"/><circle cx="362.7" cy="1262.4" r="12.5"/><circle cx="363.8" cy="1195.5" r="12.5"/><circle cx="365" cy="1246.2" r="12.5"/><circle cx="366.2" cy="1466.7" r="12.5"/><circle cx="367.4" cy="1249.7" r="12.5"/><circle cx="368.6" cy="1270" r="12.5"/><circle cx="369.8" cy="1321.9" r="12.5"/><circle cx="371" cy="1298" r="12.5"/><circle cx="372.2" cy="1270.8" r="12.5"/><circle cx="373.3" cy="1376.9" r="12.5"/><circle cx="374.5" cy="1509.2" r="12.5"/><circle cx="375.7" cy="1455.2" r="12.5"/><circle cx="376.9" cy="1385.7" r="12.5"/><circle cx="378.1" cy="1313.2" r="12.5"/><circle cx="379.3" cy="1406.7" r="12.5"/><circle cx="380.5" cy="1406.6" r="12.5"/><circle cx="381.7" cy="1444.7" r="12.5"/><circle cx="382.9" cy="1297.9" r="12.5"/><circle cx="384" cy="1415.4" r="12.5"/><circle cx="385.2" cy="1105.4" r="12.5"/><circle cx="386.4" cy="1331.5" r="12.5"/><circle cx="387.6" cy="1365.7" r="12.5"/><circle cx="388.8" cy="1226.5" r="12.5"/><circle cx="390" cy="1247.3" r="12.5"/><circle cx="391.2" cy="1191.3" r="12.5"/><circle cx="392.4" cy="1137.8" r="12.5"/><circle cx="393.6" cy="1384.7" r="12.5"/><circle cx="394.7" cy="1415.1" r="12.5"/><circle cx="395.9" cy="1320.6" r="12.5"/><circle cx="397.1" cy="1455.5" r="12.5"/><circle cx="398.3" cy="1400.1" r="12.5"/><circle cx="399.5" cy="1312" r="12.5"/><circle cx="400.7" cy="1360.8" r="12.5"/><circle cx="401.9" cy="1294.7" r="12.5"/><circle cx="403.1" cy="1416.1" r="12.5"/><circle cx="404.2" cy="1391.1" r="12.5"/><circle cx="405.4" cy="1362.1" r="12.5"/><circle cx="406.6" cy="1285.9" r="12.5"/><circle cx="407.8" cy="1260.1" r="12.5"/><circle cx="409" cy="1246.4" r="12.5"/><circle cx="410.2" cy="1169.2" r="12.5"/><circle cx="411.4" cy="1306.7" r="12.5"/><circle cx="412.6" cy="1365.3" r="12.5"/><circle cx="413.8" cy="1332.7" r="12.5"/><circle cx="414.9" cy="1295.3" r="12.5"/><circle cx="416.1" cy="1141.1" r="12.5"/><circle cx="417.3" cy="1161.9" r="12.5"/><circle cx="418.5" cy="1501.1" r="12.5"/><circle cx="419.7" cy="1412.2" r="12.5"/><circle cx="420.9" cy="1362.1" r="12.5"/><circle cx="422.1" cy="1422.5" r="12.5"/><circle cx="423.3" cy="1278.1" r="12.5"/><circle cx="424.5" cy="1288" r="12.5"/><circle cx="425.6" cy="1381.6" r="12.5"/><circle cx="426.8" cy="1251.9" r="12.5"/><circle cx="428" cy="1154.1" r="12.5"/><circle cx="429.2" cy="1322.8" r="12.5"/><circle cx="430.4" cy="1350.4" r="12.5"/><circle cx="431.6" cy="1297.5" r="12.5"/><circle cx="432.8" cy="1314.4" r="12.5"/><circle cx="434" cy="1419.8" r="12.5"/><circle cx="435.1" cy="1514.1" r="12.5"/><circle cx="436.3" cy="1379.2" r="12.5"/><circle cx="437.5" cy="1432.6" r="12.5"/><circle cx="438.7" cy="1273" r="12.5"/><circle cx="439.9" cy="1156.5" r="12.5"/><circle cx="441.1" cy="1312" r="12.5"/><circle cx="442.3" cy="1238.7" r="12.5"/><circle cx="443.5" cy="1362.1" r="12.5"/><circle cx="444.7" cy="1174" r="12.5"/><circle cx="445.8" cy="1413.4" r="12.5"/><circle cx="447" cy="1246.6" r="12.5"/><circle cx="448.2" cy="1271.1" r="12.5"/><circle cx="449.4" cy="1450.2" r="12.5"/><circle cx="450.6" cy="1267.7" r="12.5"/><circle cx="451.8" cy="1408.8" r="12.5"/><circle cx="453" cy="1247.2" r="12.5"/><circle cx="454.2" cy="1321.2" r="12.5"/><circle cx="455.4" cy="1405.5" r="12.5"/><circle cx="456.5" cy="1365.9" r="12.5"/><circle cx="457.7" cy="1354.6" r="12.5"/><circle cx="458.9" cy="1492.1" r="12.5"/><circle cx="460.1" cy="1279.9" r="12.5"/><circle cx="461.3" cy="1341.4" r="12.5"/><circle cx="462.5" cy="1258.5" r="12.5"/><circle cx="463.7" cy="1486.2" r="12.5"/><circle cx="464.9" cy="1249" r="12.5"/><circle cx="466" cy="1289" r="12.5"/><circle cx="467.2" cy="1087.9" r="12.5"/><circle cx="468.4" cy="1391.3" r="12.5"/><circle cx="469.6" cy="1194.6" r="12.5"/><circle cx="470.8" cy="1261.3" r="12.5"/><circle cx="472" cy="1402.6" r="12.5"/><circle cx="473.2" cy="1398.1" r="12.5"/><circle cx="474.4" cy="1297.1" r="12.5"/><circle cx="475.6" cy="1224.3" r="12.5"/><circle cx="476.7" cy="1313.4" r="12.5"/><circle cx="477.9" cy="1399.6" r="12.5"/><circle cx="479.1" cy="1148" r="12.5"/><circle cx="480.3" cy="1226.5" r="12.5"/><circle cx="481.5" cy="1396.1" r="12.5"/><circle cx="482.7" cy="1248.6" r="12.5"/><circle cx="483.9" cy="1287.5" r="12.5"/><circle cx="485.1" cy="1341.6" r="12.5"/><circle cx="486.3" cy="1374.1" r="12.5"/><circle cx="487.4" cy="1366" r="12.5"/><circle cx="488.6" cy="1315.9" r="12.5"/><circle cx="489.8" cy="1219.2" r="12.5"/><circle cx="491" cy="1311.2" r="12.5"/><circle cx="492.2" cy="1369.7" r="12.5"/><circle cx="493.4" cy="1211.2" r="12.5"/><circle cx="494.6" cy="1225.8" r="12.5"/><circle cx="495.8" cy="1291.8" r="12.5"/><circle cx="496.9" cy="1221.6" r="12.5"/><circle cx="498.1" cy="1294.5" r="12.5"/><circle cx="499.3" cy="1170.1" r="12.5"/><circle cx="500.5" cy="1202.3" r="12.5"/><circle cx="501.7" cy="1331" r="12.5"/><circle cx="502.9" cy="1387.9" r="12.5"/><circle cx="504.1" cy="1369.3" r="12.5"/><circle cx="505.3" cy="1329.7" r="12.5"/><circle cx="506.5" cy="1332.9" r="12.5"/><circle cx="507.6" cy="1398.5" r="12.5"/><circle cx="508.8" cy="1489.6" r="12.5"/><circle cx="510" cy="1384.6" r="12.5"/><circle cx="511.2" cy="1442.6" r="12.5"/><circle cx="512.4" cy="1377.2" r="12.5"/><circle cx="513.6" cy="1218.8" r="12.5"/><circle cx="514.8" cy="1338" r="12.5"/><circle cx="516" cy="1399.1" r="12.5"/><circle cx="517.2" cy="1378.2" r="12.5"/><circle cx="518.3" cy="1391.6" r="12.5"/><circle cx="519.5" cy="1345.2" r="12.5"/><circle cx="520.7" cy="1410.9" r="12.5"/><circle cx="521.9" cy="1252.7" r="12.5"/><circle cx="523.1" cy="1394.5" r="12.5"/><circle cx="524.3" cy="1490.8" r="12.5"/><circle cx="525.5" cy="1332.9" r="12.5"/><circle cx="526.7" cy="1211.8" r="12.5"/><circle cx="527.8" cy="1313.4" r="12.5"/><circle cx="529" cy="1233.8" r="12.5"/><circle cx="530.2" cy="1336.9" r="12.5"/><circle cx="531.4" cy="1272.4" r="12.5"/><circle cx="532.6" cy="1196.6" r="12.5"/><circle cx="533.8" cy="1413.7" r="12.5"/><circle cx="535" cy="1302.8" r="12.5"/><circle cx="536.2" cy="1438.7" r="12.5"/><circle cx="537.4" cy="1361.1" r="12.5"/><circle cx="538.5" cy="1410" r="12.5"/><circle cx="539.7" cy="1343.1" r="12.5"/><circle cx="540.9" cy="1446.5" r="12.5"/><circle cx="542.1" cy="1483.2" r="12.5"/><circle cx="543.3" cy="1303.6" r="12.5"/><circle cx="544.5" cy="1339.3" r="12.5"/><circle cx="545.7" cy="1254.1" r="12.5"/><circle cx="546.9" cy="1323.9" r="12.5"/><circle cx="548.1" cy="1326.4" r="12.5"/><circle cx="549.2" cy="1399.8" r="12.5"/><circle cx="550.4" cy="1431.1" r="12.5"/><circle cx="551.6" cy="1304.5" r="12.5"/><circle cx="552.8" cy="1406.1" r="12.5"/><circle cx="554" cy="1215.4" r="12.5"/><circle cx="555.2" cy="1167.1" r="12.5"/><circle cx="556.4" cy="1216.6" r="12.5"/><circle cx="557.6" cy="1284.2" r="12.5"/><circle cx="558.7" cy="1244.1" r="12.5"/><circle cx="559.9" cy="1346.1" r="12.5"/><circle cx="561.1" cy="1394.8" r="12.5"/><circle cx="562.3" cy="1200.3" r="12.5"/><circle cx="563.5" cy="1375.1" r="12.5"/><circle cx="564.7" cy="1255.5" r="12.5"/><circle cx="565.9" cy="1408.2" r="12.5"/><circle cx="567.1" cy="1302.4" r="12.5"/><circle cx="568.3" cy="1266.7" r="12.5"/><circle cx="569.4" cy="1451.9" r="12.5"/><circle cx="570.6" cy="1435.1" r="12.5"/><circle cx="571.8" cy="1365.2" r="12.5"/><circle cx="573" cy="1331" r="12.5"/><circle cx="574.2" cy="1295.8" r="12.5"/><circle cx="575.4" cy="1353.6" r="12.5"/><circle cx="576.6" cy="1344.8" r="12.5"/><circle cx="577.8" cy="1363.5" r="12.5"/><circle cx="579" cy="1369.6" r="12.5"/><circle cx="580.1" cy="1271.2" r="12.5"/><circle cx="581.3" cy="1342.1" r="12.5"/><circle cx="582.5" cy="1396.2" r="12.5"/><circle cx="583.7" cy="1410.5" r="12.5"/><circle cx="584.9" cy="1386" r="12.5"/><circle cx="586.1" cy="1454.6" r="12.5"/><circle cx="587.3" cy="1316.6" r="12.5"/><circle cx="588.5" cy="1168" r="12.5"/><circle cx="589.6" cy="1517.7" r="12.5"/><circle cx="590.8" cy="1297.6" r="12.5"/><circle cx="592" cy="1426.2" r="12.5"/><circle cx="593.2" cy="1358.6" r="12.5"/><circle cx="594.4" cy="1334.9" r="12.5"/><circle cx="595.6" cy="1245.7" r="12.5"/><circle cx="596.8" cy="1183.1" r="12.5"/><circle cx="598" cy="1346.2" r="12.5"/><circle cx="599.2" cy="1310.2" r="12.5"/><circle cx="600.3" cy="1112.1" r="12.5"/><circle cx="601.5" cy="1355.8" r="12.5"/><circle cx="602.7" cy="1342.4" r="12.5"/><circle cx="603.9" cy="1331.3" r="12.5"/><circle cx="605.1" cy="1162.3" r="12.5"/><circle cx="606.3" cy="1229.4" r="12.5"/><circle cx="607.5" cy="1163.1" r="12.5"/><circle cx="608.7" cy="1303.1" r="12.5"/><circle cx="609.9" cy="1312.7" r="12.5"/><circle cx="611" cy="1457.6" r="12.5"/><circle cx="612.2" cy="1419.8" r="12.5"/><circle cx="613.4" cy="1289.1" r="12.5"/><circle cx="614.6" cy="1345.6" r="12.5"/><circle cx="615.8" cy="1270" r="12.5"/><circle cx="617" cy="1354.9" r="12.5"/><circle cx="618.2" cy="1312.5" r="12.5"/><circle cx="619.4" cy="1350.7" r="12.5"/><circle cx="620.5" cy="1316.9" r="12.5"/><circle cx="621.7" cy="1507.1" r="12.5"/><circle cx="622.9" cy="1336.9" r="12.5"/><circle cx="624.1" cy="1287.1" r="12.5"/><circle cx="625.3" cy="1416.6" r="12.5"/><circle cx="626.5" cy="1395.5" r="12.5"/><circle cx="627.7" cy="1434.4" r="12.5"/><circle cx="628.9" cy="1383.3" r="12.5"/><circle cx="630.1" cy="1338.7" r="12.5"/><circle cx="631.2" cy="1365.8" r="12.5"/><circle cx="632.4" cy="1485.1" r="12.5"/><circle cx="633.6" cy="1418.8" r="12.5"/><circle cx="634.8" cy="1404" r="12.5"/><circle cx="636" cy="1379.3" r="12.5"/><circle cx="637.2" cy="1403" r="12.5"/><circle cx="638.4" cy="1372.7" r="12.5"/><circle cx="639.6" cy="1272.5" r="12.5"/><circle cx="640.7" cy="1290.6" r="12.5"/><circle cx="641.9" cy="1232.5" r="12.5"/><circle cx="643.1" cy="1171.6" r="12.5"/><circle cx="644.3" cy="1451.6" r="12.5"/><circle cx="645.5" cy="1405.1" r="12.5"/><circle cx="646.7" cy="1427.1" r="12.5"/><circle cx="647.9" cy="1261.5" r="12.5"/><circle cx="649.1" cy="1288.5" r="12.5"/><circle cx="650.3" cy="1396.9" r="12.5"/><circle cx="651.4" cy="1402.7" r="12.5"/><circle cx="652.6" cy="1341.2" r="12.5"/><circle cx="653.8" cy="1271.7" r="12.5"/><circle cx="655" cy="1261.7" r="12.5"/><circle cx="656.2" cy="1437.4" r="12.5"/><circle cx="657.4" cy="1318.4" r="12.5"/><circle cx="658.6" cy="1404.2" r="12.5"/><circle cx="659.8" cy="1257.8" r="12.5"/><circle cx="661" cy="1197.1" r="12.5"/><circle cx="662.1" cy="1317.9" r="12.5"/><circle cx="663.3" cy="1308" r="12.5"/><circle cx="664.5" cy="1491" r="12.5"/><circle cx="665.7" cy="1299.2" r="12.5"/><circle cx="666.9" cy="1468.4" r="12.5"/><circle cx="668.1" cy="1378.2" r="12.5"/><circle cx="669.3" cy="1270.9" r="12.5"/><circle cx="670.5" cy="1462.3" r="12.5"/><circle cx="671.6" cy="1194.3" r="12.5"/><circle cx="672.8" cy="1172.5" r="12.5"/><circle cx="674" cy="1399.9" r="12.5"/><circle cx="675.2" cy="1297.9" r="12.5"/><circle cx="676.4" cy="1409.5" r="12.5"/><circle cx="677.6" cy="1311.9" r="12.5"/><circle cx="678.8" cy="1419.6" r="12.5"/><circle cx="680" cy="1368.4" r="12.5"/><circle cx="681.2" cy="1489.9" r="12.5"/><circle cx="682.3" cy="1276.9" r="12.5"/><circle cx="683.5" cy="1510.1" r="12.5"/><circle cx="684.7" cy="1283.3" r="12.5"/><circle cx="685.9" cy="1357" r="12.5"/><circle cx="687.1" cy="1346.2" r="12.5"/><circle cx="688.3" cy="1408.8" r="12.5"/><circle cx="689.5" cy="1168" r="12.5"/><circle cx="690.7" cy="1368.6" r="12.5"/><circle cx="691.9" cy="1289.4" r="12.5"/><circle cx="693" cy="1292.3" r="12.5"/><circle cx="694.2" cy="1269.8" r="12.5"/><circle cx="695.4" cy="1156.5" r="12.5"/><circle cx="696.6" cy="1255.2" r="12.5"/><circle cx="697.8" cy="1274.7" r="12.5"/><circle cx="699" cy="1307.7" r="12.5"/><circle cx="700.2" cy="1305.6" r="12.5"/><circle cx="701.4" cy="1342.9" r="12.5"/><circle cx="702.5" cy="1235.1" r="12.5"/><circle cx="703.7" cy="1372.8" r="12.5"/><circle cx="704.9" cy="1372.1" r="12.5"/><circle cx="706.1" cy="1283.5" r="12.5"/><circle cx="707.3" cy="1414.9" r="12.5"/><circle cx="708.5" cy="1315.5" r="12.5"/><circle cx="709.7" cy="1410.8" r="12.5"/><circle cx="710.9" cy="1350.6" r="12.5"/><circle cx="712.1" cy="1091.4" r="12.5"/><circle cx="713.2" cy="1149.5" r="12.5"/><circle cx="714.4" cy="1428.9" r="12.5"/><circle cx="715.6" cy="1236.3" r="12.5"/><circle cx="716.8" cy="1359.9" r="12.5"/><circle cx="718" cy="1409.5" r="12.5"/><circle cx="719.2" cy="1444.4" r="12.5"/><circle cx="720.4" cy="1288.6" r="12.5"/><circle cx="721.6" cy="1518.6" r="12.5"/><circle cx="722.8" cy="1384" r="12.5"/><circle cx="723.9" cy="1362.4" r="12.5"/><circle cx="725.1" cy="1248.6" r="12.5"/><circle cx="726.3" cy="1493.2" r="12.5"/><circle cx="727.5" cy="1478" r="12.5"/><circle cx="728.7" cy="1504.9" r="12.5"/><circle cx="729.9" cy="1381.2" r="12.5"/><circle cx="731.1" cy="1281.4" r="12.5"/><circle cx="732.3" cy="1363.2" r="12.5"/><circle cx="733.4" cy="1262.9" r="12.5"/><circle cx="734.6" cy="1276.5" r="12.5"/><circle cx="735.8" cy="1322.8" r="12.5"/><circle cx="737" cy="1408.4" r="12.5"/><circle cx="738.2" cy="1323.5" r="12.5"/><circle cx="739.4" cy="1165.5" r="12.5"/><circle cx="740.6" cy="1239.8" r="12.5"/><circle cx="741.8" cy="1280.6" r="12.5"/><circle cx="743" cy="1312.1" r="12.5"/><circle cx="744.1" cy="1285.2" r="12.5"/><circle cx="745.3" cy="1310.3" r="12.5"/><circle cx="746.5" cy="1251.3" r="12.5"/><circle cx="747.7" cy="1323.2" r="12.5"/><circle cx="748.9" cy="1201.7" r="12.5"/><circle cx="750.1" cy="1279.5" r="12.5"/><circle cx="751.3" cy="1290.3" r="12.5"/><circle cx="752.5" cy="1443.8" r="12.5"/><circle cx="753.7" cy="1468.1" r="12.5"/><circle cx="754.8" cy="1319.1" r="12.5"/><circle cx="756" cy="1184.9" r="12.5"/><circle cx="757.2" cy="1098.5" r="12.5"/><circle cx="758.4" cy="1365.3" r="12.5"/><circle cx="759.6" cy="1205.2" r="12.5"/><circle cx="760.8" cy="1502.3" r="12.5"/><circle cx="762" cy="1413.6" r="12.5"/><circle cx="763.2" cy="1438.5" r="12.5"/><circle cx="764.3" cy="1301.5" r="12.5"/><circle cx="765.5" cy="1489.7" r="12.5"/><circle cx="766.7" cy="1376.9" r="12.5"/><circle cx="767.9" cy="1470.4" r="12.5"/><circle cx="769.1" cy="1505.3" r="12.5"/><circle cx="770.3" cy="1482.4" r="12.5"/><circle cx="771.5" cy="1376" r="12.5"/><circle cx="772.7" cy="1361.1" r="12.5"/><circle cx="773.9" cy="1374.7" r="12.5"/><circle cx="775" cy="1422" r="12.5"/><circle cx="776.2" cy="1337.8" r="12.5"/><circle cx="777.4" cy="1314.7" r="12.5"/><circle cx="778.6" cy="1327.1" r="12.5"/><circle cx="779.8" cy="1216.8" r="12.5"/><circle cx="781" cy="1253.6" r="12.5"/><circle cx="782.2" cy="1392.4" r="12.5"/><circle cx="783.4" cy="1364.7" r="12.5"/><circle cx="784.6" cy="1383.2" r="12.5"/><circle cx="785.7" cy="1292.7" r="12.5"/><circle cx="786.9" cy="1241.8" r="12.5"/><circle cx="788.1" cy="1217.4" r="12.5"/><circle cx="789.3" cy="1319.5" r="12.5"/><circle cx="790.5" cy="1398.7" r="12.5"/><circle cx="791.7" cy="1445.6" r="12.5"/><circle cx="792.9" cy="1473.3" r="12.5"/><circle cx="794.1" cy="1226.2" r="12.5"/><circle cx="795.2" cy="1371.9" r="12.5"/><circle cx="796.4" cy="1379.8" r="12.5"/><circle cx="797.6" cy="1207.9" r="12.5"/><circle cx="798.8" cy="1380.8" r="12.5"/><circle cx="800" cy="1331.3" r="12.5"/><circle cx="801.2" cy="1289.4" r="12.5"/><circle cx="802.4" cy="1459.4" r="12.5"/><circle cx="803.6" cy="1419.2" r="12.5"/><circle cx="804.8" cy="1162.3" r="12.5"/><circle cx="805.9" cy="1183.1" r="12.5"/><circle cx="807.1" cy="1288.3" r="12.5"/><circle cx="808.3" cy="1468.2" r="12.5"/><circle cx="809.5" cy="1362.9" r="12.5"/><circle cx="810.7" cy="1323.7" r="12.5"/><circle cx="811.9" cy="1276.7" r="12.5"/><circle cx="813.1" cy="1329.7" r="12.5"/><circle cx="814.3" cy="1421.2" r="12.5"/><circle cx="815.5" cy="1330.2" r="12.5"/><circle cx="816.6" cy="1253.7" r="12.5"/><circle cx="817.8" cy="1388.7" r="12.5"/><circle cx="819" cy="1437.3" r="12.5"/><circle cx="820.2" cy="1436.9" r="12.5"/><circle cx="821.4" cy="1488.9" r="12.5"/><circle cx="822.6" cy="1255.9" r="12.5"/><circle cx="823.8" cy="1315.4" r="12.5"/><circle cx="825" cy="1347.1" r="12.5"/><circle cx="826.1" cy="1320.3" r="12.5"/><circle cx="827.3" cy="1242.6" r="12.5"/><circle cx="828.5" cy="1361.1" r="12.5"/><circle cx="829.7" cy="1430.2" r="12.5"/><circle cx="830.9" cy="1243.5" r="12.5"/><circle cx="832.1" cy="1478.7" r="12.5"/><circle cx="833.3" cy="1177" r="12.5"/><circle cx="834.5" cy="1349.3" r="12.5"/><circle cx="835.7" cy="1244.1" r="12.5"/><circle cx="836.8" cy="1226.8" r="12.5"/><circle cx="838" cy="1349" r="12.5"/><circle cx="839.2" cy="1360" r="12.5"/><circle cx="840.4" cy="1368.1" r="12.5"/><circle cx="841.6" cy="1388.3" r="12.5"/><circle cx="842.8" cy="1368.5" r="12.5"/><circle cx="844" cy="1251.2" r="12.5"/><circle cx="845.2" cy="1306.5" r="12.5"/><circle cx="846.4" cy="1219.8" r="12.5"/><circle cx="847.5" cy="1291.6" r="12.5"/><circle cx="848.7" cy="1360.5" r="12.5"/><circle cx="849.9" cy="1343" r="12.5"/><circle cx="851.1" cy="1191.7" r="12.5"/><circle cx="852.3" cy="1361.5" r="12.5"/><circle cx="853.5" cy="1241.2" r="12.5"/><circle cx="854.7" cy="1394.9" r="12.5"/><circle cx="855.9" cy="1283.3" r="12.5"/><circle cx="857" cy="1353.3" r="12.5"/><circle cx="858.2" cy="1362.8" r="12.5"/><circle cx="859.4" cy="1403.5" r="12.5"/><circle cx="860.6" cy="1396.7" r="12.5"/><circle cx="861.8" cy="1322.9" r="12.5"/><circle cx="863" cy="1235.9" r="12.5"/><circle cx="864.2" cy="1298.5" r="12.5"/><circle cx="865.4" cy="1398.1" r="12.5"/><circle cx="866.6" cy="1171.6" r="12.5"/><circle cx="867.7" cy="1289.6" r="12.5"/><circle cx="868.9" cy="1487.7" r="12.5"/><circle cx="870.1" cy="1334.1" r="12.5"/><circle cx="871.3" cy="1192.7" r="12.5"/><circle cx="872.5" cy="1488.9" r="12.5"/><circle cx="873.7" cy="1372.3" r="12.5"/><circle cx="874.9" cy="1281.9" r="12.5"/><circle cx="876.1" cy="1225.1" r="12.5"/><circle cx="877.3" cy="1274.2" r="12.5"/><circle cx="878.4" cy="1413.7" r="12.5"/><circle cx="879.6" cy="1257.2" r="12.5"/><circle cx="880.8" cy="1256.6" r="12.5"/><circle cx="882" cy="1402.5" r="12.5"/><circle cx="883.2" cy="1361" r="12.5"/><circle cx="884.4" cy="1431.5" r="12.5"/><circle cx="885.6" cy="1379" r="12.5"/><circle cx="886.8" cy="1245.6" r="12.5"/><circle cx="887.9" cy="1437.1" r="12.5"/><circle cx="889.1" cy="1256" r="12.5"/><circle cx="890.3" cy="1318.2" r="12.5"/><circle cx="891.5" cy="1320.4" r="12.5"/><circle cx="892.7" cy="1407.9" r="12.5"/><circle cx="893.9" cy="1299.3" r="12.5"/><circle cx="895.1" cy="1377.2" r="12.5"/><circle cx="896.3" cy="1385.7" r="12.5"/><circle cx="897.5" cy="1479.4" r="12.5"/><circle cx="898.6" cy="1375.9" r="12.5"/><circle cx="899.8" cy="1413.7" r="12.5"/><circle cx="901" cy="1313.5" r="12.5"/><circle cx="902.2" cy="1368.6" r="12.5"/><circle cx="903.4" cy="1380" r="12.5"/><circle cx="904.6" cy="1413.6" r="12.5"/><circle cx="905.8" cy="1414.6" r="12.5"/><circle cx="907" cy="1418" r="12.5"/><circle cx="908.2" cy="1298.2" r="12.5"/><circle cx="909.3" cy="1460.8" r="12.5"/><circle cx="910.5" cy="1457.7" r="12.5"/><circle cx="911.7" cy="1314.4" r="12.5"/><circle cx="912.9" cy="1229.2" r="12.5"/><circle cx="914.1" cy="1299.3" r="12.5"/><circle cx="915.3" cy="1333" r="12.5"/><circle cx="916.5" cy="1192.4" r="12.5"/><circle cx="917.7" cy="1286.8" r="12.5"/><circle cx="918.8" cy="1133.8" r="12.5"/><circle cx="920" cy="1362.6" r="12.5"/><circle cx="921.2" cy="1313.2" r="12.5"/><circle cx="922.4" cy="1266.3" r="12.5"/><circle cx="923.6" cy="1385.7" r="12.5"/><circle cx="924.8" cy="1301" r="12.5"/><circle cx="926" cy="1409.8" r="12.5"/><circle cx="927.2" cy="1539.4" r="12.5"/><circle cx="928.4" cy="1351.4" r="12.5"/><circle cx="929.5" cy="1531.6" r="12.5"/><circle cx="930.7" cy="1318.4" r="12.5"/><circle cx="931.9" cy="1165.5" r="12.5"/><circle cx="933.1" cy="1490.6" r="12.5"/><circle cx="934.3" cy="1144.7" r="12.5"/><circle cx="935.5" cy="1270.5" r="12.5"/><circle cx="936.7" cy="1319.4" r="12.5"/><circle cx="937.9" cy="1337.9" r="12.5"/><circle cx="939.1" cy="1365.2" r="12.5"/><circle cx="940.2" cy="1407.8" r="12.5"/><circle cx="941.4" cy="1276.9" r="12.5"/><circle cx="942.6" cy="1374.1" r="12.5"/><circle cx="943.8" cy="1299.3" r="12.5"/><circle cx="945" cy="1518.6" r="12.5"/><circle cx="946.2" cy="1476.4" r="12.5"/><circle cx="947.4" cy="1212.4" r="12.5"/><circle cx="948.6" cy="1328.3" r="12.5"/><circle cx="949.7" cy="1510.7" r="12.5"/><circle cx="950.9" cy="1311.9" r="12.5"/><circle cx="952.1" cy="1425" r="12.5"/><circle cx="953.3" cy="1420.1" r="12.5"/><circle cx="954.5" cy="1317.6" r="12.5"/><circle cx="955.7" cy="1531.8" r="12.5"/><circle cx="956.9" cy="1270.8" r="12.5"/><circle cx="958.1" cy="1420.5" r="12.5"/><circle cx="959.3" cy="1419.4" r="12.5"/><circle cx="960.4" cy="1344.5" r="12.5"/><circle cx="961.6" cy="1207.6" r="12.5"/><circle cx="962.8" cy="1314.9" r="12.5"/><circle cx="964" cy="1248.5" r="12.5"/><circle cx="965.2" cy="1422.3" r="12.5"/><circle cx="966.4" cy="1159.5" r="12.5"/><circle cx="967.6" cy="1358" r="12.5"/><circle cx="968.8" cy="1239.2" r="12.5"/><circle cx="970" cy="1401.5" r="12.5"/><circle cx="971.1" cy="1485.7" r="12.5"/><circle cx="972.3" cy="1370.4" r="12.5"/><circle cx="973.5" cy="1347.8" r="12.5"/><circle cx="974.7" cy="1339" r="12.5"/><circle cx="975.9" cy="1276" r="12.5"/><circle cx="977.1" cy="1280.9" r="12.5"/><circle cx="978.3" cy="1361.4" r="12.5"/><circle cx="979.5" cy="1283.9" r="12.5"/><circle cx="980.6" cy="1328.8" r="12.5"/><circle cx="981.8" cy="1308.9" r="12.5"/><circle cx="983" cy="1395.4" r="12.5"/><circle cx="984.2" cy="1268.5" r="12.5"/><circle cx="985.4" cy="1347.1" r="12.5"/><circle cx="986.6" cy="1237.8" r="12.5"/><circle cx="987.8" cy="1446" r="12.5"/><circle cx="989" cy="1253.5" r="12.5"/><circle cx="990.2" cy="1438" r="12.5"/><circle cx="991.3" cy="1306" r="12.5"/><circle cx="992.5" cy="1433.5" r="12.5"/><circle cx="993.7" cy="1418.9" r="12.5"/><circle cx="994.9" cy="1290.2" r="12.5"/><circle cx="996.1" cy="1469.6" r="12.5"/><circle cx="997.3" cy="1279.7" r="12.5"/><circle cx="998.5" cy="1203.2" r="12.5"/><circle cx="999.7" cy="1293.2" r="12.5"/><circle cx="1000.9" cy="1468.5" r="12.5"/><circle cx="1002" cy="1302.5" r="12.5"/><circle cx="1003.2" cy="1370.8" r="12.5"/><circle cx="1004.4" cy="1357.6" r="12.5"/><circle cx="1005.6" cy="1377.8" r="12.5"/><circle cx="1006.8" cy="1297.5" r="12.5"/><circle cx="1008" cy="1257.3" r="12.5"/><circle cx="1009.2" cy="1367.9" r="12.5"/><circle cx="1010.4" cy="1281.3" r="12.5"/><circle cx="1011.5" cy="1422.2" r="12.5"/><circle cx="1012.7" cy="1206.2" r="12.5"/><circle cx="1013.9" cy="1448.1" r="12.5"/><circle cx="1015.1" cy="1451.8" r="12.5"/><circle cx="1016.3" cy="1391" r="12.5"/><circle cx="1017.5" cy="1290.4" r="12.5"/><circle cx="1018.7" cy="1273.5" r="12.5"/><circle cx="1019.9" cy="1464.8" r="12.5"/><circle cx="1021.1" cy="1326.9" r="12.5"/><circle cx="1022.2" cy="1317.9" r="12.5"/><circle cx="1023.4" cy="1137.8" r="12.5"/><circle cx="1024.6" cy="1194.9" r="12.5"/><circle cx="1025.8" cy="1395.3" r="12.5"/><circle cx="1027" cy="1474" r="12.5"/><circle cx="1028.2" cy="1482.6" r="12.5"/><circle cx="1029.4" cy="1406.1" r="12.5"/><circle cx="1030.6" cy="1336.6" r="12.5"/><circle cx="1031.7" cy="1356.7" r="12.5"/><circle cx="1032.9" cy="1372" r="12.5"/><circle cx="1034.1" cy="1422.5" r="12.5"/><circle cx="1035.3" cy="1357.8" r="12.5"/><circle cx="1036.5" cy="1341.7" r="12.5"/><circle cx="1037.7" cy="1191.1" r="12.5"/><circle cx="1038.9" cy="1345.9" r="12.5"/><circle cx="1040.1" cy="1429.1" r="12.5"/><circle cx="1041.3" cy="1379.4" r="12.5"/><circle cx="1042.4" cy="1363.4" r="12.5"/><circle cx="1043.6" cy="1483.3" r="12.5"/><circle cx="1044.8" cy="1351.7" r="12.5"/><circle cx="1046" cy="1335.2" r="12.5"/><circle cx="1047.2" cy="1338.3" r="12.5"/><circle cx="1048.4" cy="1436.1" r="12.5"/><circle cx="1049.6" cy="1371" r="12.5"/><circle cx="1050.8" cy="1320.2" r="12.5"/><circle cx="1052" cy="1281.5" r="12.5"/><circle cx="1053.1" cy="1312.1" r="12.5"/><circle cx="1054.3" cy="1442.4" r="12.5"/><circle cx="1055.5" cy="1280.4" r="12.5"/><circle cx="1056.7" cy="1144.7" r="12.5"/><circle cx="1057.9" cy="1214.7" r="12.5"/><circle cx="1059.1" cy="1335.4" r="12.5"/><circle cx="1060.3" cy="1486.5" r="12.5"/><circle cx="1061.5" cy="1106.4" r="12.5"/><circle cx="1062.6" cy="1245.3" r="12.5"/><circle cx="1063.8" cy="1228.6" r="12.5"/><circle cx="1065" cy="1303.5" r="12.5"/><circle cx="1066.2" cy="1346" r="12.5"/><circle cx="1067.4" cy="1238.6" r="12.5"/><circle cx="1068.6" cy="1266.6" r="12.5"/><circle cx="1069.8" cy="1333.6" r="12.5"/><circle cx="1071" cy="1356.8" r="12.5"/><circle cx="1072.2" cy="1499.3" r="12.5"/><circle cx="1073.3" cy="1327" r="12.5"/><circle cx="1074.5" cy="1263.3" r="12.5"/><circle cx="1075.7" cy="1323.5" r="12.5"/><circle cx="1076.9" cy="1427.9" r="12.5"/><circle cx="1078.1" cy="1379.3" r="12.5"/><circle cx="1079.3" cy="1311.9" r="12.5"/><circle cx="1080.5" cy="1292.8" r="12.5"/><circle cx="1081.7" cy="1376" r="12.5"/><circle cx="1082.9" cy="1282.9" r="12.5"/><circle cx="1084" cy="1395" r="12.5"/><circle cx="1085.2" cy="1276.9" r="12.5"/><circle cx="1086.4" cy="1234" r="12.5"/><circle cx="1087.6" cy="1286.3" r="12.5"/><circle cx="1088.8" cy="1331.4" r="12.5"/><circle cx="1090" cy="1289" r="12.5"/><circle cx="1091.2" cy="1477.1" r="12.5"/><circle cx="1092.4" cy="1217" r="12.5"/><circle cx="1093.5" cy="1107.9" r="12.5"/><circle cx="1094.7" cy="1371" r="12.5"/><circle cx="1095.9" cy="1181.9" r="12.5"/><circle cx="1097.1" cy="1381.4" r="12.5"/><circle cx="1098.3" cy="1335" r="12.5"/><circle cx="1099.5" cy="1382.3" r="12.5"/><circle cx="1100.7" cy="1142.9" r="12.5"/><circle cx="1101.9" cy="1304" r="12.5"/><circle cx="1103.1" cy="1325.5" r="12.5"/><circle cx="1104.2" cy="1307.1" r="12.5"/><circle cx="1105.4" cy="1223.8" r="12.5"/><circle cx="1106.6" cy="1275.4" r="12.5"/><circle cx="1107.8" cy="1350.2" r="12.5"/><circle cx="1109" cy="1314.2" r="12.5"/><circle cx="1110.2" cy="1366.5" r="12.5"/><circle cx="1111.4" cy="1229.8" r="12.5"/><circle cx="1112.6" cy="1388" r="12.5"/><circle cx="1113.8" cy="1328.4" r="12.5"/><circle cx="1114.9" cy="1534.9" r="12.5"/><circle cx="1116.1" cy="1201.5" r="12.5"/><circle cx="1117.3" cy="1335.4" r="12.5"/><circle cx="1118.5" cy="1161" r="12.5"/><circle cx="1119.7" cy="1310.3" r="12.5"/><circle cx="1120.9" cy="1290.2" r="12.5"/><circle cx="1122.1" cy="1460.9" r="12.5"/><circle cx="1123.3" cy="1319.9" r="12.5"/><circle cx="1124.4" cy="1270" r="12.5"/><circle cx="1125.6" cy="1333.2" r="12.5"/><circle cx="1126.8" cy="1304.5" r="12.5"/><circle cx="1128" cy="1432.3" r="12.5"/><circle cx="1129.2" cy="1362.4" r="12.5"/><circle cx="1130.4" cy="1180.9" r="12.5"/><circle cx="1131.6" cy="1404.2" r="12.5"/><circle cx="1132.8" cy="1380.7" r="12.5"/><circle cx="1134" cy="1475.2" r="12.5"/><circle cx="1135.1" cy="1443.8" r="12.5"/><circle cx="1136.3" cy="1361.5" r="12.5"/><circle cx="1137.5" cy="1452.3" r="12.5"/><circle cx="1138.7" cy="1356.7" r="12.5"/><circle cx="1139.9" cy="1275.5" r="12.5"/><circle cx="1141.1" cy="1364.6" r="12.5"/><circle cx="1142.3" cy="1372.6" r="12.5"/><circle cx="1143.5" cy="1323" r="12.5"/><circle cx="1144.7" cy="1442.6" r="12.5"/><circle cx="1145.8" cy="1407.5" r="12.5"/><circle cx="1147" cy="1529.2" r="12.5"/><circle cx="1148.2" cy="1441.6" r="12.5"/><circle cx="1149.4" cy="1415.4" r="12.5"/><circle cx="1150.6" cy="1221.4" r="12.5"/><circle cx="1151.8" cy="1148" r="12.5"/><circle cx="1153" cy="1406.8" r="12.5"/><circle cx="1154.2" cy="1348.6" r="12.5"/><circle cx="1155.3" cy="1383.4" r="12.5"/><circle cx="1156.5" cy="1399.1" r="12.5"/><circle cx="1157.7" cy="1392.8" r="12.5"/><circle cx="1158.9" cy="1393.8" r="12.5"/><circle cx="1160.1" cy="1357.3" r="12.5"/><circle cx="1161.3" cy="1402.5" r="12.5"/><circle cx="1162.5" cy="1509.2" r="12.5"/><circle cx="1163.7" cy="1101.8" r="12.5"/><circle cx="1164.9" cy="1315.2" r="12.5"/><circle cx="1166" cy="1356.3" r="12.5"/><circle cx="1167.2" cy="1359.2" r="12.5"/><circle cx="1168.4" cy="1339.2" r="12.5"/><circle cx="1169.6" cy="1136.9" r="12.5"/><circle cx="1170.8" cy="1208.1" r="12.5"/><circle cx="1172" cy="1425.8" r="12.5"/><circle cx="1173.2" cy="1350.2" r="12.5"/><circle cx="1174.4" cy="1291.8" r="12.5"/><circle cx="1175.6" cy="1307.6" r="12.5"/><circle cx="1176.7" cy="1503.8" r="12.5"/><circle cx="1177.9" cy="1445" r="12.5"/><circle cx="1179.1" cy="1457.4" r="12.5"/><circle cx="1180.3" cy="1371.2" r="12.5"/><circle cx="1181.5" cy="1273.9" r="12.5"/><circle cx="1182.7" cy="1171" r="12.5"/><circle cx="1183.9" cy="1290.4" r="12.5"/><circle cx="1185.1" cy="1344.2" r="12.5"/><circle cx="1186.2" cy="1362.3" r="12.5"/><circle cx="1187.4" cy="1353.1" r="12.5"/><circle cx="1188.6" cy="1348.4" r="12.5"/><circle cx="1189.8" cy="1446.8" r="12.5"/><circle cx="1191" cy="1448.6" r="12.5"/><circle cx="1192.2" cy="1345.5" r="12.5"/><circle cx="1193.4" cy="1212.2" r="12.5"/><circle cx="1194.6" cy="1323.6" r="12.5"/><circle cx="1195.8" cy="1471.8" r="12.5"/><circle cx="1196.9" cy="1433.6" r="12.5"/><circle cx="1198.1" cy="1356.5" r="12.5"/><circle cx="1199.3" cy="1423.8" r="12.5"/><circle cx="1200.5" cy="1320.9" r="12.5"/><circle cx="1201.7" cy="1174.9" r="12.5"/><circle cx="1202.9" cy="1391.9" r="12.5"/><circle cx="1204.1" cy="1393.3" r="12.5"/><circle cx="1205.3" cy="1429.7" r="12.5"/><circle cx="1206.5" cy="1292.7" r="12.5"/><circle cx="1207.6" cy="1296.9" r="12.5"/><circle cx="1208.8" cy="1289.9" r="12.5"/><circle cx="1210" cy="1268.8" r="12.5"/><circle cx="1211.2" cy="1174" r="12.5"/><circle cx="1212.4" cy="1318.5" r="12.5"/><circle cx="1213.6" cy="1227.5" r="12.5"/><circle cx="1214.8" cy="1387" r="12.5"/><circle cx="1216" cy="1262.7" r="12.5"/><circle cx="1217.1" cy="1356.7" r="12.5"/><circle cx="1218.3" cy="1367.8" r="12.5"/><circle cx="1219.5" cy="1391.9" r="12.5"/><circle cx="1220.7" cy="1301.2" r="12.5"/><circle cx="1221.9" cy="1336.9" r="12.5"/><circle cx="1223.1" cy="1276.3" r="12.5"/><circle cx="1224.3" cy="1427.1" r="12.5"/><circle cx="1225.5" cy="1338.5" r="12.5"/><circle cx="1226.7" cy="1432.8" r="12.5"/><circle cx="1227.8" cy="1315.3" r="12.5"/><circle cx="1229" cy="1256.1" r="12.5"/><circle cx="1230.2" cy="1435.8" r="12.5"/><circle cx="1231.4" cy="1283" r="12.5"/><circle cx="1232.6" cy="1447.8" r="12.5"/><circle cx="1233.8" cy="1266.5" r="12.5"/><circle cx="1235" cy="1371.3" r="12.5"/><circle cx="1236.2" cy="1346.9" r="12.5"/><circle cx="1237.4" cy="1473.2" r="12.5"/><circle cx="1238.5" cy="1270.4" r="12.5"/><circle cx="1239.7" cy="1392.3" r="12.5"/><circle cx="1240.9" cy="1504.7" r="12.5"/><circle cx="1242.1" cy="1408.2" r="12.5"/><circle cx="1243.3" cy="1289.1" r="12.5"/><circle cx="1244.5" cy="1417" r="12.5"/><circle cx="1245.7" cy="1368.1" r="12.5"/><circle cx="1246.9" cy="1369.4" r="12.5"/><circle cx="1248" cy="1396.2" r="12.5"/><circle cx="1249.2" cy="1260.8" r="12.5"/><circle cx="1250.4" cy="1226.1" r="12.5"/><circle cx="1251.6" cy="1419.9" r="12.5"/><circle cx="1252.8" cy="1238.8" r="12.5"/><circle cx="1254" cy="1268" r="12.5"/><circle cx="1255.2" cy="1370.6" r="12.5"/><circle cx="1256.4" cy="1290" r="12.5"/><circle cx="1257.6" cy="1203.3" r="12.5"/><circle cx="1258.7" cy="1183.1" r="12.5"/><circle cx="1259.9" cy="1374.7" r="12.5"/><circle cx="1261.1" cy="1363.9" r="12.5"/><circle cx="1262.3" cy="1411.4" r="12.5"/><circle cx="1263.5" cy="1204.4" r="12.5"/><circle cx="1264.7" cy="1283" r="12.5"/><circle cx="1265.9" cy="1427.8" r="12.5"/><circle cx="1267.1" cy="1365.6" r="12.5"/><circle cx="1268.3" cy="1293.8" r="12.5"/><circle cx="1269.4" cy="1352.7" r="12.5"/><circle cx="1270.6" cy="1239.4" r="12.5"/><circle cx="1271.8" cy="1302.9" r="12.5"/><circle cx="1273" cy="1160.4" r="12.5"/><circle cx="1274.2" cy="1207.8" r="12.5"/><circle cx="1275.4" cy="1255.3" r="12.5"/><circle cx="1276.6" cy="1120.8" r="12.5"/><circle cx="1277.8" cy="1243.9" r="12.5"/><circle cx="1278.9" cy="1289.4" r="12.5"/><circle cx="1280.1" cy="1234" r="12.5"/><circle cx="1281.3" cy="1113.9" r="12.5"/><circle cx="1282.5" cy="1218.2" r="12.5"/><circle cx="1283.7" cy="1394.6" r="12.5"/><circle cx="1284.9" cy="1244.2" r="12.5"/><circle cx="1286.1" cy="1206.6" r="12.5"/><circle cx="1287.3" cy="1234.8" r="12.5"/><circle cx="1288.5" cy="1276.6" r="12.5"/><circle cx="1289.6" cy="1318.5" r="12.5"/><circle cx="1290.8" cy="1394" r="12.5"/><circle cx="1292" cy="1385.4" r="12.5"/><circle cx="1293.2" cy="1344.8" r="12.5"/><circle cx="1294.4" cy="1407.2" r="12.5"/><circle cx="1295.6" cy="1315.1" r="12.5"/><circle cx="1296.8" cy="1368.2" r="12.5"/><circle cx="1298" cy="1360.6" r="12.5"/><circle cx="1299.2" cy="1252.9" r="12.5"/><circle cx="1300.3" cy="1327.2" r="12.5"/><circle cx="1301.5" cy="1297.2" r="12.5"/><circle cx="1302.7" cy="1473.1" r="12.5"/><circle cx="1303.9" cy="1307.9" r="12.5"/><circle cx="1305.1" cy="1419.2" r="12.5"/><circle cx="1306.3" cy="1242.8" r="12.5"/><circle cx="1307.5" cy="1468.7" r="12.5"/><circle cx="1308.7" cy="1420.2" r="12.5"/><circle cx="1309.8" cy="1507.1" r="12.5"/><circle cx="1311" cy="1301.2" r="12.5"/><circle cx="1312.2" cy="1223.4" r="12.5"/><circle cx="1313.4" cy="1470.1" r="12.5"/><circle cx="1314.6" cy="1379.4" r="12.5"/><circle cx="1315.8" cy="1418.6" r="12.5"/><circle cx="1317" cy="1243.2" r="12.5"/><circle cx="1318.2" cy="1214.1" r="12.5"/><circle cx="1319.4" cy="1326.1" r="12.5"/><circle cx="1320.5" cy="1283.6" r="12.5"/><circle cx="1321.7" cy="1392.4" r="12.5"/><circle cx="1322.9" cy="1428.6" r="12.5"/><circle cx="1324.1" cy="1299.1" r="12.5"/><circle cx="1325.3" cy="1370" r="12.5"/><circle cx="1326.5" cy="1283" r="12.5"/><circle cx="1327.7" cy="1355.6" r="12.5"/><circle cx="1328.9" cy="1239.6" r="12.5"/><circle cx="1330.1" cy="1339.8" r="12.5"/><circle cx="1331.2" cy="1326.6" r="12.5"/><circle cx="1332.4" cy="1258.6" r="12.5"/><circle cx="1333.6" cy="1309.8" r="12.5"/><circle cx="1334.8" cy="1229.4" r="12.5"/><circle cx="1336" cy="1366.2" r="12.5"/><circle cx="1337.2" cy="1387.2" r="12.5"/><circle cx="1338.4" cy="1249.4" r="12.5"/><circle cx="1339.6" cy="1271.9" r="12.5"/><circle cx="1340.7" cy="1343.7" r="12.5"/><circle cx="1341.9" cy="1379.7" r="12.5"/><circle cx="1343.1" cy="1348.9" r="12.5"/><circle cx="1344.3" cy="1301.3" r="12.5"/><circle cx="1345.5" cy="1318.9" r="12.5"/><circle cx="1346.7" cy="1389.2" r="12.5"/><circle cx="1347.9" cy="1372.1" r="12.5"/><circle cx="1349.1" cy="1272.3" r="12.5"/><circle cx="1350.3" cy="1236.3" r="12.5"/><circle cx="1351.4" cy="1216.2" r="12.5"/><circle cx="1352.6" cy="1373.5" r="12.5"/><circle cx="1353.8" cy="1403.4" r="12.5"/><circle cx="1355" cy="1166.5" r="12.5"/><circle cx="1356.2" cy="1283" r="12.5"/><circle cx="1357.4" cy="1338.6" r="12.5"/><circle cx="1358.6" cy="1262.3" r="12.5"/><circle cx="1359.8" cy="1248.8" r="12.5"/><circle cx="1361" cy="1335" r="12.5"/><circle cx="1362.1" cy="1312.1" r="12.5"/><circle cx="1363.3" cy="1421.1" r="12.5"/><circle cx="1364.5" cy="1416.9" r="12.5"/><circle cx="1365.7" cy="1172.5" r="12.5"/><circle cx="1366.9" cy="1247.1" r="12.5"/><circle cx="1368.1" cy="1189.9" r="12.5"/><circle cx="1369.3" cy="1418.8" r="12.5"/><circle cx="1370.5" cy="1399.6" r="12.5"/><circle cx="1371.6" cy="1319.3" r="12.5"/><circle cx="1372.8" cy="1239.1" r="12.5"/><circle cx="1374" cy="1425.1" r="12.5"/><circle cx="1375.2" cy="1284.8" r="12.5"/><circle cx="1376.4" cy="1206.4" r="12.5"/><circle cx="1377.6" cy="1466.6" r="12.5"/><circle cx="1378.8" cy="1397.7" r="12.5"/><circle cx="1380" cy="1268.6" r="12.5"/><circle cx="1381.2" cy="1248.8" r="12.5"/><circle cx="1382.3" cy="1398.1" r="12.5"/><circle cx="1383.5" cy="1276.5" r="12.5"/><circle cx="1384.7" cy="1275" r="12.5"/><circle cx="1385.9" cy="1450" r="12.5"/><circle cx="1387.1" cy="1357.8" r="12.5"/><circle cx="1388.3" cy="1397.9" r="12.5"/><circle cx="1389.5" cy="1371.8" r="12.5"/><circle cx="1390.7" cy="1328.2" r="12.5"/><circle cx="1391.9" cy="1428.3" r="12.5"/><circle cx="1393" cy="1473.3" r="12.5"/><circle cx="1394.2" cy="1446" r="12.5"/><circle cx="1395.4" cy="1445.3" r="12.5"/><circle cx="1396.6" cy="1364.1" r="12.5"/><circle cx="1397.8" cy="1286.7" r="12.5"/><circle cx="1399" cy="1401.7" r="12.5"/><circle cx="1400.2" cy="1418.4" r="12.5"/><circle cx="1401.4" cy="1409.5" r="12.5"/><circle cx="1402.5" cy="1312.9" r="12.5"/><circle cx="1403.7" cy="1387.8" r="12.5"/><circle cx="1404.9" cy="1378.8" r="12.5"/><circle cx="1406.1" cy="1440.4" r="12.5"/><circle cx="1407.3" cy="1396" r="12.5"/><circle cx="1408.5" cy="1425.2" r="12.5"/><circle cx="1409.7" cy="1311.6" r="12.5"/><circle cx="1410.9" cy="1404.2" r="12.5"/><circle cx="1412.1" cy="1301.8" r="12.5"/><circle cx="1413.2" cy="1353.9" r="12.5"/><circle cx="1414.4" cy="1360.4" r="12.5"/><circle cx="1415.6" cy="1479.4" r="12.5"/><circle cx="1416.8" cy="1377.7" r="12.5"/><circle cx="1418" cy="1424.1" r="12.5"/><circle cx="1419.2" cy="1499.3" r="12.5"/><circle cx="1420.4" cy="1263.3" r="12.5"/><circle cx="1421.6" cy="1527.9" r="12.5"/><circle cx="1422.7" cy="1303.2" r="12.5"/><circle cx="1423.9" cy="1304.7" r="12.5"/><circle cx="1425.1" cy="1357.9" r="12.5"/><circle cx="1426.3" cy="1253.7" r="12.5"/><circle cx="1427.5" cy="1481.5" r="12.5"/><circle cx="1428.7" cy="1305" r="12.5"/><circle cx="1429.9" cy="1528.8" r="12.5"/><circle cx="1431.1" cy="1389.1" r="12.5"/><circle cx="1432.3" cy="1433.8" r="12.5"/><circle cx="1433.4" cy="1410.9" r="12.5"/><circle cx="1434.6" cy="1170.1" r="12.5"/><circle cx="1435.8" cy="1354.3" r="12.5"/><circle cx="1437" cy="1190.9" r="12.5"/><circle cx="1438.2" cy="1336" r="12.5"/><circle cx="1439.4" cy="1286" r="12.5"/><circle cx="1440.6" cy="1423.6" r="12.5"/><circle cx="1441.8" cy="1435.3" r="12.5"/><circle cx="1443" cy="1302.9" r="12.5"/><circle cx="1444.1" cy="1300.9" r="12.5"/><circle cx="1445.3" cy="1468.1" r="12.5"/><circle cx="1446.5" cy="1450.1" r="12.5"/><circle cx="1447.7" cy="1374.9" r="12.5"/><circle cx="1448.9" cy="1503.5" r="12.5"/><circle cx="1450.1" cy="1426.2" r="12.5"/><circle cx="1451.3" cy="1354.5" r="12.5"/><circle cx="1452.5" cy="1462.9" r="12.5"/><circle cx="1453.6" cy="1457.7" r="12.5"/><circle cx="1454.8" cy="1203.1" r="12.5"/><circle cx="1456" cy="1326.7" r="12.5"/><circle cx="1457.2" cy="1294.1" r="12.5"/><circle cx="1458.4" cy="1387.3" r="12.5"/><circle cx="1459.6" cy="1456.1" r="12.5"/><circle cx="1460.8" cy="1307.3" r="12.5"/><circle cx="1462" cy="1280.2" r="12.5"/><circle cx="1463.2" cy="1402" r="12.5"/><circle cx="1464.3" cy="1399.6" r="12.5"/><circle cx="1465.5" cy="1320.7" r="12.5"/><circle cx="1466.7" cy="1365.8" r="12.5"/><circle cx="1467.9" cy="1464.8" r="12.5"/><circle cx="1469.1" cy="1293.7" r="12.5"/><circle cx="1470.3" cy="1282.5" r="12.5"/><circle cx="1471.5" cy="1465.7" r="12.5"/><circle cx="1472.7" cy="1206.3" r="12.5"/><circle cx="1473.9" cy="1410.2" r="12.5"/><circle cx="1475" cy="1422.9" r="12.5"/><circle cx="1476.2" cy="1407.8" r="12.5"/><circle cx="1477.4" cy="1341.7" r="12.5"/><circle cx="1478.6" cy="1355.4" r="12.5"/><circle cx="1479.8" cy="1473.9" r="12.5"/><circle cx="1481" cy="1352.2" r="12.5"/><circle cx="1482.2" cy="1331.4" r="12.5"/><circle cx="1483.4" cy="1427.4" r="12.5"/><circle cx="1484.5" cy="1506.2" r="12.5"/><circle cx="1485.7" cy="1491.8" r="12.5"/><circle cx="1486.9" cy="1455.8" r="12.5"/><circle cx="1488.1" cy="1420.1" r="12.5"/><circle cx="1489.3" cy="1301.3" r="12.5"/><circle cx="1490.5" cy="1394.1" r="12.5"/><circle cx="1491.7" cy="1314" r="12.5"/><circle cx="1492.9" cy="1190.2" r="12.5"/><circle cx="1494.1" cy="1361.6" r="12.5"/><circle cx="1495.2" cy="1379.5" r="12.5"/><circle cx="1496.4" cy="1298.8" r="12.5"/><circle cx="1497.6" cy="1282.4" r="12.5"/><circle cx="1498.8" cy="1278.3" r="12.5"/><circle cx="1500" cy="1502.3" r="12.5"/><circle cx="1501.2" cy="1385.3" r="12.5"/><circle cx="1502.4" cy="1470.3" r="12.5"/><circle cx="1503.6" cy="1486.6" r="12.5"/><circle cx="1504.8" cy="1436.5" r="12.5"/><circle cx="1505.9" cy="1387" r="12.5"/><circle cx="1507.1" cy="1448.4" r="12.5"/><circle cx="1508.3" cy="1459.6" r="12.5"/><circle cx="1509.5" cy="1366.3" r="12.5"/><circle cx="1510.7" cy="1368.7" r="12.5"/><circle cx="1511.9" cy="1377.9" r="12.5"/><circle cx="1513.1" cy="1206.5" r="12.5"/><circle cx="1514.3" cy="1261.1" r="12.5"/><circle cx="1515.4" cy="1428.9" r="12.5"/><circle cx="1516.6" cy="1258.5" r="12.5"/><circle cx="1517.8" cy="1333.1" r="12.5"/><circle cx="1519" cy="1386.6" r="12.5"/><circle cx="1520.2" cy="1366.2" r="12.5"/><circle cx="1521.4" cy="1177.9" r="12.5"/><circle cx="1522.6" cy="1324.2" r="12.5"/><circle cx="1523.8" cy="1396.9" r="12.5"/><circle cx="1525" cy="1342.3" r="12.5"/><circle cx="1526.1" cy="1283.8" r="12.5"/><circle cx="1527.3" cy="1330.8" r="12.5"/><circle cx="1528.5" cy="1365.7" r="12.5"/><circle cx="1529.7" cy="1429.4" r="12.5"/><circle cx="1530.9" cy="1417.3" r="12.5"/><circle cx="1532.1" cy="1463.2" r="12.5"/><circle cx="1533.3" cy="1351.2" r="12.5"/><circle cx="1534.5" cy="1306.3" r="12.5"/><circle cx="1535.7" cy="1304.6" r="12.5"/><circle cx="1536.8" cy="1342.3" r="12.5"/><circle cx="1538" cy="1237.5" r="12.5"/><circle cx="1539.2" cy="1296.4" r="12.5"/><circle cx="1540.4" cy="1282.5" r="12.5"/><circle cx="1541.6" cy="1406.2" r="12.5"/><circle cx="1542.8" cy="1341.9" r="12.5"/><circle cx="1544" cy="1351.2" r="12.5"/><circle cx="1545.2" cy="1242.4" r="12.5"/><circle cx="1546.3" cy="1328.8" r="12.5"/><circle cx="1547.5" cy="1141.1" r="12.5"/><circle cx="1548.7" cy="1337" r="12.5"/><circle cx="1549.9" cy="1345.8" r="12.5"/><circle cx="1551.1" cy="1223.9" r="12.5"/><circle cx="1552.3" cy="1378" r="12.5"/><circle cx="1553.5" cy="1400.9" r="12.5"/><circle cx="1554.7" cy="1316.9" r="12.5"/><circle cx="1555.9" cy="1346.2" r="12.5"/><circle cx="1557" cy="1243.4" r="12.5"/><circle cx="1558.2" cy="1261.7" r="12.5"/><circle cx="1559.4" cy="1321.1" r="12.5"/><circle cx="1560.6" cy="1362.9" r="12.5"/><circle cx="1561.8" cy="1180.3" r="12.5"/><circle cx="1563" cy="1354.8" r="12.5"/><circle cx="1564.2" cy="1256.2" r="12.5"/><circle cx="1565.4" cy="1324.3" r="12.5"/><circle cx="1566.6" cy="1311.3" r="12.5"/><circle cx="1567.7" cy="1492" r="12.5"/><circle cx="1568.9" cy="1452.6" r="12.5"/><circle cx="1570.1" cy="1373.5" r="12.5"/><circle cx="1571.3" cy="1305.8" r="12.5"/><circle cx="1572.5" cy="1301.3" r="12.5"/><circle cx="1573.7" cy="1342.9" r="12.5"/><circle cx="1574.9" cy="1474.4" r="12.5"/><circle cx="1576.1" cy="1337.5" r="12.5"/><circle cx="1577.2" cy="1411.2" r="12.5"/><circle cx="1578.4" cy="1186.4" r="12.5"/><circle cx="1579.6" cy="1488.6" r="12.5"/><circle cx="1580.8" cy="1434.5" r="12.5"/><circle cx="1582" cy="1404" r="12.5"/><circle cx="1583.2" cy="1360.2" r="12.5"/><circle cx="1584.4" cy="1314.6" r="12.5"/><circle cx="1585.6" cy="1368.1" r="12.5"/><circle cx="1586.8" cy="1389.3" r="12.5"/><circle cx="1587.9" cy="1434.5" r="12.5"/><circle cx="1589.1" cy="1403.8" r="12.5"/><circle cx="1590.3" cy="1474.9" r="12.5"/><circle cx="1591.5" cy="1352.2" r="12.5"/><circle cx="1592.7" cy="1400.5" r="12.5"/><circle cx="1593.9" cy="1303.3" r="12.5"/><circle cx="1595.1" cy="1331.1" r="12.5"/><circle cx="1596.3" cy="1400.4" r="12.5"/><circle cx="1597.5" cy="1364.2" r="12.5"/><circle cx="1598.6" cy="1349.8" r="12.5"/><circle cx="1599.8" cy="1331.7" r="12.5"/><circle cx="1601" cy="1182.8" r="12.5"/><circle cx="1602.2" cy="1487.9" r="12.5"/><circle cx="1603.4" cy="1393.4" r="12.5"/><circle cx="1604.6" cy="1194.2" r="12.5"/><circle cx="1605.8" cy="1297.7" r="12.5"/><circle cx="1607" cy="1205.6" r="12.5"/><circle cx="1608.1" cy="1342.7" r="12.5"/><circle cx="1609.3" cy="1428.5" r="12.5"/><circle cx="1610.5" cy="1116.6" r="12.5"/><circle cx="1611.7" cy="1336.5" r="12.5"/><circle cx="1612.9" cy="1345.7" r="12.5"/><circle cx="1614.1" cy="1386.2" r="12.5"/><circle cx="1615.3" cy="1240.8" r="12.5"/><circle cx="1616.5" cy="1229" r="12.5"/><circle cx="1617.7" cy="1391" r="12.5"/><circle cx="1618.8" cy="1205.4" r="12.5"/><circle cx="1620" cy="1277.1" r="12.5"/><circle cx="1621.2" cy="1445.8" r="12.5"/><circle cx="1622.4" cy="1280.1" r="12.5"/><circle cx="1623.6" cy="1329.8" r="12.5"/><circle cx="1624.8" cy="1364.8" r="12.5"/><circle cx="1626" cy="1478.3" r="12.5"/><circle cx="1627.2" cy="1341.9" r="12.5"/><circle cx="1628.4" cy="1445.7" r="12.5"/><circle cx="1629.5" cy="1515.3" r="12.5"/><circle cx="1630.7" cy="1250.2" r="12.5"/><circle cx="1631.9" cy="1460.1" r="12.5"/><circle cx="1633.1" cy="1476.8" r="12.5"/><circle cx="1634.3" cy="1335.9" r="12.5"/><circle cx="1635.5" cy="1459.9" r="12.5"/><circle cx="1636.7" cy="1254.5" r="12.5"/><circle cx="1637.9" cy="1435.2" r="12.5"/><circle cx="1639" cy="1299.3" r="12.5"/><circle cx="1640.2" cy="1433.6" r="12.5"/><circle cx="1641.4" cy="1391.6" r="12.5"/><circle cx="1642.6" cy="1330.3" r="12.5"/><circle cx="1643.8" cy="1496.5" r="12.5"/><circle cx="1645" cy="1388.1" r="12.5"/><circle cx="1646.2" cy="1275.1" r="12.5"/><circle cx="1647.4" cy="1373.8" r="12.5"/><circle cx="1648.6" cy="1216.8" r="12.5"/><circle cx="1649.7" cy="1243.8" r="12.5"/><circle cx="1650.9" cy="1103.3" r="12.5"/><circle cx="1652.1" cy="1422.3" r="12.5"/><circle cx="1653.3" cy="1189.1" r="12.5"/><circle cx="1654.5" cy="1266.4" r="12.5"/><circle cx="1655.7" cy="1357.2" r="12.5"/><circle cx="1656.9" cy="1164.6" r="12.5"/><circle cx="1658.1" cy="1275.9" r="12.5"/><circle cx="1659.3" cy="1287.9" r="12.5"/><circle cx="1660.4" cy="1240.8" r="12.5"/><circle cx="1661.6" cy="1239.2" r="12.5"/><circle cx="1662.8" cy="1221.5" r="12.5"/><circle cx="1664" cy="1406.8" r="12.5"/><circle cx="1665.2" cy="1285.7" r="12.5"/><circle cx="1666.4" cy="1354.3" r="12.5"/><circle cx="1667.6" cy="1428.3" r="12.5"/><circle cx="1668.8" cy="1186.4" r="12.5"/><circle cx="1669.9" cy="1367.8" r="12.5"/><circle cx="1671.1" cy="1390.9" r="12.5"/><circle cx="1672.3" cy="1281.6" r="12.5"/><circle cx="1673.5" cy="1327.7" r="12.5"/><circle cx="1674.7" cy="1284" r="12.5"/><circle cx="1675.9" cy="1316.9" r="12.5"/><circle cx="1677.1" cy="1309.2" r="12.5"/><circle cx="1678.3" cy="1290.9" r="12.5"/><circle cx="1679.5" cy="1403" r="12.5"/><circle cx="1680.6" cy="1356.2" r="12.5"/><circle cx="1681.8" cy="1362.8" r="12.5"/><circle cx="1683" cy="1392.4" r="12.5"/><circle cx="1684.2" cy="1432.5" r="12.5"/><circle cx="1685.4" cy="1329.5" r="12.5"/><circle cx="1686.6" cy="1303.1" r="12.5"/><circle cx="1687.8" cy="1223.1" r="12.5"/><circle cx="1689" cy="1501.4" r="12.5"/><circle cx="1690.2" cy="1342.3" r="12.5"/><circle cx="1691.3" cy="1338.7" r="12.5"/><circle cx="1692.5" cy="1450.1" r="12.5"/><circle cx="1693.7" cy="1361.9" r="12.5"/><circle cx="1694.9" cy="1254.1" r="12.5"/><circle cx="1696.1" cy="1204.3" r="12.5"/><circle cx="1697.3" cy="1293.7" r="12.5"/><circle cx="1698.5" cy="1213.6" r="12.5"/><circle cx="1699.7" cy="1209.9" r="12.5"/><circle cx="1700.8" cy="1192.8" r="12.5"/><circle cx="1702" cy="1264.3" r="12.5"/><circle cx="1703.2" cy="1363.8" r="12.5"/><circle cx="1704.4" cy="1299.1" r="12.5"/><circle cx="1705.6" cy="1226.3" r="12.5"/><circle cx="1706.8" cy="1353.1" r="12.5"/><circle cx="1708" cy="1316.4" r="12.5"/><circle cx="1709.2" cy="1393.1" r="12.5"/><circle cx="1710.4" cy="1165.5" r="12.5"/><circle cx="1711.5" cy="1390.5" r="12.5"/><circle cx="1712.7" cy="1464.8" r="12.5"/><circle cx="1713.9" cy="1274.8" r="12.5"/><circle cx="1715.1" cy="1422.6" r="12.5"/><circle cx="1716.3" cy="1366.7" r="12.5"/><circle cx="1717.5" cy="1339.2" r="12.5"/><circle cx="1718.7" cy="1539.4" r="12.5"/><circle cx="1719.9" cy="1419.8" r="12.5"/><circle cx="1721.1" cy="1514.1" r="12.5"/><circle cx="1722.2" cy="1476.6" r="12.5"/><circle cx="1723.4" cy="1441.8" r="12.5"/><circle cx="1724.6" cy="1172.5" r="12.5"/><circle cx="1725.8" cy="1441.8" r="12.5"/><circle cx="1727" cy="1325.8" r="12.5"/><circle cx="1728.2" cy="1368" r="12.5"/><circle cx="1729.4" cy="1225.7" r="12.5"/><circle cx="1730.6" cy="1310.6" r="12.5"/><circle cx="1731.7" cy="1259.7" r="12.5"/><circle cx="1732.9" cy="1381.2" r="12.5"/><circle cx="1734.1" cy="1458.8" r="12.5"/><circle cx="1735.3" cy="1360.6" r="12.5"/><circle cx="1736.5" cy="1510.1" r="12.5"/><circle cx="1737.7" cy="1284.3" r="12.5"/><circle cx="1738.9" cy="1290.5" r="12.5"/><circle cx="1740.1" cy="1286.7" r="12.5"/><circle cx="1741.3" cy="1408.1" r="12.5"/><circle cx="1742.4" cy="1396" r="12.5"/><circle cx="1743.6" cy="1347.5" r="12.5"/><circle cx="1744.8" cy="1379.2" r="12.5"/><circle cx="1746" cy="1300.6" r="12.5"/><circle cx="1747.2" cy="1181.9" r="12.5"/><circle cx="1748.4" cy="1269" r="12.5"/><circle cx="1749.6" cy="1255.3" r="12.5"/><circle cx="1750.8" cy="1380.7" r="12.5"/><circle cx="1752" cy="1216.4" r="12.5"/><circle cx="1753.1" cy="1461.2" r="12.5"/><circle cx="1754.3" cy="1507.1" r="12.5"/><circle cx="1755.5" cy="1334.9" r="12.5"/><circle cx="1756.7" cy="1351.5" r="12.5"/><circle cx="1757.9" cy="1308.5" r="12.5"/><circle cx="1759.1" cy="1159.5" r="12.5"/><circle cx="1760.3" cy="1336.4" r="12.5"/><circle cx="1761.5" cy="1240.5" r="12.5"/><circle cx="1762.6" cy="1388.6" r="12.5"/><circle cx="1763.8" cy="1277.2" r="12.5"/><circle cx="1765" cy="1426.7" r="12.5"/><circle cx="1766.2" cy="1332.3" r="12.5"/><circle cx="1767.4" cy="1298.9" r="12.5"/><circle cx="1768.6" cy="1253.7" r="12.5"/><circle cx="1769.8" cy="1416.1" r="12.5"/><circle cx="1771" cy="1474.9" r="12.5"/><circle cx="1772.2" cy="1202.8" r="12.5"/><circle cx="1773.3" cy="1384.6" r="12.5"/><circle cx="1774.5" cy="1333.5" r="12.5"/><circle cx="1775.7" cy="1326.9" r="12.5"/><circle cx="1776.9" cy="1222.7" r="12.5"/><circle cx="1778.1" cy="1268.2" r="12.5"/><circle cx="1779.3" cy="1237.3" r="12.5"/><circle cx="1780.5" cy="1233.5" r="12.5"/><circle cx="1781.7" cy="1290.5" r="12.5"/><circle cx="1782.9" cy="1349.2" r="12.5"/><circle cx="1784" cy="1148.6" r="12.5"/><circle cx="1785.2" cy="1240.5" r="12.5"/><circle cx="1786.4" cy="1268.2" r="12.5"/><circle cx="1787.6" cy="1319" r="12.5"/><circle cx="1788.8" cy="1151.7" r="12.5"/><circle cx="1790" cy="1479.7" r="12.5"/><circle cx="1791.2" cy="1528.8" r="12.5"/><circle cx="1792.4" cy="1413.5" r="12.5"/><circle cx="1793.5" cy="1331.2" r="12.5"/><circle cx="1794.7" cy="1412.7" r="12.5"/><circle cx="1795.9" cy="1299.4" r="12.5"/><circle cx="1797.1" cy="1198.6" r="12.5"/><circle cx="1798.3" cy="1495.6" r="12.5"/><circle cx="1799.5" cy="1360.9" r="12.5"/><circle cx="1800.7" cy="1328.8" r="12.5"/><circle cx="1801.9" cy="1286.9" r="12.5"/><circle cx="1803.1" cy="1219" r="12.5"/><circle cx="1804.2" cy="1481.6" r="12.5"/><circle cx="1805.4" cy="1165.5" r="12.5"/><circle cx="1806.6" cy="1366.5" r="12.5"/><circle cx="1807.8" cy="1222.7" r="12.5"/><circle cx="1809" cy="1315" r="12.5"/><circle cx="1810.2" cy="1454.7" r="12.5"/><circle cx="1811.4" cy="1284.2" r="12.5"/><circle cx="1812.6" cy="1429.4" r="12.5"/><circle cx="1813.8" cy="1261" r="12.5"/><circle cx="1814.9" cy="1257.3" r="12.5"/><circle cx="1816.1" cy="1363.6" r="12.5"/><circle cx="1817.3" cy="1429.6" r="12.5"/><circle cx="1818.5" cy="1299.1" r="12.5"/><circle cx="1819.7" cy="1371.5" r="12.5"/><circle cx="1820.9" cy="1369.5" r="12.5"/><circle cx="1822.1" cy="1399.9" r="12.5"/><circle cx="1823.3" cy="1392.8" r="12.5"/><circle cx="1824.4" cy="1423.4" r="12.5"/><circle cx="1825.6" cy="1275" r="12.5"/><circle cx="1826.8" cy="1244.4" r="12.5"/><circle cx="1828" cy="1389.9" r="12.5"/><circle cx="1829.2" cy="1416.2" r="12.5"/><circle cx="1830.4" cy="1250.4" r="12.5"/><circle cx="1831.6" cy="1179.4" r="12.5"/><circle cx="1832.8" cy="1210.5" r="12.5"/><circle cx="1834" cy="1259.5" r="12.5"/><circle cx="1835.1" cy="1221.6" r="12.5"/><circle cx="1836.3" cy="1243.8" r="12.5"/><circle cx="1837.5" cy="1294.7" r="12.5"/><circle cx="1838.7" cy="1332.2" r="12.5"/><circle cx="1839.9" cy="1390.5" r="12.5"/><circle cx="1841.1" cy="1347.8" r="12.5"/><circle cx="1842.3" cy="1477.2" r="12.5"/><circle cx="1843.5" cy="1257.3" r="12.5"/><circle cx="1844.6" cy="1507.1" r="12.5"/><circle cx="1845.8" cy="1451.2" r="12.5"/><circle cx="1847" cy="1334.8" r="12.5"/><circle cx="1848.2" cy="1321.1" r="12.5"/><circle cx="1849.4" cy="1358.1" r="12.5"/><circle cx="1850.6" cy="1346.8" r="12.5"/><circle cx="1851.8" cy="1407.4" r="12.5"/><circle cx="1853" cy="1143.5" r="12.5"/><circle cx="1854.2" cy="1365.4" r="12.5"/><circle cx="1855.3" cy="1271.7" r="12.5"/><circle cx="1856.5" cy="1270.4" r="12.5"/><circle cx="1857.7" cy="1424.3" r="12.5"/><circle cx="1858.9" cy="1314.9" r="12.5"/><circle cx="1860.1" cy="1129" r="12.5"/><circle cx="1861.3" cy="1524" r="12.5"/><circle cx="1862.5" cy="1168.9" r="12.5"/><circle cx="1863.7" cy="1432.2" r="12.5"/><circle cx="1864.9" cy="1294.2" r="12.5"/><circle cx="1866" cy="1280.9" r="12.5"/><circle cx="1867.2" cy="1398.2" r="12.5"/><circle cx="1868.4" cy="1203.8" r="12.5"/><circle cx="1869.6" cy="1412.9" r="12.5"/><circle cx="1870.8" cy="1224.7" r="12.5"/><circle cx="1872" cy="1447.1" r="12.5"/><circle cx="1873.2" cy="1268.7" r="12.5"/><circle cx="1874.4" cy="1471.6" r="12.5"/><circle cx="1875.5" cy="1377.3" r="12.5"/><circle cx="1876.7" cy="1446.7" r="12.5"/><circle cx="1877.9" cy="1319.2" r="12.5"/><circle cx="1879.1" cy="1418.9" r="12.5"/><circle cx="1880.3" cy="1375.9" r="12.5"/><circle cx="1881.5" cy="1342.8" r="12.5"/><circle cx="1882.7" cy="1447.1" r="12.5"/><circle cx="1883.9" cy="1420.3" r="12.5"/><circle cx="1885.1" cy="1360.1" r="12.5"/><circle cx="1886.2" cy="1448.8" r="12.5"/><circle cx="1887.4" cy="1333.2" r="12.5"/><circle cx="1888.6" cy="1479.7" r="12.5"/><circle cx="1889.8" cy="1210" r="12.5"/><circle cx="1891" cy="1266.4" r="12.5"/><circle cx="1892.2" cy="1458.1" r="12.5"/><circle cx="1893.4" cy="1404.7" r="12.5"/><circle cx="1894.6" cy="1362" r="12.5"/><circle cx="1895.8" cy="1285.4" r="12.5"/><circle cx="1896.9" cy="1266.4" r="12.5"/><circle cx="1898.1" cy="1240.5" r="12.5"/><circle cx="1899.3" cy="1233.8" r="12.5"/><circle cx="1900.5" cy="1020" r="12.5"/><circle cx="1901.7" cy="1398.4" r="12.5"/><circle cx="1902.9" cy="1291.4" r="12.5"/><circle cx="1904.1" cy="1311.6" r="12.5"/><circle cx="1905.3" cy="1255" r="12.5"/><circle cx="1906.4" cy="1303.1" r="12.5"/><circle cx="1907.6" cy="1442.6" r="12.5"/><circle cx="1908.8" cy="1338" r="12.5"/><circle cx="1910" cy="1163.1" r="12.5"/><circle cx="1911.2" cy="1178.5" r="12.5"/><circle cx="1912.4" cy="1311.3" r="12.5"/><circle cx="1913.6" cy="1233.8" r="12.5"/><circle cx="1914.8" cy="1524" r="12.5"/><circle cx="1916" cy="1329.8" r="12.5"/><circle cx="1917.1" cy="1353.8" r="12.5"/><circle cx="1918.3" cy="1331.9" r="12.5"/><circle cx="1919.5" cy="1360.5" r="12.5"/><circle cx="1920.7" cy="1283.1" r="12.5"/><circle cx="1921.9" cy="1387.9" r="12.5"/><circle cx="1923.1" cy="1481" r="12.5"/><circle cx="1924.3" cy="1292.5" r="12.5"/><circle cx="1925.5" cy="1322.2" r="12.5"/><circle cx="1926.7" cy="1107.3" r="12.5"/><circle cx="1927.8" cy="1415.2" r="12.5"/><circle cx="1929" cy="1536.1" r="12.5"/><circle cx="1930.2" cy="1408.4" r="12.5"/><circle cx="1931.4" cy="1336.9" r="12.5"/><circle cx="1932.6" cy="1376.9" r="12.5"/><circle cx="1933.8" cy="1471.4" r="12.5"/><circle cx="1935" cy="1291.3" r="12.5"/><circle cx="1936.2" cy="1209.1" r="12.5"/><circle cx="1937.3" cy="1391.1" r="12.5"/><circle cx="1938.5" cy="1463.6" r="12.5"/><circle cx="1939.7" cy="1298.7" r="12.5"/><circle cx="1940.9" cy="1273" r="12.5"/><circle cx="1942.1" cy="1447" r="12.5"/><circle cx="1943.3" cy="1475.2" r="12.5"/><circle cx="1944.5" cy="1469.4" r="12.5"/><circle cx="1945.7" cy="1407.8" r="12.5"/><circle cx="1946.9" cy="1449" r="12.5"/><circle cx="1948" cy="1394.6" r="12.5"/><circle cx="1949.2" cy="1390.1" r="12.5"/><circle cx="1950.4" cy="1470.7" r="12.5"/><circle cx="1951.6" cy="1316.8" r="12.5"/><circle cx="1952.8" cy="1239.7" r="12.5"/><circle cx="1954" cy="1478.8" r="12.5"/><circle cx="1955.2" cy="1356" r="12.5"/><circle cx="1956.4" cy="1366.8" r="12.5"/><circle cx="1957.6" cy="1398" r="12.5"/><circle cx="1958.7" cy="1330.4" r="12.5"/><circle cx="1959.9" cy="1426.1" r="12.5"/><circle cx="1961.1" cy="1284.9" r="12.5"/><circle cx="1962.3" cy="1376.1" r="12.5"/><circle cx="1963.5" cy="1433.9" r="12.5"/><circle cx="1964.7" cy="1317.3" r="12.5"/><circle cx="1965.9" cy="1348.9" r="12.5"/><circle cx="1967.1" cy="1253.2" r="12.5"/><circle cx="1968.2" cy="1350.4" r="12.5"/><circle cx="1969.4" cy="1398.6" r="12.5"/><circle cx="1970.6" cy="1229.1" r="12.5"/><circle cx="1971.8" cy="1348.3" r="12.5"/><circle cx="1973" cy="1332.7" r="12.5"/><circle cx="1974.2" cy="1252.6" r="12.5"/><circle cx="1975.4" cy="1405.1" r="12.5"/><circle cx="1976.6" cy="1363" r="12.5"/><circle cx="1977.8" cy="1415.5" r="12.5"/><circle cx="1978.9" cy="1212.6" r="12.5"/><circle cx="1980.1" cy="1417.8" r="12.5"/><circle cx="1981.3" cy="1433.2" r="12.5"/><circle cx="1982.5" cy="1430.2" r="12.5"/><circle cx="1983.7" cy="1208.3" r="12.5"/><circle cx="1984.9" cy="1253.1" r="12.5"/><circle cx="1986.1" cy="1384.4" r="12.5"/><circle cx="1987.3" cy="1383" r="12.5"/><circle cx="1988.5" cy="1189.8" r="12.5"/><circle cx="1989.6" cy="1376.1" r="12.5"/><circle cx="1990.8" cy="1326.1" r="12.5"/><circle cx="1992" cy="1396.4" r="12.5"/><circle cx="1993.2" cy="1192.3" r="12.5"/><circle cx="1994.4" cy="1485.4" r="12.5"/><circle cx="1995.6" cy="1415.3" r="12.5"/><circle cx="1996.8" cy="1460.6" r="12.5"/><circle cx="1998" cy="1327.5" r="12.5"/><circle cx="1999.1" cy="1313.1" r="12.5"/><circle cx="2000.3" cy="1358.4" r="12.5"/><circle cx="2001.5" cy="1384.9" r="12.5"/><circle cx="2002.7" cy="1463.6" r="12.5"/><circle cx="2003.9" cy="1386.7" r="12.5"/><circle cx="2005.1" cy="1194.7" r="12.5"/><circle cx="2006.3" cy="1439.9" r="12.5"/><circle cx="2007.5" cy="1150.7" r="12.5"/><circle cx="2008.7" cy="1210.9" r="12.5"/><circle cx="2009.8" cy="1162.4" r="12.5"/><circle cx="2011" cy="1203.2" r="12.5"/><circle cx="2012.2" cy="1256.6" r="12.5"/><circle cx="2013.4" cy="1187.9" r="12.5"/><circle cx="2014.6" cy="1202" r="12.5"/><circle cx="2015.8" cy="1205.1" r="12.5"/><circle cx="2017" cy="1399.4" r="12.5"/><circle cx="2018.2" cy="1254.4" r="12.5"/><circle cx="2019.4" cy="1377.8" r="12.5"/><circle cx="2020.5" cy="1465.4" r="12.5"/><circle cx="2021.7" cy="1238.3" r="12.5"/><circle cx="2022.9" cy="1177" r="12.5"/><circle cx="2024.1" cy="1387" r="12.5"/><circle cx="2025.3" cy="1306" r="12.5"/><circle cx="2026.5" cy="1442.7" r="12.5"/><circle cx="2027.7" cy="1268.6" r="12.5"/><circle cx="2028.9" cy="1302.4" r="12.5"/><circle cx="2030" cy="1387" r="12.5"/><circle cx="2031.2" cy="1443.1" r="12.5"/><circle cx="2032.4" cy="1420.8" r="12.5"/><circle cx="2033.6" cy="1344" r="12.5"/><circle cx="2034.8" cy="1408.7" r="12.5"/><circle cx="2036" cy="1157.7" r="12.5"/><circle cx="2037.2" cy="1425.2" r="12.5"/><circle cx="2038.4" cy="1292.7" r="12.5"/><circle cx="2039.6" cy="1174" r="12.5"/><circle cx="2040.7" cy="1298.8" r="12.5"/><circle cx="2041.9" cy="1248.4" r="12.5"/><circle cx="2043.1" cy="1497.7" r="12.5"/><circle cx="2044.3" cy="1262.6" r="12.5"/><circle cx="2045.5" cy="1432.9" r="12.5"/><circle cx="2046.7" cy="1336" r="12.5"/><circle cx="2047.9" cy="1428.7" r="12.5"/><circle cx="2049.1" cy="1470.2" r="12.5"/><circle cx="2050.3" cy="1348.1" r="12.5"/><circle cx="2051.4" cy="1373.4" r="12.5"/><circle cx="2052.6" cy="1308.1" r="12.5"/><circle cx="2053.8" cy="1368.6" r="12.5"/><circle cx="2055" cy="1153.2" r="12.5"/><circle cx="2056.2" cy="1269.1" r="12.5"/><circle cx="2057.4" cy="1320.7" r="12.5"/><circle cx="2058.6" cy="1295.2" r="12.5"/><circle cx="2059.8" cy="1242.7" r="12.5"/><circle cx="2060.9" cy="1204.8" r="12.5"/><circle cx="2062.1" cy="1069.5" r="12.5"/><circle cx="2063.3" cy="1361.9" r="12.5"/><circle cx="2064.5" cy="1476.6" r="12.5"/><circle cx="2065.7" cy="1460.4" r="12.5"/><circle cx="2066.9" cy="1081" r="12.5"/><circle cx="2068.1" cy="1255.2" r="12.5"/><circle cx="2069.3" cy="1217.3" r="12.5"/><circle cx="2070.5" cy="1270.1" r="12.5"/><circle cx="2071.6" cy="1223" r="12.5"/><circle cx="2072.8" cy="1350.2" r="12.5"/><circle cx="2074" cy="1361.1" r="12.5"/><circle cx="2075.2" cy="1225.1" r="12.5"/><circle cx="2076.4" cy="1257.4" r="12.5"/><circle cx="2077.6" cy="1274.5" r="12.5"/><circle cx="2078.8" cy="1268.1" r="12.5"/><circle cx="2080" cy="1312" r="12.5"/><circle cx="2081.2" cy="1445.4" r="12.5"/><circle cx="2082.3" cy="1230.7" r="12.5"/><circle cx="2083.5" cy="1290.5" r="12.5"/><circle cx="2084.7" cy="1367.1" r="12.5"/><circle cx="2085.9" cy="1346.1" r="12.5"/><circle cx="2087.1" cy="1246.8" r="12.5"/><circle cx="2088.3" cy="1118.4" r="12.5"/><circle cx="2089.5" cy="1361.6" r="12.5"/><circle cx="2090.7" cy="1405" r="12.5"/><circle cx="2091.8" cy="1287.2" r="12.5"/><circle cx="2093" cy="1257.8" r="12.5"/><circle cx="2094.2" cy="1256.1" r="12.5"/><circle cx="2095.4" cy="1266.8" r="12.5"/><circle cx="2096.6" cy="1307.5" r="12.5"/><circle cx="2097.8" cy="1352.8" r="12.5"/><circle cx="2099" cy="1475.6" r="12.5"/><circle cx="2100.2" cy="1360.2" r="12.5"/><circle cx="2101.4" cy="1403.5" r="12.5"/><circle cx="2102.5" cy="1235.6" r="12.5"/><circle cx="2103.7" cy="1393.6" r="12.5"/><circle cx="2104.9" cy="1321.7" r="12.5"/><circle cx="2106.1" cy="1286.7" r="12.5"/><circle cx="2107.3" cy="1160.4" r="12.5"/><circle cx="2108.5" cy="1432.7" r="12.5"/><circle cx="2109.7" cy="1433.3" r="12.5"/><circle cx="2110.9" cy="1244.2" r="12.5"/><circle cx="2112.1" cy="1246.4" r="12.5"/><circle cx="2113.2" cy="1461.2" r="12.5"/><circle cx="2114.4" cy="1328.8" r="12.5"/><circle cx="2115.6" cy="1242.6" r="12.5"/><circle cx="2116.8" cy="1412.6" r="12.5"/><circle cx="2118" cy="1345.8" r="12.5"/><circle cx="2119.2" cy="1494.1" r="12.5"/><circle cx="2120.4" cy="1352.5" r="12.5"/><circle cx="2121.6" cy="1394.5" r="12.5"/><circle cx="2122.7" cy="1413.8" r="12.5"/><circle cx="2123.9" cy="1505" r="12.5"/><circle cx="2125.1" cy="1446.6" r="12.5"/><circle cx="2126.3" cy="1378.8" r="12.5"/><circle cx="2127.5" cy="1324" r="12.5"/><circle cx="2128.7" cy="1211.3" r="12.5"/><circle cx="2129.9" cy="1189.6" r="12.5"/><circle cx="2131.1" cy="1227.8" r="12.5"/><circle cx="2132.3" cy="1306" r="12.5"/><circle cx="2133.4" cy="1411" r="12.5"/><circle cx="2134.6" cy="1343.7" r="12.5"/><circle cx="2135.8" cy="1256.7" r="12.5"/><circle cx="2137" cy="1358.9" r="12.5"/><circle cx="2138.2" cy="1331.7" r="12.5"/><circle cx="2139.4" cy="1265.6" r="12.5"/><circle cx="2140.6" cy="1444.9" r="12.5"/><circle cx="2141.8" cy="1435.3" r="12.5"/><circle cx="2143" cy="1260.6" r="12.5"/><circle cx="2144.1" cy="1319.7" r="12.5"/><circle cx="2145.3" cy="1289.3" r="12.5"/><circle cx="2146.5" cy="1334.8" r="12.5"/><circle cx="2147.7" cy="1434.7" r="12.5"/><circle cx="2148.9" cy="1249.7" r="12.5"/><circle cx="2150.1" cy="1376" r="12.5"/><circle cx="2151.3" cy="1300.3" r="12.5"/><circle cx="2152.5" cy="1294.6" r="12.5"/><circle cx="2153.6" cy="1299.6" r="12.5"/><circle cx="2154.8" cy="1427.4" r="12.5"/><circle cx="2156" cy="1296.7" r="12.5"/><circle cx="2157.2" cy="1439.3" r="12.5"/><circle cx="2158.4" cy="1304.2" r="12.5"/><circle cx="2159.6" cy="1359.8" r="12.5"/><circle cx="2160.8" cy="1216.2" r="12.5"/><circle cx="2162" cy="1360.2" r="12.5"/><circle cx="2163.2" cy="1153.2" r="12.5"/><circle cx="2164.3" cy="1306.4" r="12.5"/><circle cx="2165.5" cy="1301.1" r="12.5"/><circle cx="2166.7" cy="1454.7" r="12.5"/><circle cx="2167.9" cy="1180.9" r="12.5"/><circle cx="2169.1" cy="1343.6" r="12.5"/><circle cx="2170.3" cy="1340.3" r="12.5"/><circle cx="2171.5" cy="1414.1" r="12.5"/><circle cx="2172.7" cy="1375.9" r="12.5"/><circle cx="2173.9" cy="1518.6" r="12.5"/><circle cx="2175" cy="1363.5" r="12.5"/><circle cx="2176.2" cy="1339" r="12.5"/><circle cx="2177.4" cy="1312.2" r="12.5"/><circle cx="2178.6" cy="1265.5" r="12.5"/><circle cx="2179.8" cy="1246.6" r="12.5"/><circle cx="2181" cy="1140.2" r="12.5"/><circle cx="2182.2" cy="1322.2" r="12.5"/><circle cx="2183.4" cy="1276.5" r="12.5"/><circle cx="2184.5" cy="1296" r="12.5"/><circle cx="2185.7" cy="1085.8" r="12.5"/><circle cx="2186.9" cy="1504.7" r="12.5"/><circle cx="2188.1" cy="1184.9" r="12.5"/><circle cx="2189.3" cy="1330.3" r="12.5"/><circle cx="2190.5" cy="1157.7" r="12.5"/><circle cx="2191.7" cy="1367.4" r="12.5"/><circle cx="2192.9" cy="1429.9" r="12.5"/><circle cx="2194.1" cy="1345.4" r="12.5"/><circle cx="2195.2" cy="1300.6" r="12.5"/><circle cx="2196.4" cy="1407.8" r="12.5"/><circle cx="2197.6" cy="1405.1" r="12.5"/><circle cx="2198.8" cy="1429.5" r="12.5"/><circle cx="2200" cy="1454" r="12.5"/><circle cx="2201.2" cy="1430.2" r="12.5"/><circle cx="2202.4" cy="1319.2" r="12.5"/><circle cx="2203.6" cy="1459.3" r="12.5"/><circle cx="2204.8" cy="1213.1" r="12.5"/><circle cx="2205.9" cy="1258.3" r="12.5"/><circle cx="2207.1" cy="1314.9" r="12.5"/><circle cx="2208.3" cy="1373.4" r="12.5"/><circle cx="2209.5" cy="1264.6" r="12.5"/><circle cx="2210.7" cy="1362.2" r="12.5"/><circle cx="2211.9" cy="1205.5" r="12.5"/><circle cx="2213.1" cy="1355.8" r="12.5"/><circle cx="2214.3" cy="1515.3" r="12.5"/><circle cx="2215.4" cy="1313.9" r="12.5"/><circle cx="2216.6" cy="1422.9" r="12.5"/><circle cx="2217.8" cy="1280.5" r="12.5"/><circle cx="2219" cy="1322.6" r="12.5"/><circle cx="2220.2" cy="1326.9" r="12.5"/><circle cx="2221.4" cy="1247.5" r="12.5"/><circle cx="2222.6" cy="1446.4" r="12.5"/><circle cx="2223.8" cy="1514.1" r="12.5"/><circle cx="2225" cy="1493.2" r="12.5"/><circle cx="2226.1" cy="1488.9" r="12.5"/><circle cx="2227.3" cy="1490.2" r="12.5"/><circle cx="2228.5" cy="1105.4" r="12.5"/><circle cx="2229.7" cy="1424.5" r="12.5"/><circle cx="2230.9" cy="1384.8" r="12.5"/><circle cx="2232.1" cy="1372.3" r="12.5"/><circle cx="2233.3" cy="1294.2" r="12.5"/><circle cx="2234.5" cy="1242.1" r="12.5"/><circle cx="2235.6" cy="1373.5" r="12.5"/><circle cx="2236.8" cy="1227.2" r="12.5"/><circle cx="2238" cy="1159.5" r="12.5"/><circle cx="2239.2" cy="1350.6" r="12.5"/><circle cx="2240.4" cy="1382.5" r="12.5"/><circle cx="2241.6" cy="1251" r="12.5"/><circle cx="2242.8" cy="1239.3" r="12.5"/><circle cx="2244" cy="1255.9" r="12.5"/><circle cx="2245.2" cy="1389.5" r="12.5"/><circle cx="2246.3" cy="1218.8" r="12.5"/><circle cx="2247.5" cy="1289.4" r="12.5"/><circle cx="2248.7" cy="1386.2" r="12.5"/><circle cx="2249.9" cy="1322.7" r="12.5"/><circle cx="2251.1" cy="1315" r="12.5"/><circle cx="2252.3" cy="1339.9" r="12.5"/><circle cx="2253.5" cy="1391.1" r="12.5"/><circle cx="2254.7" cy="1229.3" r="12.5"/><circle cx="2255.9" cy="1394.1" r="12.5"/><circle cx="2257" cy="1328.3" r="12.5"/><circle cx="2258.2" cy="1368.8" r="12.5"/><circle cx="2259.4" cy="1350.2" r="12.5"/><circle cx="2260.6" cy="1480.1" r="12.5"/><circle cx="2261.8" cy="1234.6" r="12.5"/><circle cx="2263" cy="1259.4" r="12.5"/><circle cx="2264.2" cy="1365.4" r="12.5"/><circle cx="2265.4" cy="1267.7" r="12.5"/><circle cx="2266.5" cy="1334" r="12.5"/><circle cx="2267.7" cy="1273.4" r="12.5"/><circle cx="2268.9" cy="1327.8" r="12.5"/><circle cx="2270.1" cy="1435.7" r="12.5"/><circle cx="2271.3" cy="1348.4" r="12.5"/><circle cx="2272.5" cy="1335.4" r="12.5"/><circle cx="2273.7" cy="1186.4" r="12.5"/><circle cx="2274.9" cy="1340.3" r="12.5"/><circle cx="2276.1" cy="1450.7" r="12.5"/><circle cx="2277.2" cy="1313.4" r="12.5"/><circle cx="2278.4" cy="1262.8" r="12.5"/><circle cx="2279.6" cy="1283.5" r="12.5"/><circle cx="2280.8" cy="1376.6" r="12.5"/><circle cx="2282" cy="1147.1" r="12.5"/><circle cx="2283.2" cy="1205.9" r="12.5"/><circle cx="2284.4" cy="1332.8" r="12.5"/><circle cx="2285.6" cy="1290.6" r="12.5"/><circle cx="2286.8" cy="1333.3" r="12.5"/><circle cx="2287.9" cy="1384" r="12.5"/><circle cx="2289.1" cy="1307" r="12.5"/><circle cx="2290.3" cy="1397.2" r="12.5"/><circle cx="2291.5" cy="1410.8" r="12.5"/><circle cx="2292.7" cy="1466" r="12.5"/><circle cx="2293.9" cy="1307.8" r="12.5"/><circle cx="2295.1" cy="1282.1" r="12.5"/><circle cx="2296.3" cy="1326.4" r="12.5"/><circle cx="2297.4" cy="1357.6" r="12.5"/><circle cx="2298.6" cy="1346" r="12.5"/><circle cx="2299.8" cy="1277" r="12.5"/><circle cx="2301" cy="1382.5" r="12.5"/><circle cx="2302.2" cy="1354" r="12.5"/><circle cx="2303.4" cy="1323.4" r="12.5"/><circle cx="2304.6" cy="1368.7" r="12.5"/><circle cx="2305.8" cy="1338.2" r="12.5"/><circle cx="2307" cy="1310.6" r="12.5"/><circle cx="2308.1" cy="1381.3" r="12.5"/><circle cx="2309.3" cy="1222" r="12.5"/><circle cx="2310.5" cy="1172.5" r="12.5"/><circle cx="2311.7" cy="1405.3" r="12.5"/><circle cx="2312.9" cy="1344.8" r="12.5"/><circle cx="2314.1" cy="1319.5" r="12.5"/><circle cx="2315.3" cy="1342.1" r="12.5"/><circle cx="2316.5" cy="1436.6" r="12.5"/><circle cx="2317.7" cy="1350.7" r="12.5"/><circle cx="2318.8" cy="1436.4" r="12.5"/><circle cx="2320" cy="1506.2" r="12.5"/><circle cx="2321.2" cy="1387.4" r="12.5"/><circle cx="2322.4" cy="1337.8" r="12.5"/><circle cx="2323.6" cy="1326.9" r="12.5"/><circle cx="2324.8" cy="1382" r="12.5"/><circle cx="2326" cy="1412.5" r="12.5"/><circle cx="2327.2" cy="1215.2" r="12.5"/><circle cx="2328.3" cy="1364.9" r="12.5"/><circle cx="2329.5" cy="1223" r="12.5"/><circle cx="2330.7" cy="1405" r="12.5"/><circle cx="2331.9" cy="1313.1" r="12.5"/><circle cx="2333.1" cy="1223.3" r="12.5"/><circle cx="2334.3" cy="1404.1" r="12.5"/><circle cx="2335.5" cy="1425.1" r="12.5"/><circle cx="2336.7" cy="1261.4" r="12.5"/><circle cx="2337.9" cy="1222.6" r="12.5"/><circle cx="2339" cy="1269.7" r="12.5"/><circle cx="2340.2" cy="1294.5" r="12.5"/><circle cx="2341.4" cy="1367.6" r="12.5"/><circle cx="2342.6" cy="1167.1" r="12.5"/><circle cx="2343.8" cy="1303.5" r="12.5"/><circle cx="2345" cy="1272.3" r="12.5"/><circle cx="2346.2" cy="1368.3" r="12.5"/><circle cx="2347.4" cy="1465.5" r="12.5"/><circle cx="2348.6" cy="1264.3" r="12.5"/><circle cx="2349.7" cy="1442.6" r="12.5"/><circle cx="2350.9" cy="1455.2" r="12.5"/><circle cx="2352.1" cy="1391.4" r="12.5"/><circle cx="2353.3" cy="1278.1" r="12.5"/><circle cx="2354.5" cy="1458.5" r="12.5"/><circle cx="2355.7" cy="1361.9" r="12.5"/><circle cx="2356.9" cy="1225.1" r="12.5"/><circle cx="2358.1" cy="1313.5" r="12.5"/><circle cx="2359.2" cy="1358.3" r="12.5"/><circle cx="2360.4" cy="1396.7" r="12.5"/><circle cx="2361.6" cy="1446.2" r="12.5"/><circle cx="2362.8" cy="1172.5" r="12.5"/><circle cx="2364" cy="1518.6" r="12.5"/><circle cx="2365.2" cy="1221.4" r="12.5"/><circle cx="2366.4" cy="1423.3" r="12.5"/><circle cx="2367.6" cy="1147.1" r="12.5"/><circle cx="2368.8" cy="1316.5" r="12.5"/><circle cx="2369.9" cy="1265.5" r="12.5"/><circle cx="2371.1" cy="1388.2" r="12.5"/><circle cx="2372.3" cy="1363" r="12.5"/><circle cx="2373.5" cy="1490.8" r="12.5"/><circle cx="2374.7" cy="1284.5" r="12.5"/><circle cx="2375.9" cy="1338.2" r="12.5"/><circle cx="2377.1" cy="1254.8" r="12.5"/><circle cx="2378.3" cy="1252.7" r="12.5"/><circle cx="2379.5" cy="1223.2" r="12.5"/><circle cx="2380.6" cy="1427.7" r="12.5"/><circle cx="2381.8" cy="1298.3" r="12.5"/><circle cx="2383" cy="1317.3" r="12.5"/><circle cx="2384.2" cy="1345.5" r="12.5"/><circle cx="2385.4" cy="1465.8" r="12.5"/><circle cx="2386.6" cy="1356.4" r="12.5"/><circle cx="2387.8" cy="1510.1" r="12.5"/><circle cx="2389" cy="1260" r="12.5"/><circle cx="2390.1" cy="1286.4" r="12.5"/><circle cx="2391.3" cy="1418.5" r="12.5"/><circle cx="2392.5" cy="1365" r="12.5"/><circle cx="2393.7" cy="1362" r="12.5"/><circle cx="2394.9" cy="1286.5" r="12.5"/><circle cx="2396.1" cy="1154.1" r="12.5"/><circle cx="2397.3" cy="1390.1" r="12.5"/><circle cx="2398.5" cy="1379.6" r="12.5"/><circle cx="2399.7" cy="1436.1" r="12.5"/><circle cx="2400.8" cy="1263" r="12.5"/><circle cx="2402" cy="1201" r="12.5"/><circle cx="2403.2" cy="1295.3" r="12.5"/><circle cx="2404.4" cy="1286" r="12.5"/><circle cx="2405.6" cy="1275.5" r="12.5"/><circle cx="2406.8" cy="1424.4" r="12.5"/><circle cx="2408" cy="1293.1" r="12.5"/><circle cx="2409.2" cy="1235.9" r="12.5"/><circle cx="2410.4" cy="1269.9" r="12.5"/><circle cx="2411.5" cy="1363.7" r="12.5"/><circle cx="2412.7" cy="1413.7" r="12.5"/><circle cx="2413.9" cy="1410.5" r="12.5"/><circle cx="2415.1" cy="1272.1" r="12.5"/><circle cx="2416.3" cy="1404.5" r="12.5"/><circle cx="2417.5" cy="1338.8" r="12.5"/><circle cx="2418.7" cy="1324.5" r="12.5"/><circle cx="2419.9" cy="1363" r="12.5"/><circle cx="2421" cy="1410" r="12.5"/><circle cx="2422.2" cy="1298.3" r="12.5"/><circle cx="2423.4" cy="1386.8" r="12.5"/><circle cx="2424.6" cy="1357.7" r="12.5"/><circle cx="2425.8" cy="1238.4" r="12.5"/><circle cx="2427" cy="1270.3" r="12.5"/><circle cx="2428.2" cy="1476.2" r="12.5"/><circle cx="2429.4" cy="1418.4" r="12.5"/><circle cx="2430.6" cy="1281.1" r="12.5"/><circle cx="2431.7" cy="1412.2" r="12.5"/><circle cx="2432.9" cy="1285.1" r="12.5"/><circle cx="2434.1" cy="1269.6" r="12.5"/><circle cx="2435.3" cy="1274.8" r="12.5"/><circle cx="2436.5" cy="1229.7" r="12.5"/><circle cx="2437.7" cy="1456.3" r="12.5"/><circle cx="2438.9" cy="1431.9" r="12.5"/><circle cx="2440.1" cy="1399.9" r="12.5"/><circle cx="2441.3" cy="1391.8" r="12.5"/><circle cx="2442.4" cy="1283.8" r="12.5"/><circle cx="2443.6" cy="1309.5" r="12.5"/><circle cx="2444.8" cy="1487.2" r="12.5"/><circle cx="2446" cy="1407.1" r="12.5"/><circle cx="2447.2" cy="1371" r="12.5"/><circle cx="2448.4" cy="1427" r="12.5"/><circle cx="2449.6" cy="1358" r="12.5"/><circle cx="2450.8" cy="1428.9" r="12.5"/><circle cx="2451.9" cy="1200.8" r="12.5"/><circle cx="2453.1" cy="1259.4" r="12.5"/><circle cx="2454.3" cy="1349.7" r="12.5"/><circle cx="2455.5" cy="1338.2" r="12.5"/><circle cx="2456.7" cy="1279.3" r="12.5"/><circle cx="2457.9" cy="1341" r="12.5"/><circle cx="2459.1" cy="1537" r="12.5"/><circle cx="2460.3" cy="1261.5" r="12.5"/><circle cx="2461.5" cy="1331.4" r="12.5"/><circle cx="2462.6" cy="1195.5" r="12.5"/><circle cx="2463.8" cy="1285.2" r="12.5"/><circle cx="2465" cy="1414.4" r="12.5"/><circle cx="2466.2" cy="1403.2" r="12.5"/><circle cx="2467.4" cy="1356.9" r="12.5"/><circle cx="2468.6" cy="1200.1" r="12.5"/><circle cx="2469.8" cy="1323.2" r="12.5"/><circle cx="2471" cy="1113.9" r="12.5"/><circle cx="2472.2" cy="1186.4" r="12.5"/><circle cx="2473.3" cy="1251.5" r="12.5"/><circle cx="2474.5" cy="1432.8" r="12.5"/><circle cx="2475.7" cy="1287" r="12.5"/><circle cx="2476.9" cy="1417.7" r="12.5"/><circle cx="2478.1" cy="1372.4" r="12.5"/><circle cx="2479.3" cy="1341.1" r="12.5"/><circle cx="2480.5" cy="1454.2" r="12.5"/><circle cx="2481.7" cy="1181.9" r="12.5"/><circle cx="2482.8" cy="1189.1" r="12.5"/><circle cx="2484" cy="1386.8" r="12.5"/><circle cx="2485.2" cy="1335.6" r="12.5"/><circle cx="2486.4" cy="1197.4" r="12.5"/><circle cx="2487.6" cy="1236.5" r="12.5"/><circle cx="2488.8" cy="1104.5" r="12.5"/><circle cx="2490" cy="1168.9" r="12.5"/><circle cx="2491.2" cy="1475.1" r="12.5"/><circle cx="2492.4" cy="1276.3" r="12.5"/><circle cx="2493.5" cy="1233.4" r="12.5"/><circle cx="2494.7" cy="1397.3" r="12.5"/><circle cx="2495.9" cy="1324.7" r="12.5"/><circle cx="2497.1" cy="1400.5" r="12.5"/><circle cx="2498.3" cy="1413.3" r="12.5"/><circle cx="2499.5" cy="1238" r="12.5"/><circle cx="2500.7" cy="1527" r="12.5"/><circle cx="2501.9" cy="1292.1" r="12.5"/><circle cx="2503.1" cy="1425.7" r="12.5"/><circle cx="2504.2" cy="1115.1" r="12.5"/><circle cx="2505.4" cy="1443.8" r="12.5"/><circle cx="2506.6" cy="1285" r="12.5"/><circle cx="2507.8" cy="1311.8" r="12.5"/><circle cx="2509" cy="1348.6" r="12.5"/><circle cx="2510.2" cy="1298.3" r="12.5"/><circle cx="2511.4" cy="1413.8" r="12.5"/><circle cx="2512.6" cy="1380.5" r="12.5"/><circle cx="2513.7" cy="1393.7" r="12.5"/><circle cx="2514.9" cy="1256.3" r="12.5"/><circle cx="2516.1" cy="1362.5" r="12.5"/><circle cx="2517.3" cy="1451.8" r="12.5"/><circle cx="2518.5" cy="1445.8" r="12.5"/><circle cx="2519.7" cy="1295.3" r="12.5"/><circle cx="2520.9" cy="1342.6" r="12.5"/><circle cx="2522.1" cy="1409.9" r="12.5"/><circle cx="2523.3" cy="1386.8" r="12.5"/><circle cx="2524.4" cy="1294.4" r="12.5"/><circle cx="2525.6" cy="1367.2" r="12.5"/><circle cx="2526.8" cy="1358.5" r="12.5"/><circle cx="2528" cy="1385.1" r="12.5"/><circle cx="2529.2" cy="1486.9" r="12.5"/><circle cx="2530.4" cy="1295.2" r="12.5"/><circle cx="2531.6" cy="1360.1" r="12.5"/><circle cx="2532.8" cy="1287.3" r="12.5"/><circle cx="2534" cy="1523.1" r="12.5"/><circle cx="2535.1" cy="1189" r="12.5"/><circle cx="2536.3" cy="1391.6" r="12.5"/><circle cx="2537.5" cy="1319.4" r="12.5"/><circle cx="2538.7" cy="1406.5" r="12.5"/><circle cx="2539.9" cy="1440.9" r="12.5"/><circle cx="2541.1" cy="1447.3" r="12.5"/><circle cx="2542.3" cy="1404.8" r="12.5"/><circle cx="2543.5" cy="1360.5" r="12.5"/><circle cx="2544.6" cy="1226.7" r="12.5"/><circle cx="2545.8" cy="1309.3" r="12.5"/><circle cx="2547" cy="1371.8" r="12.5"/><circle cx="2548.2" cy="1250.3" r="12.5"/><circle cx="2549.4" cy="1384.5" r="12.5"/><circle cx="2550.6" cy="1255.5" r="12.5"/><circle cx="2551.8" cy="1284.1" r="12.5"/><circle cx="2553" cy="1328.7" r="12.5"/><circle cx="2554.2" cy="1263.9" r="12.5"/><circle cx="2555.3" cy="1223.6" r="12.5"/><circle cx="2556.5" cy="1258.5" r="12.5"/><circle cx="2557.7" cy="1454.4" r="12.5"/><circle cx="2558.9" cy="1450.9" r="12.5"/><circle cx="2560.1" cy="1324.7" r="12.5"/><circle cx="2561.3" cy="1345.5" r="12.5"/><circle cx="2562.5" cy="1442.8" r="12.5"/><circle cx="2563.7" cy="1280.7" r="12.5"/><circle cx="2564.9" cy="1291.5" r="12.5"/><circle cx="2566" cy="1236.9" r="12.5"/><circle cx="2567.2" cy="1295.5" r="12.5"/><circle cx="2568.4" cy="1201" r="12.5"/><circle cx="2569.6" cy="1155.3" r="12.5"/><circle cx="2570.8" cy="1351" r="12.5"/><circle cx="2572" cy="1322.5" r="12.5"/><circle cx="2573.2" cy="1245.6" r="12.5"/><circle cx="2574.4" cy="1266.4" r="12.5"/><circle cx="2575.5" cy="1414.8" r="12.5"/><circle cx="2576.7" cy="1189.7" r="12.5"/><circle cx="2577.9" cy="1361.1" r="12.5"/><circle cx="2579.1" cy="1259" r="12.5"/><circle cx="2580.3" cy="1293.5" r="12.5"/><circle cx="2581.5" cy="1362" r="12.5"/><circle cx="2582.7" cy="1329.1" r="12.5"/><circle cx="2583.9" cy="1322" r="12.5"/><circle cx="2585.1" cy="1332.1" r="12.5"/><circle cx="2586.2" cy="1289" r="12.5"/><circle cx="2587.4" cy="1281.7" r="12.5"/><circle cx="2588.6" cy="1393.1" r="12.5"/><circle cx="2589.8" cy="1193.5" r="12.5"/><circle cx="2591" cy="1314.5" r="12.5"/><circle cx="2592.2" cy="1356.8" r="12.5"/><circle cx="2593.4" cy="1218.8" r="12.5"/><circle cx="2594.6" cy="1342.2" r="12.5"/><circle cx="2595.8" cy="1430" r="12.5"/><circle cx="2596.9" cy="1438.9" r="12.5"/><circle cx="2598.1" cy="1374.4" r="12.5"/><circle cx="2599.3" cy="1371.8" r="12.5"/><circle cx="2600.5" cy="1453.3" r="12.5"/><circle cx="2601.7" cy="1168.9" r="12.5"/><circle cx="2602.9" cy="1342.6" r="12.5"/><circle cx="2604.1" cy="1382.6" r="12.5"/><circle cx="2605.3" cy="1228.2" r="12.5"/><circle cx="2606.4" cy="1286.4" r="12.5"/><circle cx="2607.6" cy="1384.5" r="12.5"/><circle cx="2608.8" cy="1245.1" r="12.5"/><circle cx="2610" cy="1330.5" r="12.5"/><circle cx="2611.2" cy="1468.7" r="12.5"/></g></g><g clip-path="url(#c2)"><polyline fill="none" stroke="#AA3377" stroke-width="13.3" stroke-linejoin="round" stroke-linecap="butt" points="234.3,1154.1 235.5,1180.9 236.7,1207.8 237.9,1233.1 239.1,1258.4 240.2,1283.6 241.4,1299.2 242.6,1314.7 243.8,1330.3 245,1345.8 246.2,1344.1 247.4,1342.4 248.6,1341.4 249.7,1336.9 250.9,1337.4 252.1,1351.9 253.3,1354.4 254.5,1350.3 255.7,1352 256.9,1364.8 258.1,1361.5 259.3,1345.2 260.4,1335.4 261.6,1333.2 262.8,1319.4 264,1303.4 265.2,1300.2 266.4,1290.9 267.6,1290.8 268.8,1296.2 270,1293.7 271.1,1280.8 272.3,1279.6 273.5,1281.9 274.7,1286.3 275.9,1288.8 277.1,1291.8 278.3,1296.2 279.5,1306.5 280.6,1312.3 281.8,1321.6 283,1329.1 284.2,1331.8 285.4,1343.4 286.6,1364 287.8,1362.3 289,1340.2 290.2,1326.9 291.3,1330.6 292.5,1322.9 293.7,1302 294.9,1296.1 296.1,1288.9 297.3,1291.8 298.5,1315.6 299.7,1319.5 300.9,1313 302,1322.5 303.2,1320.1 304.4,1338.8 305.6,1340.4 306.8,1337.1 308,1345.2 309.2,1335.5 310.4,1330.8 311.5,1331.3 312.7,1336.5 313.9,1324.9 315.1,1319.5 316.3,1333.7 317.5,1336.3 318.7,1342 319.9,1342.1 321.1,1348.5 322.2,1362.2 323.4,1360.9 324.6,1363.2 325.8,1372 327,1371 328.2,1371.1 329.4,1359.4 330.6,1349.1 331.8,1341 332.9,1328.7 334.1,1318.6 335.3,1311.5 336.5,1308.2 337.7,1296.8 338.9,1286.9 340.1,1275.4 341.3,1261.8 342.4,1264.6 343.6,1289.2 344.8,1292.3 346,1289.5 347.2,1296.5 348.4,1313.5 349.6,1328.5 350.8,1345.5 352,1351.1 353.1,1365.5 354.3,1387 355.5,1403.3 356.7,1395.7 357.9,1382.7 359.1,1380.2 360.3,1373 361.5,1364.4 362.7,1342.7 363.8,1342.7 365,1338 366.2,1341.7 367.4,1348.5 368.6,1352.3 369.8,1336.5 371,1338.4 372.2,1337.8 373.3,1348.3 374.5,1349.6 375.7,1348.6 376.9,1349.6 378.1,1351.3 379.3,1359.4 380.5,1364.7 381.7,1371.2 382.9,1368.7 384,1357 385.2,1345.9 386.4,1343.7 387.6,1344.6 388.8,1331.4 390,1311.9 391.2,1308 392.4,1304.8 393.6,1312 394.7,1313 395.9,1311.1 397.1,1321.4 398.3,1326.7 399.5,1325.8 400.7,1333.4 401.9,1351.8 403.1,1369.5 404.2,1369.6 405.4,1357.8 406.6,1350.8 407.8,1346.8 409,1348.5 410.2,1351.1 411.4,1347.3 412.6,1338.9 413.8,1327.6 414.9,1325.2 416.1,1317.6 417.3,1303 418.5,1288.8 419.7,1285.3 420.9,1271.3 422.1,1270 423.3,1283.3 424.5,1280.4 425.6,1278.6 426.8,1280.9 428,1288.5 429.2,1294.8 430.4,1306.6 431.6,1314.9 432.8,1324.3 434,1338.5 435.1,1342.2 436.3,1345.1 437.5,1336.4 438.7,1330.2 439.9,1319.1 441.1,1313.2 442.3,1304.2 443.5,1309.1 444.7,1306 445.8,1295 447,1291.8 448.2,1296.8 449.4,1298 450.6,1296.5 451.8,1313 453,1325.7 454.2,1331.7 455.4,1339.7 456.5,1343.7 457.7,1356.4 458.9,1366.8 460.1,1356.3 461.3,1339.8 462.5,1338.5 463.7,1334.7 464.9,1330.9 466,1320.6 467.2,1313.3 468.4,1302.9 469.6,1285.4 470.8,1280 472,1285.9 473.2,1288 474.4,1300.3 475.6,1315.7 476.7,1328.2 477.9,1337.6 479.1,1352.1 480.3,1356.4 481.5,1352.8 482.7,1366 483.9,1364.3 485.1,1352.8 486.3,1348.1 487.4,1338 488.6,1328.6 489.8,1329.2 491,1324.2 492.2,1317.3 493.4,1326.5 494.6,1309.6 495.8,1292.1 496.9,1297 498.1,1285.3 499.3,1282.3 500.5,1291 501.7,1298.3 502.9,1300.6 504.1,1308.7 505.3,1327.3 506.5,1331.9 507.6,1331.7 508.8,1343.4 510,1345.2 511.2,1336.9 512.4,1352.1 513.6,1352 514.8,1348.1 516,1351.6 517.2,1341.3 518.3,1324.6 519.5,1316.5 520.7,1316.1 521.9,1316 523.1,1321.1 524.3,1335.5 525.5,1342.9 526.7,1338.9 527.8,1324.9 529,1317 530.2,1311.6 531.4,1301.9 532.6,1313.3 533.8,1322.4 535,1328.4 536.2,1320.9 537.4,1318.5 538.5,1326.4 539.7,1336.9 540.9,1349.9 542.1,1355.2 543.3,1352.6 544.5,1349.8 545.7,1346.1 546.9,1346.3 548.1,1349.1 549.2,1343.1 550.4,1344.2 551.6,1335.5 552.8,1332.9 554,1332.1 555.2,1318.6 556.4,1316 557.6,1306.5 558.7,1294.8 559.9,1290.4 561.1,1301.3 562.3,1317.9 563.5,1326.4 564.7,1334 565.9,1350.2 567.1,1362.8 568.3,1351 569.4,1342.4 570.6,1340 571.8,1336 573,1327.9 574.2,1322.1 575.4,1308.8 576.6,1292.8 577.8,1295.6 579,1295.4 580.1,1285.1 581.3,1282.4 582.5,1272.9 583.7,1285.5 584.9,1288.6 586.1,1295.5 587.3,1299.1 588.5,1311.1 589.6,1322.4 590.8,1318.1 592,1331.2 593.2,1341.1 594.4,1337.5 595.6,1327.4 596.8,1315.4 598,1301.4 599.2,1298.6 600.3,1291 601.5,1281 602.7,1275.4 603.9,1270.1 605.1,1262.2 606.3,1260.8 607.5,1253.2 608.7,1256.5 609.9,1271.3 611,1292.9 612.2,1309.7 613.4,1328.5 614.6,1340.4 615.8,1343.3 617,1345.9 618.2,1341.9 619.4,1346.7 620.5,1352 621.7,1363.3 622.9,1366.7 624.1,1370.5 625.3,1366.5 626.5,1362.8 627.7,1365.8 628.9,1362 630.1,1367.2 631.2,1375 632.4,1379.7 633.6,1385.1 634.8,1391.2 636,1383 637.2,1370.9 638.4,1370.8 639.6,1364.8 640.7,1354.9 641.9,1345.9 643.1,1343.5 644.3,1347.6 645.5,1333.6 646.7,1320.8 647.9,1317.4 649.1,1316.5 650.3,1315.9 651.4,1322.8 652.6,1319.2 653.8,1336.1 655,1348.1 656.2,1348.8 657.4,1347.7 658.6,1355.4 659.8,1372.4 661,1387 662.1,1397.5 663.3,1391.4 664.5,1384.5 665.7,1373.6 666.9,1362.2 668.1,1358.4 669.3,1355.8 670.5,1346.5 671.6,1335.7 672.8,1326.9 674,1334.7 675.2,1338.7 676.4,1340.2 677.6,1339.9 678.8,1348.1 680,1353.1 681.2,1341.8 682.3,1356.1 683.5,1372.2 684.7,1350.5 685.9,1355.9 687.1,1354.2 688.3,1334.8 689.5,1326.4 690.7,1317.3 691.9,1311.9 693,1304.4 694.2,1302.6 695.4,1309.1 696.6,1301 697.8,1311.1 699,1321.6 700.2,1331.1 701.4,1337.5 702.5,1347 703.7,1340.1 704.9,1333 706.1,1321 707.3,1311.4 708.5,1308.4 709.7,1305.7 710.9,1302.9 712.1,1292.3 713.2,1295.1 714.4,1277.5 715.6,1271.4 716.8,1280.2 718,1277 719.2,1281.7 720.4,1293.3 721.6,1316.2 722.8,1311.6 723.9,1317 725.1,1327.4 726.3,1338.1 727.5,1345.8 728.7,1353.2 729.9,1371.1 731.1,1373.1 732.3,1384.7 733.4,1407.1 734.6,1404.1 735.8,1383.5 737,1372.8 738.2,1368.8 739.4,1362.8 740.6,1355.6 741.8,1348.8 743,1333.4 744.1,1325.3 745.3,1316.5 746.5,1308.8 747.7,1308.1 748.9,1307 750.1,1300.8 751.3,1297.5 752.5,1304.8 753.7,1303.3 754.8,1293.1 756,1291 757.2,1299.7 758.4,1297.4 759.6,1311.1 760.8,1309.9 762,1312.7 763.2,1323.2 764.3,1328.6 765.5,1342.3 766.7,1349.3 767.9,1356.7 769.1,1368.5 770.3,1385.4 771.5,1388.8 772.7,1382.6 773.9,1379.8 775,1371.2 776.2,1367.6 777.4,1364 778.6,1363.9 779.8,1358 781,1343.8 782.2,1329.1 783.4,1325.9 784.6,1318.4 785.7,1326.4 786.9,1325.1 788.1,1311.1 789.3,1297.2 790.5,1289.2 791.7,1299.8 792.9,1316.2 794.1,1329.2 795.2,1343 796.4,1355.4 797.6,1345.2 798.8,1343.5 800,1344.1 801.2,1330.9 802.4,1324.2 803.6,1329.4 804.8,1311.7 805.9,1302.6 807.1,1308.4 808.3,1304.6 809.5,1315.1 810.7,1304.3 811.9,1302.5 813.1,1304.9 814.3,1309.8 815.5,1312.7 816.6,1312.1 817.8,1318.8 819,1332.2 820.2,1329 821.4,1325.1 822.6,1336 823.8,1337.3 825,1346.5 826.1,1350.7 827.3,1336.2 828.5,1335.6 829.7,1332.1 830.9,1333.2 832.1,1332.3 833.3,1322.9 834.5,1320 835.7,1311.5 836.8,1301.1 838,1304.8 839.2,1315.5 840.4,1323.4 841.6,1327.3 842.8,1346.2 844,1353.9 845.2,1352.5 846.4,1364.7 847.5,1355.3 848.7,1345.8 849.9,1335.8 851.1,1328.3 852.3,1322 853.5,1318.9 854.7,1313.9 855.9,1314.5 857,1306.2 858.2,1318.3 859.4,1321.9 860.6,1315.4 861.8,1322.2 863,1328.9 864.2,1324.7 865.4,1327.8 866.6,1335.8 867.7,1321.2 868.9,1314.9 870.1,1314.4 871.3,1314.1 872.5,1313.6 873.7,1313.6 874.9,1320.2 876.1,1327.3 877.3,1334.7 878.4,1348.4 879.6,1352 880.8,1361.4 882,1384.5 883.2,1391.3 884.4,1386.2 885.6,1379.1 886.8,1375.6 887.9,1366.1 889.1,1369 890.3,1362.1 891.5,1358.9 892.7,1342 893.9,1341.4 895.1,1349.5 896.3,1352.3 897.5,1365.1 898.6,1371.3 899.8,1363.7 901,1362.7 902.2,1374.1 903.4,1385.4 904.6,1388.5 905.8,1390.9 907,1388 908.2,1383.4 909.3,1381.8 910.5,1364.6 911.7,1355.1 912.9,1355.7 914.1,1347.2 915.3,1340.8 916.5,1334 917.7,1321.6 918.8,1316.7 920,1322.8 921.2,1314.1 922.4,1303.7 923.6,1295.1 924.8,1300.2 926,1319.5 927.2,1335.9 928.4,1356.5 929.5,1380.4 930.7,1382.4 931.9,1370.8 933.1,1353.9 934.3,1349 935.5,1344.5 936.7,1355.8 937.9,1360.2 939.1,1360.7 940.2,1368.9 941.4,1371.4 942.6,1376 943.8,1374.5 945,1381.4 946.2,1377.7 947.4,1378.2 948.6,1371 949.7,1365.8 950.9,1357 952.1,1345 953.3,1341.4 954.5,1329.9 955.7,1325.4 956.9,1323.4 958.1,1329 959.3,1338.3 960.4,1352.6 961.6,1361.7 962.8,1353.8 964,1339.5 965.2,1337.4 966.4,1331.4 967.6,1317.2 968.8,1305.2 970,1304.4 971.1,1306.6 972.3,1304.7 973.5,1285.2 974.7,1290.9 975.9,1299.6 977.1,1298.3 978.3,1288.7 979.5,1301.7 980.6,1311.6 981.8,1307.1 983,1306 984.2,1302.9 985.4,1304.1 986.6,1298.9 987.8,1293.6 989,1298.9 990.2,1305 991.3,1312 992.5,1320.4 993.7,1321.2 994.9,1328.7 996.1,1335.7 997.3,1336.2 998.5,1335.7 999.7,1338.3 1000.9,1330.9 1002,1339.6 1003.2,1348.5 1004.4,1339.2 1005.6,1337.9 1006.8,1354.7 1008,1359.5 1009.2,1360.7 1010.4,1377.9 1011.5,1381.7 1012.7,1386.9 1013.9,1393.7 1015.1,1385.3 1016.3,1368.4 1017.5,1359.1 1018.7,1362.4 1019.9,1359.8 1021.1,1353.1 1022.2,1345 1023.4,1343.1 1024.6,1336.3 1025.8,1343.3 1027,1354.6 1028.2,1358.3 1029.4,1357.6 1030.6,1360 1031.7,1384.1 1032.9,1388.8 1034.1,1386 1035.3,1379.1 1036.5,1365.1 1037.7,1361 1038.9,1364.4 1040.1,1362.3 1041.3,1355.2 1042.4,1333.8 1043.6,1335.1 1044.8,1345.1 1046,1341.4 1047.2,1343 1048.4,1349.8 1049.6,1350.6 1050.8,1347.1 1052,1348.3 1053.1,1350 1054.3,1347.4 1055.5,1348.9 1056.7,1344.8 1057.9,1340.2 1059.1,1340 1060.3,1329.7 1061.5,1319.4 1062.6,1314 1063.8,1305.4 1065,1299.3 1066.2,1297 1067.4,1295.2 1068.6,1292.2 1069.8,1294.9 1071,1307.6 1072.2,1318.1 1073.3,1322.4 1074.5,1332.9 1075.7,1343.5 1076.9,1349.6 1078.1,1341.1 1079.3,1348.4 1080.5,1348.4 1081.7,1331.9 1082.9,1320.2 1084,1317.4 1085.2,1319 1086.4,1329.6 1087.6,1340.7 1088.8,1352.8 1090,1353.8 1091.2,1357.7 1092.4,1345.6 1093.5,1335.2 1094.7,1326.2 1095.9,1317.9 1097.1,1308.2 1098.3,1287.3 1099.5,1289.5 1100.7,1294.8 1101.9,1292.1 1103.1,1290.1 1104.2,1285.5 1105.4,1289.6 1106.6,1291 1107.8,1285.2 1109,1285.1 1110.2,1283.3 1111.4,1275.4 1112.6,1272.8 1113.8,1278.8 1114.9,1279.1 1116.1,1267.8 1117.3,1270.3 1118.5,1274.6 1119.7,1279 1120.9,1297 1122.1,1303 1123.3,1300.2 1124.4,1304.1 1125.6,1314.6 1126.8,1322.9 1128,1330 1129.2,1330.3 1130.4,1341.7 1131.6,1354.2 1132.8,1355.8 1134,1349.6 1135.1,1357.2 1136.3,1360.6 1137.5,1369.8 1138.7,1380.1 1139.9,1395.2 1141.1,1400.5 1142.3,1396.1 1143.5,1388.7 1144.7,1376.9 1145.8,1374.1 1147,1377.2 1148.2,1368.7 1149.4,1353 1150.6,1344.2 1151.8,1344 1153,1345.9 1154.2,1338.5 1155.3,1332.8 1156.5,1324.1 1157.7,1336.4 1158.9,1332.6 1160.1,1339 1161.3,1352.5 1162.5,1363.3 1163.7,1372.6 1164.9,1377.6 1166,1370.2 1167.2,1362.5 1168.4,1357 1169.6,1329.3 1170.8,1313.2 1172,1311.5 1173.2,1305 1174.4,1300.9 1175.6,1313 1176.7,1311.1 1177.9,1317.3 1179.1,1336.9 1180.3,1341.1 1181.5,1346.7 1182.7,1351.8 1183.9,1364.4 1185.1,1364.4 1186.2,1355.9 1187.4,1337.6 1188.6,1324.2 1189.8,1322.7 1191,1320.1 1192.2,1320.3 1193.4,1326.8 1194.6,1327.7 1195.8,1327.3 1196.9,1330.2 1198.1,1329.6 1199.3,1331 1200.5,1334.8 1201.7,1333.6 1202.9,1336 1204.1,1335.3 1205.3,1331 1206.5,1325.1 1207.6,1321.3 1208.8,1312 1210,1311.9 1211.2,1310.1 1212.4,1306.7 1213.6,1303.7 1214.8,1292.3 1216,1288.2 1217.1,1299.7 1218.3,1298 1219.5,1291.3 1220.7,1291.7 1221.9,1301.3 1223.1,1326.4 1224.3,1329.6 1225.5,1336.2 1226.7,1347.6 1227.8,1350.6 1229,1353.3 1230.2,1355.5 1231.4,1363.6 1232.6,1363.6 1233.8,1352.3 1235,1345 1236.2,1355.5 1237.4,1362.1 1238.5,1374.1 1239.7,1379.8 1240.9,1375.2 1242.1,1397.5 1243.3,1392.1 1244.5,1385.3 1245.7,1368.8 1246.9,1366.5 1248,1359.7 1249.2,1350.5 1250.4,1351.8 1251.6,1338.1 1252.8,1326.8 1254,1325.6 1255.2,1327.3 1256.4,1341.8 1257.6,1349.7 1258.7,1339.7 1259.9,1334 1261.1,1327.6 1262.3,1323.8 1263.5,1325.3 1264.7,1330.6 1265.9,1319.4 1267.1,1332.4 1268.3,1342.2 1269.4,1357.4 1270.6,1366 1271.8,1351.7 1273,1337.4 1274.2,1327.1 1275.4,1316.3 1276.6,1301.3 1277.8,1292.8 1278.9,1293.4 1280.1,1274.9 1281.3,1245.9 1282.5,1227.1 1283.7,1225.1 1284.9,1230.2 1286.1,1237.5 1287.3,1251.3 1288.5,1258.6 1289.6,1265.5 1290.8,1282.8 1292,1275.9 1293.2,1295.2 1294.4,1302.2 1295.6,1306.3 1296.8,1315.8 1298,1329.4 1299.2,1320 1300.3,1325.1 1301.5,1335.3 1302.7,1350.9 1303.9,1352.2 1305.1,1355.2 1306.3,1355.5 1307.5,1360.7 1308.7,1363.6 1309.8,1361.9 1311,1375.4 1312.2,1373.1 1313.4,1375.6 1314.6,1380.8 1315.8,1380 1317,1380.6 1318.2,1390.7 1319.4,1375.5 1320.5,1376.7 1321.7,1381.6 1322.9,1373.7 1324.1,1360.6 1325.3,1349.6 1326.5,1344.2 1327.7,1349.9 1328.9,1350.1 1330.1,1345.4 1331.2,1349.4 1332.4,1346.1 1333.6,1338.2 1334.8,1341.5 1336,1344.3 1337.2,1346.5 1338.4,1337.3 1339.6,1326 1340.7,1327.9 1341.9,1325.1 1343.1,1320.4 1344.3,1309 1345.5,1299.3 1346.7,1299.2 1347.9,1307.2 1349.1,1299.1 1350.3,1304.2 1351.4,1310.5 1352.6,1312.5 1353.8,1309.5 1355,1310.6 1356.2,1315.4 1357.4,1315.1 1358.6,1309.9 1359.8,1318.9 1361,1320 1362.1,1311.6 1363.3,1318.9 1364.5,1312.9 1365.7,1307 1366.9,1296.6 1368.1,1282.4 1369.3,1287.1 1370.5,1286.4 1371.6,1288.5 1372.8,1282.5 1374,1284.1 1375.2,1279.5 1376.4,1272.9 1377.6,1275.2 1378.8,1277.2 1380,1269.6 1381.2,1276.7 1382.3,1284.3 1383.5,1289.6 1384.7,1310.2 1385.9,1333.4 1387.1,1330.4 1388.3,1335.1 1389.5,1344.1 1390.7,1348.4 1391.9,1341.3 1393,1347.2 1394.2,1338 1395.4,1330.5 1396.6,1343.9 1397.8,1342.4 1399,1331.3 1400.2,1340.1 1401.4,1357.8 1402.5,1355.5 1403.7,1357.5 1404.9,1354.6 1406.1,1364.1 1407.3,1366.5 1408.5,1374.2 1409.7,1391 1410.9,1388.4 1412.1,1387.4 1413.2,1393.4 1414.4,1393.7 1415.6,1403 1416.8,1379.7 1418,1378.3 1419.2,1373.3 1420.4,1364 1421.6,1351.5 1422.7,1350.7 1423.9,1350.2 1425.1,1330.6 1426.3,1317.5 1427.5,1318.5 1428.7,1329.4 1429.9,1347.2 1431.1,1353.2 1432.3,1356.5 1433.4,1358.9 1434.6,1355.1 1435.8,1344.3 1437,1355.7 1438.2,1366.9 1439.4,1351.1 1440.6,1341.3 1441.8,1354.3 1443,1362.5 1444.1,1367.2 1445.3,1369.6 1446.5,1376.3 1447.7,1389 1448.9,1387.1 1450.1,1392.2 1451.3,1390.3 1452.5,1391.1 1453.6,1405.3 1454.8,1408.6 1456,1409.5 1457.2,1406.5 1458.4,1396.8 1459.6,1400.7 1460.8,1400.4 1462,1404.5 1463.2,1418.2 1464.3,1400.4 1465.5,1393.8 1466.7,1384.9 1467.9,1378.3 1469.1,1364.8 1470.3,1361.8 1471.5,1367.8 1472.7,1349.2 1473.9,1335.5 1475,1326 1476.2,1329.6 1477.4,1325 1478.6,1310.7 1479.8,1315.5 1481,1319.3 1482.2,1327.7 1483.4,1336.1 1484.5,1345.7 1485.7,1354.5 1486.9,1343.9 1488.1,1354.4 1489.3,1374.9 1490.5,1365 1491.7,1363.3 1492.9,1364.2 1494.1,1356.5 1495.2,1347.7 1496.4,1342.1 1497.6,1345.7 1498.8,1344.1 1500,1355 1501.2,1361.6 1502.4,1367.9 1503.6,1382.9 1504.8,1382.2 1505.9,1382.4 1507.1,1375 1508.3,1363.6 1509.5,1360.3 1510.7,1349.4 1511.9,1332.8 1513.1,1327.5 1514.3,1329.7 1515.4,1318.9 1516.6,1325.8 1517.8,1329.9 1519,1321.2 1520.2,1317 1521.4,1316.7 1522.6,1309.3 1523.8,1302.5 1525,1303.8 1526.1,1300.3 1527.3,1299.5 1528.5,1310.5 1529.7,1310.3 1530.9,1310.6 1532.1,1316.8 1533.3,1328.3 1534.5,1340.9 1535.7,1347.9 1536.8,1343 1538,1339.5 1539.2,1340.1 1540.4,1340 1541.6,1331.5 1542.8,1326 1544,1314.5 1545.2,1302.4 1546.3,1297.2 1547.5,1295.3 1548.7,1295.2 1549.9,1293.1 1551.1,1298.4 1552.3,1307.3 1553.5,1306.2 1554.7,1313.3 1555.9,1331 1557,1334.8 1558.2,1325.1 1559.4,1326.6 1560.6,1333.3 1561.8,1347.5 1563,1348.9 1564.2,1346 1565.4,1357.6 1566.6,1351.3 1567.7,1344.8 1568.9,1346.5 1570.1,1349.9 1571.3,1356.8 1572.5,1362.6 1573.7,1359.4 1574.9,1354.8 1576.1,1351.6 1577.2,1345.5 1578.4,1349.9 1579.6,1347.5 1580.8,1338.5 1582,1336.8 1583.2,1345.7 1584.4,1344.1 1585.6,1343.9 1586.8,1353.7 1587.9,1375.5 1589.1,1378.3 1590.3,1365.5 1591.5,1375.9 1592.7,1394 1593.9,1397.5 1595.1,1398.5 1596.3,1405.6 1597.5,1394.3 1598.6,1379.1 1599.8,1360.8 1601,1362.1 1602.2,1350.3 1603.4,1335 1604.6,1327.4 1605.8,1315.9 1607,1311.7 1608.1,1304.8 1609.3,1299.8 1610.5,1297.5 1611.7,1286.4 1612.9,1292.2 1614.1,1294.1 1615.3,1296.7 1616.5,1310.6 1617.7,1312.4 1618.8,1310 1620,1314.7 1621.2,1316.1 1622.4,1326.9 1623.6,1330.3 1624.8,1344.2 1626,1346 1627.2,1336.9 1628.4,1347.3 1629.5,1364.6 1630.7,1370.5 1631.9,1375.9 1633.1,1377.9 1634.3,1388.8 1635.5,1392.9 1636.7,1390.2 1637.9,1384 1639,1372.6 1640.2,1365.1 1641.4,1362.7 1642.6,1359.7 1643.8,1350.6 1645,1344.6 1646.2,1346.2 1647.4,1331.1 1648.6,1323.7 1649.7,1326.2 1650.9,1321.6 1652.1,1307 1653.3,1297.2 1654.5,1298.8 1655.7,1288.2 1656.9,1284.2 1658.1,1280.2 1659.3,1279.7 1660.4,1291.2 1661.6,1290 1662.8,1283.6 1664,1286.2 1665.2,1291.3 1666.4,1297.2 1667.6,1292.7 1668.8,1295.8 1669.9,1300.4 1671.1,1290.8 1672.3,1294.8 1673.5,1294.4 1674.7,1301.5 1675.9,1299.5 1677.1,1290.6 1678.3,1290.4 1679.5,1299.5 1680.6,1314.4 1681.8,1313.7 1683,1333.3 1684.2,1342.2 1685.4,1339.6 1686.6,1347.3 1687.8,1349.9 1689,1345.6 1690.2,1351.1 1691.3,1357 1692.5,1353.3 1693.7,1357.9 1694.9,1360.9 1696.1,1352.2 1697.3,1361 1698.5,1352.1 1699.7,1343.2 1700.8,1332.6 1702,1328.8 1703.2,1339.4 1704.4,1333.4 1705.6,1325.4 1706.8,1314.1 1708,1302.1 1709.2,1300.8 1710.4,1298.4 1711.5,1302.8 1712.7,1318.1 1713.9,1333.4 1715.1,1336 1716.3,1336.8 1717.5,1352.4 1718.7,1366.6 1719.9,1382.9 1721.1,1381.9 1722.2,1384.6 1723.4,1389.2 1724.6,1395.6 1725.8,1411.1 1727,1418.3 1728.2,1400.9 1729.4,1367.6 1730.6,1338 1731.7,1328.2 1732.9,1314.3 1734.1,1293.7 1735.3,1272.9 1736.5,1297.4 1737.7,1314.9 1738.9,1323.7 1740.1,1327.7 1741.3,1334.8 1742.4,1352.7 1743.6,1364.3 1744.8,1381.5 1746,1375.4 1747.2,1356.6 1748.4,1350.6 1749.6,1345.1 1750.8,1333.3 1752,1325.4 1753.1,1323.1 1754.3,1325.2 1755.5,1312.3 1756.7,1314.4 1757.9,1304.8 1759.1,1292.9 1760.3,1293.9 1761.5,1293.1 1762.6,1297 1763.8,1310.4 1765,1310.3 1766.2,1312.8 1767.4,1307.2 1768.6,1311.8 1769.8,1326 1771,1314.9 1772.2,1306 1773.3,1309.2 1774.5,1305.9 1775.7,1300.7 1776.9,1309.7 1778.1,1299 1779.3,1294.9 1780.5,1299.4 1781.7,1309 1782.9,1311 1784,1312.4 1785.2,1307.4 1786.4,1308 1787.6,1320.6 1788.8,1328 1790,1331.7 1791.2,1326.7 1792.4,1337.4 1793.5,1351.4 1794.7,1361.6 1795.9,1365.2 1797.1,1354.1 1798.3,1364 1799.5,1377.9 1800.7,1380.8 1801.9,1382 1803.1,1377.9 1804.2,1371 1805.4,1365.2 1806.6,1355.3 1807.8,1338.5 1809,1328.7 1810.2,1334.1 1811.4,1324.3 1812.6,1305.3 1813.8,1305.3 1814.9,1309.6 1816.1,1321.1 1817.3,1317.7 1818.5,1310.8 1819.7,1321.8 1820.9,1332.1 1822.1,1329.5 1823.3,1336 1824.4,1340 1825.6,1344.4 1826.8,1343.8 1828,1351.7 1829.2,1347.6 1830.4,1333.3 1831.6,1325.7 1832.8,1318.2 1834,1322.1 1835.1,1301.9 1836.3,1283.6 1837.5,1281.6 1838.7,1286 1839.9,1287.4 1841.1,1289.6 1842.3,1291.2 1843.5,1299.7 1844.6,1319 1845.8,1345.1 1847,1349.8 1848.2,1369.1 1849.4,1366.7 1850.6,1360.5 1851.8,1354.1 1853,1345.7 1854.2,1343 1855.3,1345.6 1856.5,1345.6 1857.7,1336.2 1858.9,1325.8 1860.1,1321.4 1861.3,1324.1 1862.5,1308.1 1863.7,1304.2 1864.9,1299.4 1866,1291.3 1867.2,1282.8 1868.4,1269 1869.6,1268 1870.8,1268.6 1872,1272.4 1873.2,1280.7 1874.4,1290.3 1875.5,1308.3 1876.7,1315.6 1877.9,1318.4 1879.1,1328.4 1880.3,1329.3 1881.5,1336.1 1882.7,1341.9 1883.9,1352 1885.1,1356.7 1886.2,1364.8 1887.4,1362 1888.6,1354.9 1889.8,1373.6 1891,1362.2 1892.2,1351.3 1893.4,1356.8 1894.6,1349.5 1895.8,1335.1 1896.9,1332 1898.1,1334.9 1899.3,1331.8 1900.5,1329 1901.7,1312.1 1902.9,1306.8 1904.1,1307.8 1905.3,1308.2 1906.4,1293.2 1907.6,1290.4 1908.8,1289.2 1910,1277.9 1911.2,1276.4 1912.4,1284.2 1913.6,1294.1 1914.8,1285.9 1916,1291.9 1917.1,1308.6 1918.3,1321.4 1919.5,1322.9 1920.7,1314.4 1921.9,1317.8 1923.1,1319.2 1924.3,1328 1925.5,1329.6 1926.7,1336.7 1927.8,1350.8 1929,1355.9 1930.2,1364.2 1931.4,1374.3 1932.6,1373.4 1933.8,1376.4 1935,1387.8 1936.2,1394.8 1937.3,1403.9 1938.5,1391.2 1939.7,1394.1 1940.9,1392.8 1942.1,1388.3 1943.3,1385.3 1944.5,1377.9 1945.7,1369.1 1946.9,1368.1 1948,1365.4 1949.2,1363.9 1950.4,1357.8 1951.6,1358.3 1952.8,1352.3 1954,1343.4 1955.2,1338.8 1956.4,1328.7 1957.6,1321.6 1958.7,1317.9 1959.9,1318.6 1961.1,1317.2 1962.3,1326.7 1963.5,1322.7 1964.7,1323.3 1965.9,1320.4 1967.1,1323.1 1968.2,1326 1969.4,1332.3 1970.6,1346.8 1971.8,1344.3 1973,1347.6 1974.2,1361.8 1975.4,1355.5 1976.6,1350.7 1977.8,1340.2 1978.9,1338.5 1980.1,1336.2 1981.3,1333.2 1982.5,1341.4 1983.7,1343.1 1984.9,1331.1 1986.1,1331.5 1987.3,1328.7 1988.5,1329.6 1989.6,1319.3 1990.8,1304.3 1992,1293.5 1993.2,1295.3 1994.4,1303.4 1995.6,1310.1 1996.8,1306.1 1998,1319.8 1999.1,1348.4 2000.3,1343.7 2001.5,1347.4 2002.7,1333.4 2003.9,1316 2005.1,1308.7 2006.3,1307.2 2007.5,1299.9 2008.7,1291 2009.8,1289.6 2011,1282.8 2012.2,1274 2013.4,1270.9 2014.6,1263.4 2015.8,1257 2017,1251.1 2018.2,1252.2 2019.4,1259.6 2020.5,1268.3 2021.7,1285.3 2022.9,1285.7 2024.1,1280.1 2025.3,1281.9 2026.5,1290.2 2027.7,1294.7 2028.9,1312.7 2030,1327.5 2031.2,1329.3 2032.4,1339 2033.6,1345.2 2034.8,1347.6 2036,1358.8 2037.2,1352.3 2038.4,1337.5 2039.6,1331.7 2040.7,1335.9 2041.9,1324.8 2043.1,1310.9 2044.3,1314.4 2045.5,1320.8 2046.7,1304.9 2047.9,1297.5 2049.1,1303.3 2050.3,1320.9 2051.4,1333.3 2052.6,1349.9 2053.8,1360.8 2055,1347.2 2056.2,1338.5 2057.4,1336.9 2058.6,1319.4 2059.8,1308.1 2060.9,1306.6 2062.1,1295.6 2063.3,1298.8 2064.5,1302.9 2065.7,1302.9 2066.9,1306.4 2068.1,1310.4 2069.3,1314.7 2070.5,1322 2071.6,1324.8 2072.8,1336.1 2074,1335.9 2075.2,1327 2076.4,1314 2077.6,1308.3 2078.8,1303.4 2080,1309.6 2081.2,1311 2082.3,1306.8 2083.5,1298 2084.7,1298.6 2085.9,1307 2087.1,1308.7 2088.3,1308.4 2089.5,1311.4 2090.7,1307.6 2091.8,1302.8 2093,1302.2 2094.2,1294.9 2095.4,1289.7 2096.6,1296.7 2097.8,1305.8 2099,1316.1 2100.2,1324.8 2101.4,1338.8 2102.5,1347.4 2103.7,1346.3 2104.9,1342.3 2106.1,1335.8 2107.3,1350.1 2108.5,1357.1 2109.7,1355.5 2110.9,1343.6 2112.1,1344.1 2113.2,1345.6 2114.4,1335.3 2115.6,1329.7 2116.8,1327 2118,1325.6 2119.2,1331.6 2120.4,1331 2121.6,1332.1 2122.7,1342.2 2123.9,1349.1 2125.1,1355.7 2126.3,1363.4 2127.5,1367.5 2128.7,1357.2 2129.9,1339.6 2131.1,1331.2 2132.3,1332.4 2133.4,1315.8 2134.6,1317.5 2135.8,1319.9 2137,1307.7 2138.2,1309.6 2139.4,1319.7 2140.6,1333.6 2141.8,1342.7 2143,1351.4 2144.1,1356.2 2145.3,1359.9 2146.5,1376 2147.7,1367.1 2148.9,1365 2150.1,1368.6 2151.3,1355.5 2152.5,1345.2 2153.6,1348.2 2154.8,1341.2 2156,1341.8 2157.2,1339.8 2158.4,1336.2 2159.6,1332.3 2160.8,1329.5 2162,1327.7 2163.2,1327.7 2164.3,1320.1 2165.5,1311.8 2166.7,1300.2 2167.9,1290.6 2169.1,1282.4 2170.3,1278.9 2171.5,1294.1 2172.7,1300.1 2173.9,1314.3 2175,1333.1 2176.2,1338.3 2177.4,1349.1 2178.6,1366.4 2179.8,1385.8 2181,1377.6 2182.2,1356.8 2183.4,1327.7 2184.5,1321.1 2185.7,1322.1 2186.9,1292.3 2188.1,1282.1 2189.3,1283.4 2190.5,1275.2 2191.7,1264.7 2192.9,1264.4 2194.1,1285.3 2195.2,1304.3 2196.4,1321.3 2197.6,1340.8 2198.8,1365.8 2200,1378.4 2201.2,1370.2 2202.4,1354.2 2203.6,1350.8 2204.8,1352.3 2205.9,1340.4 2207.1,1323.2 2208.3,1318.3 2209.5,1308.7 2210.7,1304.9 2211.9,1308 2213.1,1306.7 2214.3,1325.5 2215.4,1331.3 2216.6,1330 2217.8,1338.2 2219,1345.5 2220.2,1347.4 2221.4,1354.3 2222.6,1358.6 2223.8,1355.9 2225,1355.3 2226.1,1360 2227.3,1367 2228.5,1374.7 2229.7,1384.3 2230.9,1395.9 2232.1,1395 2233.3,1378.2 2234.5,1367.6 2235.6,1357.4 2236.8,1342.1 2238,1315.9 2239.2,1308.2 2240.4,1303 2241.6,1300.2 2242.8,1300.4 2244,1298.7 2245.2,1308 2246.3,1301.3 2247.5,1287.2 2248.7,1289.2 2249.9,1289.6 2251.1,1293.8 2252.3,1305 2253.5,1317.6 2254.7,1312.6 2255.9,1326.4 2257,1341.8 2258.2,1344.1 2259.4,1343.8 2260.6,1346.3 2261.8,1354.7 2263,1369.9 2264.2,1380.6 2265.4,1374.5 2266.5,1382.3 2267.7,1379.5 2268.9,1365.5 2270.1,1351.6 2271.3,1341.6 2272.5,1327.7 2273.7,1319.3 2274.9,1309.5 2276.1,1287.8 2277.2,1277.2 2278.4,1271 2279.6,1279.4 2280.8,1282.6 2282,1283.4 2283.2,1294.3 2284.4,1301.6 2285.6,1296 2286.8,1309.5 2287.9,1312.7 2289.1,1302 2290.3,1313.6 2291.5,1325.2 2292.7,1321.5 2293.9,1311.4 2295.1,1309.8 2296.3,1316.5 2297.4,1314 2298.6,1315.3 2299.8,1307.9 2301,1307.1 2302.2,1318.9 2303.4,1328.3 2304.6,1327 2305.8,1339.6 2307,1348.3 2308.1,1352.9 2309.3,1366.1 2310.5,1366.8 2311.7,1361.1 2312.9,1354.2 2314.1,1361.4 2315.3,1353.9 2316.5,1344.4 2317.7,1356.9 2318.8,1356.7 2320,1339.1 2321.2,1356.3 2322.4,1341.4 2323.6,1337.3 2324.8,1356 2326,1376.5 2327.2,1390.6 2328.3,1391.5 2329.5,1382.8 2330.7,1365.2 2331.9,1357.3 2333.1,1348.5 2334.3,1340.6 2335.5,1346.6 2336.7,1330 2337.9,1321.3 2339,1319.2 2340.2,1318 2341.4,1323.9 2342.6,1329.1 2343.8,1324 2345,1320.5 2346.2,1320.4 2347.4,1317.8 2348.6,1325.6 2349.7,1338.1 2350.9,1341.7 2352.1,1341.3 2353.3,1344.7 2354.5,1351.4 2355.7,1348.9 2356.9,1343.9 2358.1,1346.8 2359.2,1351.1 2360.4,1361 2361.6,1352.8 2362.8,1347.8 2364,1335.4 2365.2,1332.6 2366.4,1323.6 2367.6,1315 2368.8,1298.4 2369.9,1293.6 2371.1,1311 2372.3,1320.3 2373.5,1326.2 2374.7,1325.6 2375.9,1324.8 2377.1,1337.7 2378.3,1351.2 2379.5,1355.9 2380.6,1342.7 2381.8,1336.1 2383,1330.3 2384.2,1327.6 2385.4,1312.5 2386.6,1324.1 2387.8,1331 2389,1337.7 2390.1,1328.2 2391.3,1329.6 2392.5,1340.1 2393.7,1348.6 2394.9,1351.4 2396.1,1359 2397.3,1350.1 2398.5,1339.6 2399.7,1335 2400.8,1325.1 2402,1325 2403.2,1328.9 2404.4,1316.4 2405.6,1310.7 2406.8,1313.2 2408,1307 2409.2,1314.3 2410.4,1326.6 2411.5,1331.5 2412.7,1340.2 2413.9,1350.3 2415.1,1348.4 2416.3,1337.6 2417.5,1343.5 2418.7,1348.2 2419.9,1357.9 2421,1359.2 2422.2,1348.8 2423.4,1339.5 2424.6,1333.4 2425.8,1329.1 2427,1317.6 2428.2,1319.7 2429.4,1321.6 2430.6,1310.9 2431.7,1316.9 2432.9,1321.7 2434.1,1331.2 2435.3,1342 2436.5,1340 2437.7,1348.3 2438.9,1342.2 2440.1,1330.5 2441.3,1339.2 2442.4,1348.4 2443.6,1360.5 2444.8,1355.3 2446,1356.2 2447.2,1359.9 2448.4,1350.6 2449.6,1338.1 2450.8,1346.9 2451.9,1345.6 2453.1,1330.4 2454.3,1329.7 2455.5,1330 2456.7,1328.3 2457.9,1315.1 2459.1,1321.7 2460.3,1337.3 2461.5,1347.4 2462.6,1341.8 2463.8,1347 2465,1353 2466.2,1336.6 2467.4,1330.7 2468.6,1332.7 2469.8,1334.6 2471,1320.3 2472.2,1306.5 2473.3,1303 2474.5,1296.4 2475.7,1306.7 2476.9,1313.5 2478.1,1313.1 2479.3,1310.3 2480.5,1315.2 2481.7,1323.3 2482.8,1331.2 2484,1338.5 2485.2,1345.1 2486.4,1328.2 2487.6,1309.9 2488.8,1290.1 2490,1285.5 2491.2,1287 2492.4,1295.4 2493.5,1300.1 2494.7,1297.8 2495.9,1307.9 2497.1,1312.6 2498.3,1300.1 2499.5,1317.3 2500.7,1332.7 2501.9,1348.6 2503.1,1359.1 2504.2,1370.7 2505.4,1379.4 2506.6,1366.4 2507.8,1364.4 2509,1352.5 2510.2,1344.4 2511.4,1340 2512.6,1326.3 2513.7,1313.7 2514.9,1311.7 2516.1,1308.3 2517.3,1329.9 2518.5,1336.2 2519.7,1355.3 2520.9,1373.7 2522.1,1381.2 2523.3,1395.7 2524.4,1387.7 2525.6,1374.4 2526.8,1378.6 2528,1374.1 2529.2,1357.7 2530.4,1339.4 2531.6,1332.2 2532.8,1331.1 2534,1337.3 2535.1,1336.5 2536.3,1335.4 2537.5,1355.1 2538.7,1366.1 2539.9,1362 2541.1,1368.5 2542.3,1374.6 2543.5,1376.3 2544.6,1387.7 2545.8,1391.7 2547,1373 2548.2,1361.1 2549.4,1347.8 2550.6,1340.1 2551.8,1326.7 2553,1311.6 2554.2,1301.6 2555.3,1291.7 2556.5,1280.1 2557.7,1281.9 2558.9,1292 2560.1,1297.4 2561.3,1308.1 2562.5,1309.4 2563.7,1316.6 2564.9,1323.4 2566,1316.7 2567.2,1319.3 2568.4,1332.9 2569.6,1330 2570.8,1318.1 2572,1303.7 2573.2,1301.5 2574.4,1301.5 2575.5,1291.8 2576.7,1286.7 2577.9,1281.4 2579.1,1281.3 2580.3,1279.5 2581.5,1285.7 2582.7,1293.5 2583.9,1291.8 2585.1,1297.8 2586.2,1299.6 2587.4,1305.3 2588.6,1315.4 2589.8,1322.6 2591,1326.4 2592.2,1331.7 2593.4,1335 2594.6,1340.1 2595.8,1339.2 2596.9,1336.9 2598.1,1348.2 2599.3,1344.3 2600.5,1340.4 2601.7,1336.3 2602.9,1329.1 2604.1,1314.2 2605.3,1312.1 2606.4,1307.9 2607.6,1305.3 2608.8,1303.8 2610,1311.2 2611.2,1314.7"/></g><path d="M234.3 827.5v-33.3M234.3 223.5v33.3M709.7 827.5v-33.3M709.7 223.5v33.3M1185.1 827.5v-33.3M1185.1 223.5v33.3M1660.4 827.5v-33.3M1660.4 223.5v33.3M2135.8 827.5v-33.3M2135.8 223.5v33.3M2611.2 827.5v-33.3M2611.2 223.5v33.3M329.4 827.5v-16.7M329.4 223.5v16.7M424.5 827.5v-16.7M424.5 223.5v16.7M519.5 827.5v-16.7M519.5 223.5v16.7M614.6 827.5v-16.7M614.6 223.5v16.7M804.8 827.5v-16.7M804.8 223.5v16.7M899.8 827.5v-16.7M899.8 223.5v16.7M994.9 827.5v-16.7M994.9 223.5v16.7M1090 827.5v-16.7M1090 223.5v16.7M1280.1 827.5v-16.7M1280.1 223.5v16.7M1375.2 827.5v-16.7M1375.2 223.5v16.7M1470.3 827.5v-16.7M1470.3 223.5v16.7M1565.4 827.5v-16.7M1565.4 223.5v16.7M1755.5 827.5v-16.7M1755.5 223.5v16.7M1850.6 827.5v-16.7M1850.6 223.5v16.7M1945.7 827.5v-16.7M1945.7 223.5v16.7M2040.7 827.5v-16.7M2040.7 223.5v16.7M2230.9 827.5v-16.7M2230.9 223.5v16.7M2326 827.5v-16.7M2326 223.5v16.7M2421 827.5v-16.7M2421 223.5v16.7M2516.1 827.5v-16.7M2516.1 223.5v16.7M234.3 827.5h33.3M2611.2 827.5h-33.3M234.3 706.7h33.3M2611.2 706.7h-33.3M234.3 585.9h33.3M2611.2 585.9h-33.3M234.3 465.1h33.3M2611.2 465.1h-33.3M234.3 344.3h33.3M2611.2 344.3h-33.3M234.3 223.5h33.3M2611.2 223.5h-33.3M234.3 803.3h16.7M2611.2 803.3h-16.7M234.3 779.2h16.7M2611.2 779.2h-16.7M234.3 755h16.7M2611.2 755h-16.7M234.3 730.9h16.7M2611.2 730.9h-16.7M234.3 682.5h16.7M2611.2 682.5h-16.7M234.3 658.4h16.7M2611.2 658.4h-16.7M234.3 634.2h16.7M2611.2 634.2h-16.7M234.3 610.1h16.7M2611.2 610.1h-16.7M234.3 561.7h16.7M2611.2 561.7h-16.7M234.3 537.6h16.7M2611.2 537.6h-16.7M234.3 513.4h16.7M2611.2 513.4h-16.7M234.3 489.3h16.7M2611.2 489.3h-16.7M234.3 440.9h16.7M2611.2 440.9h-16.7M234.3 416.8h16.7M2611.2 416.8h-16.7M234.3 392.6h16.7M2611.2 392.6h-16.7M234.3 368.5h16.7M2611.2 368.5h-16.7M234.3 320.1h16.7M2611.2 320.1h-16.7M234.3 296h16.7M2611.2 296h-16.7M234.3 271.8h16.7M2611.2 271.8h-16.7M234.3 247.7h16.7M2611.2 247.7h-16.7" stroke="#000" stroke-width="2.5" fill="none"/><path d="M234.3 1551.5v-33.3M234.3 947.5v33.3M709.7 1551.5v-33.3M709.7 947.5v33.3M1185.1 1551.5v-33.3M1185.1 947.5v33.3M1660.4 1551.5v-33.3M1660.4 947.5v33.3M2135.8 1551.5v-33.3M2135.8 947.5v33.3M2611.2 1551.5v-33.3M2611.2 947.5v33.3M329.4 1551.5v-16.7M329.4 947.5v16.7M424.5 1551.5v-16.7M424.5 947.5v16.7M519.5 1551.5v-16.7M519.5 947.5v16.7M614.6 1551.5v-16.7M614.6 947.5v16.7M804.8 1551.5v-16.7M804.8 947.5v16.7M899.8 1551.5v-16.7M899.8 947.5v16.7M994.9 1551.5v-16.7M994.9 947.5v16.7M1090 1551.5v-16.7M1090 947.5v16.7M1280.1 1551.5v-16.7M1280.1 947.5v16.7M1375.2 1551.5v-16.7M1375.2 947.5v16.7M1470.3 1551.5v-16.7M1470.3 947.5v16.7M1565.4 1551.5v-16.7M1565.4 947.5v16.7M1755.5 1551.5v-16.7M1755.5 947.5v16.7M1850.6 1551.5v-16.7M1850.6 947.5v16.7M1945.7 1551.5v-16.7M1945.7 947.5v16.7M2040.7 1551.5v-16.7M2040.7 947.5v16.7M2230.9 1551.5v-16.7M2230.9 947.5v16.7M2326 1551.5v-16.7M2326 947.5v16.7M2421 1551.5v-16.7M2421 947.5v16.7M2516.1 1551.5v-16.7M2516.1 947.5v16.7M234.3 1551.5h33.3M2611.2 1551.5h-33.3M234.3 1249.5h33.3M2611.2 1249.5h-33.3M234.3 947.5h33.3M2611.2 947.5h-33.3M234.3 1491.1h16.7M2611.2 1491.1h-16.7M234.3 1430.7h16.7M2611.2 1430.7h-16.7M234.3 1370.3h16.7M2611.2 1370.3h-16.7M234.3 1309.9h16.7M2611.2 1309.9h-16.7M234.3 1189.1h16.7M2611.2 1189.1h-16.7M234.3 1128.7h16.7M2611.2 1128.7h-16.7M234.3 1068.3h16.7M2611.2 1068.3h-16.7M234.3 1007.9h16.7M2611.2 1007.9h-16.7" stroke="#000" stroke-width="2.5" fill="none"/><path d="M2733.6 827.5v-33.3M2733.6 223.5v33.3M3208.5 827.5v-33.3M3208.5 223.5v33.3M2852.3 827.5v-16.7M2852.3 223.5v16.7M2971.1 827.5v-16.7M2971.1 223.5v16.7M3089.8 827.5v-16.7M3089.8 223.5v16.7M2733.6 827.5h33.3M3208.5 827.5h-33.3M2733.6 706.7h33.3M3208.5 706.7h-33.3M2733.6 585.9h33.3M3208.5 585.9h-33.3M2733.6 465.1h33.3M3208.5 465.1h-33.3M2733.6 344.3h33.3M3208.5 344.3h-33.3M2733.6 223.5h33.3M3208.5 223.5h-33.3M2733.6 803.3h16.7M3208.5 803.3h-16.7M2733.6 779.2h16.7M3208.5 779.2h-16.7M2733.6 755h16.7M3208.5 755h-16.7M2733.6 730.9h16.7M3208.5 730.9h-16.7M2733.6 682.5h16.7M3208.5 682.5h-16.7M2733.6 658.4h16.7M3208.5 658.4h-16.7M2733.6 634.2h16.7M3208.5 634.2h-16.7M2733.6 610.1h16.7M3208.5 610.1h-16.7M2733.6 561.7h16.7M3208.5 561.7h-16.7M2733.6 537.6h16.7M3208.5 537.6h-16.7M2733.6 513.4h16.7M3208.5 513.4h-16.7M2733.6 489.3h16.7M3208.5 489.3h-16.7M2733.6 440.9h16.7M3208.5 440.9h-16.7M2733.6 416.8h16.7M3208.5 416.8h-16.7M2733.6 392.6h16.7M3208.5 392.6h-16.7M2733.6 368.5h16.7M3208.5 368.5h-16.7M2733.6 320.1h16.7M3208.5 320.1h-16.7M2733.6 296h16.7M3208.5 296h-16.7M2733.6 271.8h16.7M3208.5 271.8h-16.7M2733.6 247.7h16.7M3208.5 247.7h-16.7" stroke="#000" stroke-width="2.5" fill="none"/><path d="M2733.6 1551.5v-33.3M2733.6 947.5v33.3M3208.5 1551.5v-33.3M3208.5 947.5v33.3M2852.3 1551.5v-16.7M2852.3 947.5v16.7M2971.1 1551.5v-16.7M2971.1 947.5v16.7M3089.8 1551.5v-16.7M3089.8 947.5v16.7M2733.6 1551.5h33.3M3208.5 1551.5h-33.3M2733.6 1249.5h33.3M3208.5 1249.5h-33.3M2733.6 947.5h33.3M3208.5 947.5h-33.3M2733.6 1491.1h16.7M3208.5 1491.1h-16.7M2733.6 1430.7h16.7M3208.5 1430.7h-16.7M2733.6 1370.3h16.7M3208.5 1370.3h-16.7M2733.6 1309.9h16.7M3208.5 1309.9h-16.7M2733.6 1189.1h16.7M3208.5 1189.1h-16.7M2733.6 1128.7h16.7M3208.5 1128.7h-16.7M2733.6 1068.3h16.7M3208.5 1068.3h-16.7M2733.6 1007.9h16.7M3208.5 1007.9h-16.7" stroke="#000" stroke-width="2.5" fill="none"/><rect x="234.3" y="223.5" width="2376.9" height="604" fill="none" stroke="#000" stroke-width="3.33" stroke-linejoin="miter"/><rect x="234.3" y="947.5" width="2376.9" height="604" fill="none" stroke="#000" stroke-width="3.33" stroke-linejoin="miter"/><rect x="2733.6" y="223.5" width="474.9" height="604" fill="none" stroke="#000" stroke-width="3.33" stroke-linejoin="miter"/><rect x="2733.6" y="947.5" width="474.9" height="604" fill="none" stroke="#000" stroke-width="3.33" stroke-linejoin="miter"/><text transform="translate(1187.76,109.40) scale(0.5657,1)" font-size="104.50">E</text><text transform="translate(1227.19,109.40) scale(0.7362,1)" font-size="93.00">lectrostatic&#160;</text><text transform="translate(1611.56,109.40) scale(0.5657,1)" font-size="104.50">D</text><text transform="translate(1654.25,109.40) scale(0.7362,1)" font-size="93.00">ipolar&#160;</text><text transform="translate(1859.70,109.40) scale(0.5657,1)" font-size="104.50">M</text><text transform="translate(1908.94,109.40) scale(0.7362,1)" font-size="93.00">oment</text><text transform="translate(1273.80,1734.00) scale(0.5680,1)" font-size="104.50">T</text><text transform="translate(1310.06,1734.00) scale(0.7393,1)" font-size="93.00">ime&#160;</text><text transform="translate(1447.64,1725.33) scale(0.6721,1)" font-size="89.35">(</text><text transform="translate(1467.64,1734.00) scale(0.7393,1)" font-size="93.00">ns</text><text transform="translate(1547.88,1725.33) scale(0.6721,1)" font-size="89.35">)</text><text transform="translate(2862.95,1734.00) scale(0.5371,1)" font-size="104.50">C</text><text transform="translate(2903.48,1734.00) scale(0.6991,1)" font-size="93.00">ounts</text><text transform="translate(138.80,1288.83) rotate(-90) scale(0.5648,1)" font-size="104.50">EDM</text><text transform="translate(138.80,1157.68) rotate(-90) scale(0.7351,1)" font-size="93.00">&#160;components&#160;</text><text transform="translate(130.13,713.24) rotate(-90) scale(0.6683,1)" font-size="89.35">(</text><text transform="translate(138.80,693.36) rotate(-90) scale(0.7351,1)" font-size="93.00">e&#160;nm</text><text transform="translate(130.13,533.79) rotate(-90) scale(0.6683,1)" font-size="89.35">)</text><g transform="translate(218.75,1626.90)"><path d="M6.80 -47.55A8.75 8.75 0 0 1 24.30 -47.55V-12.55A8.75 8.75 0 0 1 6.80 -12.55Z" fill="none" stroke="#000" stroke-width="8.3" stroke-linejoin="miter" stroke-miterlimit="10"/></g><g transform="translate(647.48,1626.90)"><path d="M12.6 -60.1H21.7V0H12.6V-50.9L3.2 -44.1V-53.5Z" fill="#000"/></g><g transform="translate(678.58,1626.90)"><path d="M6.80 -47.55A8.75 8.75 0 0 1 24.30 -47.55V-12.55A8.75 8.75 0 0 1 6.80 -12.55Z" fill="none" stroke="#000" stroke-width="8.3" stroke-linejoin="miter" stroke-miterlimit="10"/></g><g transform="translate(709.68,1626.90)"><path d="M6.80 -47.55A8.75 8.75 0 0 1 24.30 -47.55V-12.55A8.75 8.75 0 0 1 6.80 -12.55Z" fill="none" stroke="#000" stroke-width="8.3" stroke-linejoin="miter" stroke-miterlimit="10"/></g><g transform="translate(740.78,1626.90)"><path d="M6.80 -47.55A8.75 8.75 0 0 1 24.30 -47.55V-12.55A8.75 8.75 0 0 1 6.80 -12.55Z" fill="none" stroke="#000" stroke-width="8.3" stroke-linejoin="miter" stroke-miterlimit="10"/></g><g transform="translate(1122.86,1626.90)"><path d="M6.80 -42.70 V-47.55A8.75 8.75 0 0 1 24.30 -47.55V-42Q24.30 -39.50 23.20 -37.00L22.20 -35.30" fill="none" stroke="#000" stroke-width="8.3" stroke-linejoin="miter" stroke-miterlimit="10"/><path d="M19.15 -37.60 L27.85 -37.60 L12.15 -8.30 L2.65 -8.30 L2.65 -9.80 Z" fill="#000"/><path d="M2.65 -8.40 H27.75 V0 H2.65 Z" fill="#000"/></g><g transform="translate(1153.96,1626.90)"><path d="M6.80 -47.55A8.75 8.75 0 0 1 24.30 -47.55V-12.55A8.75 8.75 0 0 1 6.80 -12.55Z" fill="none" stroke="#000" stroke-width="8.3" stroke-linejoin="miter" stroke-miterlimit="10"/></g><g transform="translate(1185.06,1626.90)"><path d="M6.80 -47.55A8.75 8.75 0 0 1 24.30 -47.55V-12.55A8.75 8.75 0 0 1 6.80 -12.55Z" fill="none" stroke="#000" stroke-width="8.3" stroke-linejoin="miter" stroke-miterlimit="10"/></g><g transform="translate(1216.16,1626.90)"><path d="M6.80 -47.55A8.75 8.75 0 0 1 24.30 -47.55V-12.55A8.75 8.75 0 0 1 6.80 -12.55Z" fill="none" stroke="#000" stroke-width="8.3" stroke-linejoin="miter" stroke-miterlimit="10"/></g><g transform="translate(1598.24,1626.90)"><path d="M6.80 -42.20 V-47.55A8.75 8.75 0 0 1 24.30 -47.55V-39.5Q24.30 -31.30 16.30 -31.30H12.05 M16.30 -31.30 Q24.30 -31.30 24.30 -23.20V-12.55A8.75 8.75 0 0 1 6.80 -12.55V-16.8" fill="none" stroke="#000" stroke-width="8.3" stroke-linejoin="miter" stroke-miterlimit="10"/></g><g transform="translate(1629.34,1626.90)"><path d="M6.80 -47.55A8.75 8.75 0 0 1 24.30 -47.55V-12.55A8.75 8.75 0 0 1 6.80 -12.55Z" fill="none" stroke="#000" stroke-width="8.3" stroke-linejoin="miter" stroke-miterlimit="10"/></g><g transform="translate(1660.44,1626.90)"><path d="M6.80 -47.55A8.75 8.75 0 0 1 24.30 -47.55V-12.55A8.75 8.75 0 0 1 6.80 -12.55Z" fill="none" stroke="#000" stroke-width="8.3" stroke-linejoin="miter" stroke-miterlimit="10"/></g><g transform="translate(1691.54,1626.90)"><path d="M6.80 -47.55A8.75 8.75 0 0 1 24.30 -47.55V-12.55A8.75 8.75 0 0 1 6.80 -12.55Z" fill="none" stroke="#000" stroke-width="8.3" stroke-linejoin="miter" stroke-miterlimit="10"/></g><g transform="translate(2073.62,1626.90)"><path d="M12.35 -60.10L22.05 -60.10L9.25 -16.00L17.85 -16.00L17.85 -34.00L26.25 -34.00L26.25 -16.00L30.15 -16.00L30.15 -8.70L26.25 -8.70L26.25 0.00L17.85 0.00L17.85 -8.70L0.65 -8.70L0.65 -16.00Z" fill="#000"/></g><g transform="translate(2104.72,1626.90)"><path d="M6.80 -47.55A8.75 8.75 0 0 1 24.30 -47.55V-12.55A8.75 8.75 0 0 1 6.80 -12.55Z" fill="none" stroke="#000" stroke-width="8.3" stroke-linejoin="miter" stroke-miterlimit="10"/></g><g transform="translate(2135.82,1626.90)"><path d="M6.80 -47.55A8.75 8.75 0 0 1 24.30 -47.55V-12.55A8.75 8.75 0 0 1 6.80 -12.55Z" fill="none" stroke="#000" stroke-width="8.3" stroke-linejoin="miter" stroke-miterlimit="10"/></g><g transform="translate(2166.92,1626.90)"><path d="M6.80 -47.55A8.75 8.75 0 0 1 24.30 -47.55V-12.55A8.75 8.75 0 0 1 6.80 -12.55Z" fill="none" stroke="#000" stroke-width="8.3" stroke-linejoin="miter" stroke-miterlimit="10"/></g><g transform="translate(2549.00,1626.90)"><path d="M27.65 -55.95 H8.30 V-27" fill="none" stroke="#000" stroke-width="8.3" stroke-linejoin="miter" stroke-miterlimit="10"/><path d="M8.30 -27.00 C8.30 -32.00 11.05 -35.40 15.55 -35.40 A8.75 8.75 0 0 1 24.30 -26.65 V-12.55A8.75 8.75 0 0 1 6.80 -12.55V-15.2" fill="none" stroke="#000" stroke-width="8.3" stroke-linejoin="miter" stroke-miterlimit="10"/></g><g transform="translate(2580.10,1626.90)"><path d="M6.80 -47.55A8.75 8.75 0 0 1 24.30 -47.55V-12.55A8.75 8.75 0 0 1 6.80 -12.55Z" fill="none" stroke="#000" stroke-width="8.3" stroke-linejoin="miter" stroke-miterlimit="10"/></g><g transform="translate(2611.20,1626.90)"><path d="M6.80 -47.55A8.75 8.75 0 0 1 24.30 -47.55V-12.55A8.75 8.75 0 0 1 6.80 -12.55Z" fill="none" stroke="#000" stroke-width="8.3" stroke-linejoin="miter" stroke-miterlimit="10"/></g><g transform="translate(2642.30,1626.90)"><path d="M6.80 -47.55A8.75 8.75 0 0 1 24.30 -47.55V-12.55A8.75 8.75 0 0 1 6.80 -12.55Z" fill="none" stroke="#000" stroke-width="8.3" stroke-linejoin="miter" stroke-miterlimit="10"/></g><g transform="translate(2718.05,1626.90)"><path d="M6.80 -47.55A8.75 8.75 0 0 1 24.30 -47.55V-12.55A8.75 8.75 0 0 1 6.80 -12.55Z" fill="none" stroke="#000" stroke-width="8.3" stroke-linejoin="miter" stroke-miterlimit="10"/></g><g transform="translate(3161.85,1626.90)"><path d="M6.80 -42.70 V-47.55A8.75 8.75 0 0 1 24.30 -47.55V-42Q24.30 -39.50 23.20 -37.00L22.20 -35.30" fill="none" stroke="#000" stroke-width="8.3" stroke-linejoin="miter" stroke-miterlimit="10"/><path d="M19.15 -37.60 L27.85 -37.60 L12.15 -8.30 L2.65 -8.30 L2.65 -9.80 Z" fill="#000"/><path d="M2.65 -8.40 H27.75 V0 H2.65 Z" fill="#000"/></g><g transform="translate(3192.95,1626.90)"><path d="M6.80 -47.55A8.75 8.75 0 0 1 24.30 -47.55V-12.55A8.75 8.75 0 0 1 6.80 -12.55Z" fill="none" stroke="#000" stroke-width="8.3" stroke-linejoin="miter" stroke-miterlimit="10"/></g><g transform="translate(3224.05,1626.90)"><path d="M6.80 -47.55A8.75 8.75 0 0 1 24.30 -47.55V-12.55A8.75 8.75 0 0 1 6.80 -12.55Z" fill="none" stroke="#000" stroke-width="8.3" stroke-linejoin="miter" stroke-miterlimit="10"/></g><g transform="translate(186.90,848.80)"><path d="M6.80 -47.55A8.75 8.75 0 0 1 24.30 -47.55V-12.55A8.75 8.75 0 0 1 6.80 -12.55Z" fill="none" stroke="#000" stroke-width="8.3" stroke-linejoin="miter" stroke-miterlimit="10"/></g><g transform="translate(186.90,728.00)"><path d="M12.6 -60.1H21.7V0H12.6V-50.9L3.2 -44.1V-53.5Z" fill="#000"/></g><g transform="translate(186.90,607.20)"><path d="M6.80 -42.70 V-47.55A8.75 8.75 0 0 1 24.30 -47.55V-42Q24.30 -39.50 23.20 -37.00L22.20 -35.30" fill="none" stroke="#000" stroke-width="8.3" stroke-linejoin="miter" stroke-miterlimit="10"/><path d="M19.15 -37.60 L27.85 -37.60 L12.15 -8.30 L2.65 -8.30 L2.65 -9.80 Z" fill="#000"/><path d="M2.65 -8.40 H27.75 V0 H2.65 Z" fill="#000"/></g><g transform="translate(186.90,486.40)"><path d="M6.80 -42.20 V-47.55A8.75 8.75 0 0 1 24.30 -47.55V-39.5Q24.30 -31.30 16.30 -31.30H12.05 M16.30 -31.30 Q24.30 -31.30 24.30 -23.20V-12.55A8.75 8.75 0 0 1 6.80 -12.55V-16.8" fill="none" stroke="#000" stroke-width="8.3" stroke-linejoin="miter" stroke-miterlimit="10"/></g><g transform="translate(186.90,365.60)"><path d="M12.35 -60.10L22.05 -60.10L9.25 -16.00L17.85 -16.00L17.85 -34.00L26.25 -34.00L26.25 -16.00L30.15 -16.00L30.15 -8.70L26.25 -8.70L26.25 0.00L17.85 0.00L17.85 -8.70L0.65 -8.70L0.65 -16.00Z" fill="#000"/></g><g transform="translate(186.90,244.80)"><path d="M27.65 -55.95 H8.30 V-27" fill="none" stroke="#000" stroke-width="8.3" stroke-linejoin="miter" stroke-miterlimit="10"/><path d="M8.30 -27.00 C8.30 -32.00 11.05 -35.40 15.55 -35.40 A8.75 8.75 0 0 1 24.30 -26.65 V-12.55A8.75 8.75 0 0 1 6.80 -12.55V-15.2" fill="none" stroke="#000" stroke-width="8.3" stroke-linejoin="miter" stroke-miterlimit="10"/></g><g transform="translate(186.90,1572.80)"><path d="M6.80 -47.55A8.75 8.75 0 0 1 24.30 -47.55V-12.55A8.75 8.75 0 0 1 6.80 -12.55Z" fill="none" stroke="#000" stroke-width="8.3" stroke-linejoin="miter" stroke-miterlimit="10"/></g><g transform="translate(186.90,1270.80)"><path d="M12.6 -60.1H21.7V0H12.6V-50.9L3.2 -44.1V-53.5Z" fill="#000"/></g><g transform="translate(186.90,968.80)"><path d="M6.80 -42.70 V-47.55A8.75 8.75 0 0 1 24.30 -47.55V-42Q24.30 -39.50 23.20 -37.00L22.20 -35.30" fill="none" stroke="#000" stroke-width="8.3" stroke-linejoin="miter" stroke-miterlimit="10"/><path d="M19.15 -37.60 L27.85 -37.60 L12.15 -8.30 L2.65 -8.30 L2.65 -9.80 Z" fill="#000"/><path d="M2.65 -8.40 H27.75 V0 H2.65 Z" fill="#000"/></g><rect x="1936.8" y="252.8" width="644.6" height="100.0" rx="10" ry="10" fill="#fff" fill-opacity="0.8" stroke="#ccc" stroke-opacity="0.8" stroke-width="3.33"/><path d="M1951.7 297.3H2086.2" stroke="#4477AA" stroke-width="16.67" fill="none"/><text transform="translate(2123.30,317.20) scale(0.5512,1)" font-size="58.80" style="stroke-width:0.7px">L</text><text transform="translate(2143.10,317.20) scale(0.7174,1)" font-size="52.33" style="stroke-width:0.7px">ongitudinal&#160;component</text><rect x="1947.7" y="976.2" width="633.7" height="100.9" rx="10" ry="10" fill="#fff" fill-opacity="0.8" stroke="#ccc" stroke-opacity="0.8" stroke-width="3.33"/><path d="M1962.6 1021.6H2097.1" stroke="#AA3377" stroke-width="16.67" fill="none"/><text transform="translate(2135.00,1041.00) scale(0.5552,1)" font-size="58.80" style="stroke-width:0.7px">T</text><text transform="translate(2154.94,1041.00) scale(0.7226,1)" font-size="52.33" style="stroke-width:0.7px">ransversal&#160;component</text></svg></body></html>
